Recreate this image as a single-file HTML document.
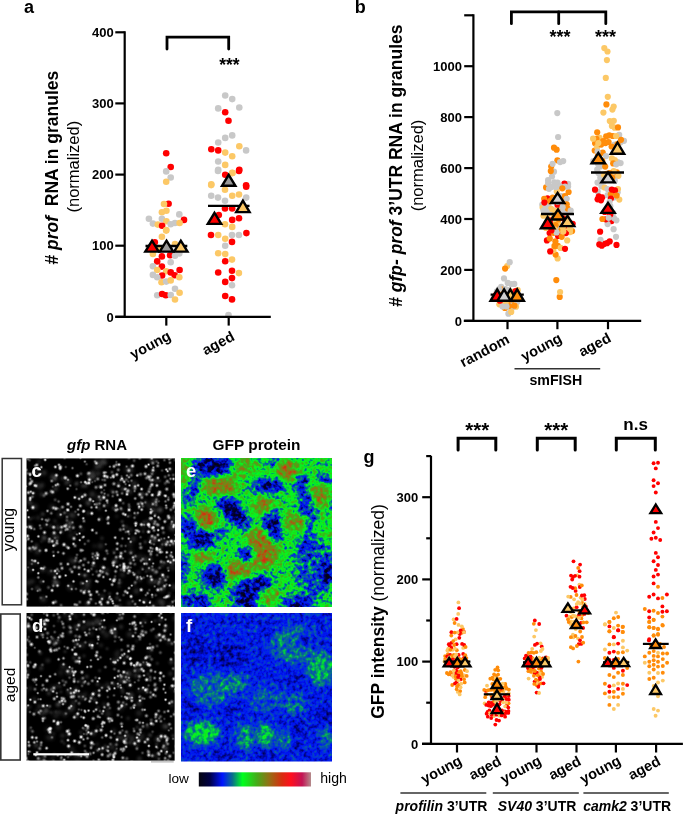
<!DOCTYPE html>
<html><head><meta charset="utf-8"><style>
html,body{margin:0;padding:0;background:#fff;overflow:hidden;width:685px;height:814px;}
svg{display:block;font-family:"Liberation Sans",sans-serif;will-change:transform;}
</style></head><body>
<svg width="685" height="814" viewBox="0 0 685 814">
<rect width="685" height="814" fill="#fff"/>
<text x="24.0" y="12.8" font-size="18" font-weight="bold" text-anchor="start">a</text>
<text transform="translate(58.3 167.7) rotate(-90)" font-size="17.5" font-weight="bold" text-anchor="middle"># <tspan font-style="italic">prof</tspan>&#160; RNA in granules</text>
<text transform="translate(78.8 166.7) rotate(-90)" font-size="16.5" text-anchor="middle">(normalized)</text>
<text transform="translate(172 339) rotate(-28)" font-size="14.6" font-weight="bold" text-anchor="end">young</text>
<text transform="translate(235.5 339.5) rotate(-28)" font-size="14.6" font-weight="bold" text-anchor="end">aged</text>
<path d="M167.0 49.0 L167.0 37.2 L228.7 37.2 L228.7 49.0" fill="none" stroke="#000" stroke-width="2.8" stroke-linecap="round" stroke-linejoin="miter"/>
<text x="219.2" y="70.6" font-size="17.5" font-weight="bold" text-anchor="start">***</text>
<circle cx="166.2" cy="153.3" r="3.3" fill="#ff0000"/>
<circle cx="170.7" cy="167.0" r="3.3" fill="#ff0000"/>
<circle cx="166.2" cy="171.4" r="3.3" fill="#c8c8c8"/>
<circle cx="170.7" cy="177.5" r="3.3" fill="#c8c8c8"/>
<circle cx="166.2" cy="181.8" r="3.3" fill="#fcc866"/>
<circle cx="168.6" cy="203.7" r="3.3" fill="#ff0000"/>
<circle cx="164.0" cy="204.0" r="3.3" fill="#fcc866"/>
<circle cx="166.4" cy="210.7" r="3.3" fill="#fcc866"/>
<circle cx="161.9" cy="212.3" r="3.3" fill="#fcc866"/>
<circle cx="179.3" cy="214.4" r="3.3" fill="#c8c8c8"/>
<circle cx="148.9" cy="218.7" r="3.3" fill="#c8c8c8"/>
<circle cx="161.9" cy="218.7" r="3.3" fill="#c8c8c8"/>
<circle cx="184.0" cy="219.9" r="3.3" fill="#ff0000"/>
<circle cx="166.4" cy="221.2" r="3.3" fill="#fcc866"/>
<circle cx="152.9" cy="223.6" r="3.3" fill="#c8c8c8"/>
<circle cx="157.8" cy="224.6" r="3.3" fill="#fcc866"/>
<circle cx="162.1" cy="225.8" r="3.3" fill="#ff0000"/>
<circle cx="170.7" cy="224.2" r="3.3" fill="#c8c8c8"/>
<circle cx="175.0" cy="223.0" r="3.3" fill="#c8c8c8"/>
<circle cx="179.6" cy="223.0" r="3.3" fill="#fcc866"/>
<circle cx="166.2" cy="230.0" r="3.3" fill="#fcc866"/>
<circle cx="161.9" cy="236.8" r="3.3" fill="#fcc866"/>
<circle cx="166.2" cy="230.6" r="3.3" fill="#fcc866"/>
<circle cx="154.8" cy="242.3" r="3.3" fill="#ff0000"/>
<circle cx="152.9" cy="254.0" r="3.3" fill="#fcc866"/>
<circle cx="161.9" cy="256.4" r="3.3" fill="#ff0000"/>
<circle cx="170.1" cy="255.2" r="3.3" fill="#ff0000"/>
<circle cx="175.0" cy="255.8" r="3.3" fill="#c8c8c8"/>
<circle cx="179.3" cy="253.4" r="3.3" fill="#c8c8c8"/>
<circle cx="157.2" cy="261.4" r="3.3" fill="#ff0000"/>
<circle cx="170.7" cy="262.2" r="3.3" fill="#c8c8c8"/>
<circle cx="152.9" cy="266.3" r="3.3" fill="#c8c8c8"/>
<circle cx="161.9" cy="266.6" r="3.3" fill="#ff0000"/>
<circle cx="179.6" cy="270.0" r="3.3" fill="#ff0000"/>
<circle cx="157.2" cy="270.0" r="3.3" fill="#fcc866"/>
<circle cx="166.2" cy="271.2" r="3.3" fill="#fcc866"/>
<circle cx="170.7" cy="272.4" r="3.3" fill="#ff0000"/>
<circle cx="174.7" cy="275.2" r="3.3" fill="#ff0000"/>
<circle cx="152.9" cy="274.9" r="3.3" fill="#c8c8c8"/>
<circle cx="162.1" cy="275.5" r="3.3" fill="#ff0000"/>
<circle cx="157.2" cy="277.3" r="3.3" fill="#c8c8c8"/>
<circle cx="179.3" cy="277.3" r="3.3" fill="#fcc866"/>
<circle cx="161.5" cy="282.3" r="3.3" fill="#fcc866"/>
<circle cx="166.2" cy="281.6" r="3.3" fill="#c8c8c8"/>
<circle cx="170.7" cy="280.4" r="3.3" fill="#fcc866"/>
<circle cx="175.0" cy="288.8" r="3.3" fill="#c8c8c8"/>
<circle cx="179.6" cy="292.7" r="3.3" fill="#fcc866"/>
<circle cx="157.2" cy="295.2" r="3.3" fill="#c8c8c8"/>
<circle cx="162.1" cy="294.0" r="3.3" fill="#ff0000"/>
<circle cx="165.8" cy="295.2" r="3.3" fill="#ff0000"/>
<circle cx="170.7" cy="295.0" r="3.3" fill="#c8c8c8"/>
<circle cx="175.0" cy="299.5" r="3.3" fill="#fcc866"/>
<circle cx="175.0" cy="244.0" r="3.3" fill="#fcc866"/>
<circle cx="158.0" cy="248.0" r="3.3" fill="#fcc866"/>
<circle cx="170.0" cy="249.0" r="3.3" fill="#c8c8c8"/>
<circle cx="225.2" cy="95.5" r="3.3" fill="#c8c8c8"/>
<circle cx="232.2" cy="99.1" r="3.3" fill="#c8c8c8"/>
<circle cx="218.2" cy="108.4" r="3.3" fill="#c8c8c8"/>
<circle cx="239.3" cy="107.5" r="3.3" fill="#c8c8c8"/>
<circle cx="225.2" cy="112.3" r="3.3" fill="#ff0000"/>
<circle cx="228.5" cy="120.7" r="3.3" fill="#ff0000"/>
<circle cx="232.2" cy="135.4" r="3.3" fill="#c8c8c8"/>
<circle cx="225.2" cy="137.9" r="3.3" fill="#c8c8c8"/>
<circle cx="218.2" cy="142.5" r="3.3" fill="#c8c8c8"/>
<circle cx="211.3" cy="149.2" r="3.3" fill="#ff0000"/>
<circle cx="218.2" cy="150.4" r="3.3" fill="#ff0000"/>
<circle cx="239.3" cy="146.2" r="3.3" fill="#fcc866"/>
<circle cx="246.1" cy="150.4" r="3.3" fill="#c8c8c8"/>
<circle cx="225.2" cy="152.6" r="3.3" fill="#fcc866"/>
<circle cx="232.2" cy="156.3" r="3.3" fill="#fcc866"/>
<circle cx="218.2" cy="161.5" r="3.3" fill="#c8c8c8"/>
<circle cx="225.2" cy="164.9" r="3.3" fill="#fcc866"/>
<circle cx="218.2" cy="169.8" r="3.3" fill="#c8c8c8"/>
<circle cx="239.3" cy="169.8" r="3.3" fill="#ff0000"/>
<circle cx="225.2" cy="174.8" r="3.3" fill="#ff0000"/>
<circle cx="232.2" cy="172.9" r="3.3" fill="#fcc866"/>
<circle cx="211.3" cy="184.3" r="3.3" fill="#fcc866"/>
<circle cx="246.1" cy="185.2" r="3.3" fill="#ff0000"/>
<circle cx="218.0" cy="170.9" r="3.3" fill="#c8c8c8"/>
<circle cx="239.0" cy="170.9" r="3.3" fill="#ff0000"/>
<circle cx="232.4" cy="173.1" r="3.3" fill="#fcc866"/>
<circle cx="211.2" cy="185.1" r="3.3" fill="#fcc866"/>
<circle cx="246.2" cy="186.8" r="3.3" fill="#ff0000"/>
<circle cx="225.0" cy="189.7" r="3.3" fill="#fcc866"/>
<circle cx="211.2" cy="195.8" r="3.3" fill="#c8c8c8"/>
<circle cx="218.0" cy="197.6" r="3.3" fill="#c8c8c8"/>
<circle cx="232.2" cy="195.8" r="3.3" fill="#fcc866"/>
<circle cx="239.0" cy="194.5" r="3.3" fill="#fcc866"/>
<circle cx="246.2" cy="197.6" r="3.3" fill="#c8c8c8"/>
<circle cx="225.0" cy="200.7" r="3.3" fill="#c8c8c8"/>
<circle cx="225.0" cy="208.5" r="3.3" fill="#ff0000"/>
<circle cx="232.2" cy="208.4" r="3.3" fill="#ff0000"/>
<circle cx="218.8" cy="215.1" r="3.3" fill="#ff0000"/>
<circle cx="232.2" cy="219.9" r="3.3" fill="#ff0000"/>
<circle cx="239.0" cy="218.2" r="3.3" fill="#ff0000"/>
<circle cx="225.0" cy="224.3" r="3.3" fill="#fcc866"/>
<circle cx="232.2" cy="226.9" r="3.3" fill="#fcc866"/>
<circle cx="211.0" cy="235.0" r="3.3" fill="#ff0000"/>
<circle cx="218.2" cy="235.0" r="3.3" fill="#fcc866"/>
<circle cx="232.0" cy="235.0" r="3.3" fill="#c8c8c8"/>
<circle cx="238.9" cy="235.0" r="3.3" fill="#c8c8c8"/>
<circle cx="246.4" cy="233.1" r="3.3" fill="#ff0000"/>
<circle cx="225.2" cy="238.8" r="3.3" fill="#fcc866"/>
<circle cx="232.0" cy="241.9" r="3.3" fill="#ff0000"/>
<circle cx="225.2" cy="245.7" r="3.3" fill="#c8c8c8"/>
<circle cx="218.2" cy="253.2" r="3.3" fill="#fcc866"/>
<circle cx="225.2" cy="254.1" r="3.3" fill="#fcc866"/>
<circle cx="232.0" cy="259.6" r="3.3" fill="#fcc866"/>
<circle cx="225.2" cy="261.2" r="3.3" fill="#ff0000"/>
<circle cx="218.2" cy="272.5" r="3.3" fill="#ff0000"/>
<circle cx="232.0" cy="270.7" r="3.3" fill="#ff0000"/>
<circle cx="238.9" cy="273.1" r="3.3" fill="#fcc866"/>
<circle cx="232.0" cy="278.1" r="3.3" fill="#ff0000"/>
<circle cx="225.2" cy="281.9" r="3.3" fill="#ff0000"/>
<circle cx="232.0" cy="285.2" r="3.3" fill="#c8c8c8"/>
<circle cx="225.2" cy="296.0" r="3.3" fill="#ff0000"/>
<circle cx="232.0" cy="299.4" r="3.3" fill="#ff0000"/>
<circle cx="228.5" cy="315.0" r="3.3" fill="#c8c8c8"/>
<line x1="145.5" y1="246.0" x2="187.3" y2="246.0" stroke="#000" stroke-width="2.4" stroke-linecap="butt"/>
<line x1="208.0" y1="205.9" x2="249.5" y2="205.9" stroke="#000" stroke-width="2.4" stroke-linecap="butt"/>
<path d="M152.0 240.7 L158.7 251.6 L145.3 251.6 Z" fill="#ff0000" stroke="#000" stroke-width="2.4" stroke-linejoin="miter"/>
<path d="M166.5 240.7 L173.2 251.6 L159.8 251.6 Z" fill="#9a9a9a" stroke="#000" stroke-width="2.4" stroke-linejoin="miter"/>
<path d="M180.8 240.7 L187.5 251.6 L174.1 251.6 Z" fill="#fcc866" stroke="#000" stroke-width="2.4" stroke-linejoin="miter"/>
<path d="M228.7 174.8 L235.4 185.8 L222.0 185.8 Z" fill="#9a9a9a" stroke="#000" stroke-width="2.4" stroke-linejoin="miter"/>
<path d="M242.9 200.7 L249.6 212.1 L236.2 212.1 Z" fill="#fcc866" stroke="#000" stroke-width="2.4" stroke-linejoin="miter"/>
<path d="M214.5 212.9 L221.2 223.9 L207.8 223.9 Z" fill="#ff0000" stroke="#000" stroke-width="2.4" stroke-linejoin="miter"/>
<line x1="124.7" y1="31.2" x2="124.7" y2="317.9" stroke="#000" stroke-width="2.2" stroke-linecap="butt"/>
<line x1="115.3" y1="316.8" x2="270.8" y2="316.8" stroke="#000" stroke-width="2.2" stroke-linecap="butt"/>
<line x1="115.3" y1="316.8" x2="124.7" y2="316.8" stroke="#000" stroke-width="2.2" stroke-linecap="butt"/>
<text x="113.8" y="321.5" font-size="13" font-weight="bold" text-anchor="end">0</text>
<line x1="115.3" y1="245.7" x2="124.7" y2="245.7" stroke="#000" stroke-width="2.2" stroke-linecap="butt"/>
<text x="113.8" y="250.4" font-size="13" font-weight="bold" text-anchor="end">100</text>
<line x1="115.3" y1="174.6" x2="124.7" y2="174.6" stroke="#000" stroke-width="2.2" stroke-linecap="butt"/>
<text x="113.8" y="179.2" font-size="13" font-weight="bold" text-anchor="end">200</text>
<line x1="115.3" y1="103.4" x2="124.7" y2="103.4" stroke="#000" stroke-width="2.2" stroke-linecap="butt"/>
<text x="113.8" y="108.1" font-size="13" font-weight="bold" text-anchor="end">300</text>
<line x1="115.3" y1="32.3" x2="124.7" y2="32.3" stroke="#000" stroke-width="2.2" stroke-linecap="butt"/>
<text x="113.8" y="37.0" font-size="13" font-weight="bold" text-anchor="end">400</text>
<line x1="166.3" y1="316.8" x2="166.3" y2="325.6" stroke="#000" stroke-width="2.2" stroke-linecap="butt"/>
<line x1="228.7" y1="316.8" x2="228.7" y2="325.6" stroke="#000" stroke-width="2.2" stroke-linecap="butt"/>
<text x="354.7" y="12.7" font-size="18" font-weight="bold" text-anchor="start">b</text>
<circle cx="513.1" cy="295.1" r="3.1" fill="#c8c8c8"/>
<circle cx="511.0" cy="291.6" r="3.1" fill="#fcc866"/>
<circle cx="514.3" cy="283.9" r="3.1" fill="#c8c8c8"/>
<circle cx="519.0" cy="297.0" r="3.1" fill="#c8c8c8"/>
<circle cx="501.2" cy="286.9" r="3.1" fill="#c8c8c8"/>
<circle cx="511.1" cy="284.1" r="3.1" fill="#c8c8c8"/>
<circle cx="502.3" cy="295.8" r="3.1" fill="#fcc866"/>
<circle cx="507.3" cy="294.7" r="3.1" fill="#c8c8c8"/>
<circle cx="498.8" cy="292.6" r="3.1" fill="#c8c8c8"/>
<circle cx="507.2" cy="266.1" r="3.1" fill="#fcc866"/>
<circle cx="505.2" cy="295.3" r="3.1" fill="#ff8c0a"/>
<circle cx="496.9" cy="291.3" r="3.1" fill="#c8c8c8"/>
<circle cx="516.4" cy="298.4" r="3.1" fill="#ff0000"/>
<circle cx="510.9" cy="301.6" r="3.1" fill="#ff8c0a"/>
<circle cx="517.2" cy="302.1" r="3.1" fill="#c8c8c8"/>
<circle cx="509.2" cy="307.6" r="3.1" fill="#c8c8c8"/>
<circle cx="508.3" cy="290.2" r="3.1" fill="#c8c8c8"/>
<circle cx="515.6" cy="294.6" r="3.1" fill="#ff0000"/>
<circle cx="499.3" cy="304.3" r="3.1" fill="#fcc866"/>
<circle cx="505.1" cy="268.6" r="3.1" fill="#ff8c0a"/>
<circle cx="516.0" cy="306.7" r="3.1" fill="#fcc866"/>
<circle cx="508.4" cy="313.7" r="3.1" fill="#c8c8c8"/>
<circle cx="511.3" cy="297.7" r="3.1" fill="#ff8c0a"/>
<circle cx="513.4" cy="292.3" r="3.1" fill="#fcc866"/>
<circle cx="512.8" cy="307.2" r="3.1" fill="#c8c8c8"/>
<circle cx="511.5" cy="305.7" r="3.1" fill="#c8c8c8"/>
<circle cx="513.7" cy="298.8" r="3.1" fill="#fcc866"/>
<circle cx="504.9" cy="308.0" r="3.1" fill="#ff8c0a"/>
<circle cx="517.7" cy="290.2" r="3.1" fill="#fcc866"/>
<circle cx="515.6" cy="291.2" r="3.1" fill="#ff0000"/>
<circle cx="503.1" cy="300.3" r="3.1" fill="#ff0000"/>
<circle cx="503.1" cy="293.8" r="3.1" fill="#fcc866"/>
<circle cx="502.5" cy="289.6" r="3.1" fill="#ff8c0a"/>
<circle cx="499.9" cy="300.7" r="3.1" fill="#ff0000"/>
<circle cx="501.2" cy="292.2" r="3.1" fill="#ff8c0a"/>
<circle cx="509.0" cy="298.9" r="3.1" fill="#ff0000"/>
<circle cx="496.1" cy="294.8" r="3.1" fill="#ff0000"/>
<circle cx="504.2" cy="297.3" r="3.1" fill="#fcc866"/>
<circle cx="508.0" cy="296.6" r="3.1" fill="#ff8c0a"/>
<circle cx="505.6" cy="292.1" r="3.1" fill="#ff8c0a"/>
<circle cx="504.0" cy="278.4" r="3.1" fill="#c8c8c8"/>
<circle cx="501.0" cy="296.9" r="3.1" fill="#ff8c0a"/>
<circle cx="505.5" cy="289.2" r="3.1" fill="#c8c8c8"/>
<circle cx="509.1" cy="306.0" r="3.1" fill="#ff8c0a"/>
<circle cx="514.4" cy="305.7" r="3.1" fill="#ff8c0a"/>
<circle cx="506.2" cy="299.3" r="3.1" fill="#c8c8c8"/>
<circle cx="509.7" cy="262.2" r="3.1" fill="#c8c8c8"/>
<circle cx="499.1" cy="289.2" r="3.1" fill="#c8c8c8"/>
<circle cx="505.7" cy="302.8" r="3.1" fill="#fcc866"/>
<circle cx="498.2" cy="296.9" r="3.1" fill="#c8c8c8"/>
<circle cx="506.5" cy="306.5" r="3.1" fill="#c8c8c8"/>
<circle cx="507.7" cy="282.9" r="3.1" fill="#c8c8c8"/>
<circle cx="517.6" cy="295.8" r="3.1" fill="#ff0000"/>
<circle cx="499.3" cy="295.3" r="3.1" fill="#ff8c0a"/>
<circle cx="502.5" cy="306.5" r="3.1" fill="#c8c8c8"/>
<circle cx="511.2" cy="311.9" r="3.1" fill="#fcc866"/>
<circle cx="508.7" cy="293.1" r="3.1" fill="#c8c8c8"/>
<circle cx="510.6" cy="294.7" r="3.1" fill="#c8c8c8"/>
<circle cx="496.1" cy="297.6" r="3.1" fill="#c8c8c8"/>
<circle cx="565.8" cy="211.8" r="3.1" fill="#c8c8c8"/>
<circle cx="558.1" cy="137.0" r="3.1" fill="#c8c8c8"/>
<circle cx="546.9" cy="240.4" r="3.1" fill="#ff0000"/>
<circle cx="555.4" cy="241.3" r="3.1" fill="#ff8c0a"/>
<circle cx="552.7" cy="224.4" r="3.1" fill="#fcc866"/>
<circle cx="559.0" cy="230.9" r="3.1" fill="#c8c8c8"/>
<circle cx="561.3" cy="196.1" r="3.1" fill="#c8c8c8"/>
<circle cx="554.0" cy="171.7" r="3.1" fill="#c8c8c8"/>
<circle cx="549.6" cy="233.1" r="3.1" fill="#ff0000"/>
<circle cx="549.9" cy="223.1" r="3.1" fill="#ff0000"/>
<circle cx="568.1" cy="183.9" r="3.1" fill="#c8c8c8"/>
<circle cx="562.5" cy="199.8" r="3.1" fill="#ff8c0a"/>
<circle cx="552.0" cy="176.5" r="3.1" fill="#c8c8c8"/>
<circle cx="557.2" cy="215.7" r="3.1" fill="#fcc866"/>
<circle cx="568.6" cy="192.0" r="3.1" fill="#ff8c0a"/>
<circle cx="558.6" cy="224.1" r="3.1" fill="#fcc866"/>
<circle cx="547.5" cy="198.4" r="3.1" fill="#ff0000"/>
<circle cx="565.4" cy="230.0" r="3.1" fill="#ff0000"/>
<circle cx="543.4" cy="215.7" r="3.1" fill="#fcc866"/>
<circle cx="556.6" cy="149.7" r="3.1" fill="#ff8c0a"/>
<circle cx="556.8" cy="191.5" r="3.1" fill="#fcc866"/>
<circle cx="557.4" cy="160.3" r="3.1" fill="#ff8c0a"/>
<circle cx="568.1" cy="186.4" r="3.1" fill="#c8c8c8"/>
<circle cx="572.7" cy="223.8" r="3.1" fill="#ff0000"/>
<circle cx="553.6" cy="232.8" r="3.1" fill="#ff8c0a"/>
<circle cx="559.7" cy="296.9" r="3.1" fill="#ff8c0a"/>
<circle cx="557.6" cy="258.4" r="3.1" fill="#fcc866"/>
<circle cx="542.3" cy="204.7" r="3.1" fill="#c8c8c8"/>
<circle cx="566.9" cy="218.0" r="3.1" fill="#fcc866"/>
<circle cx="565.1" cy="220.3" r="3.1" fill="#ff8c0a"/>
<circle cx="564.4" cy="183.6" r="3.1" fill="#ff0000"/>
<circle cx="554.2" cy="182.3" r="3.1" fill="#c8c8c8"/>
<circle cx="557.3" cy="113.1" r="3.1" fill="#c8c8c8"/>
<circle cx="547.7" cy="203.4" r="3.1" fill="#fcc866"/>
<circle cx="548.0" cy="225.6" r="3.1" fill="#fcc866"/>
<circle cx="567.6" cy="208.5" r="3.1" fill="#ff8c0a"/>
<circle cx="546.2" cy="209.1" r="3.1" fill="#fcc866"/>
<circle cx="563.2" cy="161.1" r="3.1" fill="#c8c8c8"/>
<circle cx="551.2" cy="166.5" r="3.1" fill="#ff8c0a"/>
<circle cx="549.1" cy="210.3" r="3.1" fill="#fcc866"/>
<circle cx="549.8" cy="238.6" r="3.1" fill="#ff8c0a"/>
<circle cx="546.0" cy="227.9" r="3.1" fill="#fcc866"/>
<circle cx="557.5" cy="182.7" r="3.1" fill="#c8c8c8"/>
<circle cx="547.0" cy="215.6" r="3.1" fill="#fcc866"/>
<circle cx="546.1" cy="187.4" r="3.1" fill="#ff8c0a"/>
<circle cx="565.0" cy="196.0" r="3.1" fill="#ff8c0a"/>
<circle cx="555.7" cy="187.1" r="3.1" fill="#c8c8c8"/>
<circle cx="567.8" cy="231.0" r="3.1" fill="#fcc866"/>
<circle cx="559.9" cy="209.0" r="3.1" fill="#ff8c0a"/>
<circle cx="556.4" cy="221.8" r="3.1" fill="#fcc866"/>
<circle cx="558.1" cy="235.9" r="3.1" fill="#ff0000"/>
<circle cx="557.5" cy="205.0" r="3.1" fill="#ff0000"/>
<circle cx="557.8" cy="245.9" r="3.1" fill="#ff8c0a"/>
<circle cx="566.7" cy="198.8" r="3.1" fill="#c8c8c8"/>
<circle cx="550.8" cy="171.1" r="3.1" fill="#ff8c0a"/>
<circle cx="548.7" cy="207.1" r="3.1" fill="#c8c8c8"/>
<circle cx="557.5" cy="210.5" r="3.1" fill="#fcc866"/>
<circle cx="548.1" cy="183.2" r="3.1" fill="#c8c8c8"/>
<circle cx="555.6" cy="254.6" r="3.1" fill="#ff8c0a"/>
<circle cx="551.6" cy="186.9" r="3.1" fill="#c8c8c8"/>
<circle cx="549.8" cy="220.4" r="3.1" fill="#ff0000"/>
<circle cx="557.7" cy="201.7" r="3.1" fill="#c8c8c8"/>
<circle cx="566.7" cy="204.3" r="3.1" fill="#ff8c0a"/>
<circle cx="558.6" cy="228.5" r="3.1" fill="#c8c8c8"/>
<circle cx="548.1" cy="180.2" r="3.1" fill="#c8c8c8"/>
<circle cx="550.9" cy="226.7" r="3.1" fill="#ff0000"/>
<circle cx="560.0" cy="186.2" r="3.1" fill="#c8c8c8"/>
<circle cx="562.6" cy="207.2" r="3.1" fill="#c8c8c8"/>
<circle cx="551.4" cy="212.6" r="3.1" fill="#c8c8c8"/>
<circle cx="561.4" cy="230.0" r="3.1" fill="#ff8c0a"/>
<circle cx="572.1" cy="231.1" r="3.1" fill="#ff8c0a"/>
<circle cx="555.6" cy="225.2" r="3.1" fill="#ff8c0a"/>
<circle cx="570.0" cy="232.1" r="3.1" fill="#fcc866"/>
<circle cx="559.9" cy="214.1" r="3.1" fill="#ff0000"/>
<circle cx="552.7" cy="197.7" r="3.1" fill="#ff8c0a"/>
<circle cx="562.6" cy="212.5" r="3.1" fill="#c8c8c8"/>
<circle cx="562.9" cy="227.5" r="3.1" fill="#fcc866"/>
<circle cx="554.5" cy="229.3" r="3.1" fill="#fcc866"/>
<circle cx="563.1" cy="218.3" r="3.1" fill="#ff0000"/>
<circle cx="554.0" cy="147.7" r="3.1" fill="#ff8c0a"/>
<circle cx="553.1" cy="210.1" r="3.1" fill="#c8c8c8"/>
<circle cx="551.2" cy="208.8" r="3.1" fill="#fcc866"/>
<circle cx="542.6" cy="207.6" r="3.1" fill="#fcc866"/>
<circle cx="565.9" cy="233.1" r="3.1" fill="#ff0000"/>
<circle cx="560.1" cy="162.1" r="3.1" fill="#c8c8c8"/>
<circle cx="544.2" cy="198.8" r="3.1" fill="#ff8c0a"/>
<circle cx="550.0" cy="201.2" r="3.1" fill="#ff8c0a"/>
<circle cx="570.7" cy="210.6" r="3.1" fill="#c8c8c8"/>
<circle cx="549.0" cy="188.8" r="3.1" fill="#c8c8c8"/>
<circle cx="565.0" cy="186.7" r="3.1" fill="#c8c8c8"/>
<circle cx="561.7" cy="236.8" r="3.1" fill="#ff8c0a"/>
<circle cx="560.4" cy="217.0" r="3.1" fill="#ff8c0a"/>
<circle cx="560.6" cy="247.9" r="3.1" fill="#fcc866"/>
<circle cx="552.6" cy="163.8" r="3.1" fill="#c8c8c8"/>
<circle cx="565.0" cy="248.8" r="3.1" fill="#ff0000"/>
<circle cx="563.3" cy="231.6" r="3.1" fill="#fcc866"/>
<circle cx="556.6" cy="232.4" r="3.1" fill="#c8c8c8"/>
<circle cx="553.3" cy="250.2" r="3.1" fill="#fcc866"/>
<circle cx="546.5" cy="211.5" r="3.1" fill="#c8c8c8"/>
<circle cx="543.4" cy="210.5" r="3.1" fill="#c8c8c8"/>
<circle cx="553.9" cy="216.2" r="3.1" fill="#fcc866"/>
<circle cx="562.3" cy="188.3" r="3.1" fill="#ff8c0a"/>
<circle cx="551.4" cy="230.5" r="3.1" fill="#ff0000"/>
<circle cx="545.4" cy="205.4" r="3.1" fill="#c8c8c8"/>
<circle cx="550.2" cy="251.4" r="3.1" fill="#ff0000"/>
<circle cx="544.4" cy="202.6" r="3.1" fill="#ff0000"/>
<circle cx="554.5" cy="245.9" r="3.1" fill="#ff8c0a"/>
<circle cx="570.1" cy="229.0" r="3.1" fill="#fcc866"/>
<circle cx="567.2" cy="240.4" r="3.1" fill="#fcc866"/>
<circle cx="555.1" cy="211.1" r="3.1" fill="#fcc866"/>
<circle cx="556.3" cy="280.1" r="3.1" fill="#ff8c0a"/>
<circle cx="558.6" cy="219.3" r="3.1" fill="#ff8c0a"/>
<circle cx="546.6" cy="222.9" r="3.1" fill="#ff8c0a"/>
<circle cx="555.2" cy="199.7" r="3.1" fill="#c8c8c8"/>
<circle cx="560.1" cy="292.0" r="3.1" fill="#fcc866"/>
<circle cx="601.0" cy="200.3" r="3.1" fill="#ff0000"/>
<circle cx="611.9" cy="125.9" r="3.1" fill="#fcc866"/>
<circle cx="609.0" cy="177.8" r="3.1" fill="#fcc866"/>
<circle cx="599.6" cy="137.9" r="3.1" fill="#fcc866"/>
<circle cx="601.5" cy="186.3" r="3.1" fill="#c8c8c8"/>
<circle cx="593.3" cy="161.2" r="3.1" fill="#c8c8c8"/>
<circle cx="604.3" cy="48.1" r="3.1" fill="#fcc866"/>
<circle cx="611.9" cy="158.4" r="3.1" fill="#fcc866"/>
<circle cx="608.3" cy="221.2" r="3.1" fill="#ff0000"/>
<circle cx="608.6" cy="142.0" r="3.1" fill="#ff8c0a"/>
<circle cx="597.6" cy="199.3" r="3.1" fill="#ff0000"/>
<circle cx="599.8" cy="153.3" r="3.1" fill="#ff8c0a"/>
<circle cx="611.6" cy="221.1" r="3.1" fill="#ff0000"/>
<circle cx="597.7" cy="191.5" r="3.1" fill="#c8c8c8"/>
<circle cx="594.7" cy="150.5" r="3.1" fill="#ff8c0a"/>
<circle cx="620.6" cy="163.1" r="3.1" fill="#c8c8c8"/>
<circle cx="607.6" cy="224.1" r="3.1" fill="#c8c8c8"/>
<circle cx="615.2" cy="176.3" r="3.1" fill="#c8c8c8"/>
<circle cx="614.4" cy="144.7" r="3.1" fill="#c8c8c8"/>
<circle cx="609.3" cy="135.3" r="3.1" fill="#ff8c0a"/>
<circle cx="600.9" cy="175.5" r="3.1" fill="#ff8c0a"/>
<circle cx="602.7" cy="152.7" r="3.1" fill="#ff8c0a"/>
<circle cx="617.7" cy="192.3" r="3.1" fill="#c8c8c8"/>
<circle cx="613.7" cy="106.5" r="3.1" fill="#fcc866"/>
<circle cx="610.3" cy="206.2" r="3.1" fill="#c8c8c8"/>
<circle cx="605.7" cy="219.3" r="3.1" fill="#ff0000"/>
<circle cx="609.8" cy="121.1" r="3.1" fill="#fcc866"/>
<circle cx="614.0" cy="218.1" r="3.1" fill="#c8c8c8"/>
<circle cx="616.8" cy="172.4" r="3.1" fill="#ff8c0a"/>
<circle cx="602.4" cy="219.0" r="3.1" fill="#ff8c0a"/>
<circle cx="613.6" cy="229.2" r="3.1" fill="#c8c8c8"/>
<circle cx="598.8" cy="196.3" r="3.1" fill="#ff0000"/>
<circle cx="602.3" cy="197.3" r="3.1" fill="#ff0000"/>
<circle cx="613.8" cy="120.8" r="3.1" fill="#fcc866"/>
<circle cx="616.5" cy="244.9" r="3.1" fill="#ff0000"/>
<circle cx="614.7" cy="127.7" r="3.1" fill="#fcc866"/>
<circle cx="604.0" cy="243.9" r="3.1" fill="#ff0000"/>
<circle cx="606.6" cy="173.8" r="3.1" fill="#ff8c0a"/>
<circle cx="602.7" cy="164.6" r="3.1" fill="#ff8c0a"/>
<circle cx="596.6" cy="160.0" r="3.1" fill="#fcc866"/>
<circle cx="613.7" cy="171.2" r="3.1" fill="#fcc866"/>
<circle cx="608.6" cy="211.7" r="3.1" fill="#ff0000"/>
<circle cx="612.8" cy="136.0" r="3.1" fill="#ff8c0a"/>
<circle cx="616.0" cy="236.8" r="3.1" fill="#c8c8c8"/>
<circle cx="600.1" cy="231.7" r="3.1" fill="#ff0000"/>
<circle cx="601.8" cy="245.7" r="3.1" fill="#ff0000"/>
<circle cx="611.6" cy="146.5" r="3.1" fill="#ff8c0a"/>
<circle cx="597.2" cy="169.7" r="3.1" fill="#c8c8c8"/>
<circle cx="603.4" cy="112.6" r="3.1" fill="#fcc866"/>
<circle cx="617.7" cy="162.0" r="3.1" fill="#c8c8c8"/>
<circle cx="614.0" cy="197.4" r="3.1" fill="#c8c8c8"/>
<circle cx="619.3" cy="199.6" r="3.1" fill="#fcc866"/>
<circle cx="618.4" cy="175.8" r="3.1" fill="#fcc866"/>
<circle cx="618.0" cy="127.4" r="3.1" fill="#ff8c0a"/>
<circle cx="614.8" cy="160.0" r="3.1" fill="#fcc866"/>
<circle cx="620.3" cy="142.5" r="3.1" fill="#c8c8c8"/>
<circle cx="606.0" cy="156.1" r="3.1" fill="#c8c8c8"/>
<circle cx="607.6" cy="195.1" r="3.1" fill="#c8c8c8"/>
<circle cx="595.1" cy="143.3" r="3.1" fill="#ff8c0a"/>
<circle cx="613.2" cy="213.1" r="3.1" fill="#c8c8c8"/>
<circle cx="618.0" cy="189.0" r="3.1" fill="#fcc866"/>
<circle cx="616.4" cy="220.3" r="3.1" fill="#c8c8c8"/>
<circle cx="597.1" cy="147.0" r="3.1" fill="#fcc866"/>
<circle cx="605.8" cy="77.9" r="3.1" fill="#fcc866"/>
<circle cx="600.3" cy="177.8" r="3.1" fill="#c8c8c8"/>
<circle cx="601.2" cy="144.6" r="3.1" fill="#ff8c0a"/>
<circle cx="607.8" cy="96.8" r="3.1" fill="#fcc866"/>
<circle cx="600.2" cy="166.4" r="3.1" fill="#c8c8c8"/>
<circle cx="596.4" cy="138.9" r="3.1" fill="#ff8c0a"/>
<circle cx="606.2" cy="136.4" r="3.1" fill="#ff8c0a"/>
<circle cx="604.6" cy="187.5" r="3.1" fill="#fcc866"/>
<circle cx="605.2" cy="166.6" r="3.1" fill="#ff8c0a"/>
<circle cx="603.1" cy="141.0" r="3.1" fill="#ff8c0a"/>
<circle cx="624.0" cy="140.8" r="3.1" fill="#c8c8c8"/>
<circle cx="613.2" cy="163.4" r="3.1" fill="#ff8c0a"/>
<circle cx="603.8" cy="181.5" r="3.1" fill="#c8c8c8"/>
<circle cx="603.7" cy="174.5" r="3.1" fill="#fcc866"/>
<circle cx="598.2" cy="164.3" r="3.1" fill="#c8c8c8"/>
<circle cx="614.8" cy="180.7" r="3.1" fill="#c8c8c8"/>
<circle cx="597.5" cy="182.6" r="3.1" fill="#c8c8c8"/>
<circle cx="597.2" cy="132.3" r="3.1" fill="#ff8c0a"/>
<circle cx="612.3" cy="177.5" r="3.1" fill="#ff8c0a"/>
<circle cx="610.8" cy="194.3" r="3.1" fill="#ff8c0a"/>
<circle cx="609.7" cy="241.4" r="3.1" fill="#ff0000"/>
<circle cx="604.7" cy="212.0" r="3.1" fill="#ff0000"/>
<circle cx="609.6" cy="173.1" r="3.1" fill="#ff8c0a"/>
<circle cx="598.3" cy="143.1" r="3.1" fill="#fcc866"/>
<circle cx="606.4" cy="104.4" r="3.1" fill="#ff8c0a"/>
<circle cx="610.9" cy="198.5" r="3.1" fill="#ff0000"/>
<circle cx="617.5" cy="144.0" r="3.1" fill="#ff8c0a"/>
<circle cx="600.5" cy="239.8" r="3.1" fill="#c8c8c8"/>
<circle cx="607.5" cy="189.0" r="3.1" fill="#c8c8c8"/>
<circle cx="597.9" cy="155.7" r="3.1" fill="#ff8c0a"/>
<circle cx="609.6" cy="201.8" r="3.1" fill="#c8c8c8"/>
<circle cx="612.4" cy="109.6" r="3.1" fill="#fcc866"/>
<circle cx="607.5" cy="51.5" r="3.1" fill="#fcc866"/>
<circle cx="606.9" cy="60.1" r="3.1" fill="#fcc866"/>
<circle cx="619.2" cy="134.9" r="3.1" fill="#c8c8c8"/>
<circle cx="615.0" cy="190.4" r="3.1" fill="#ff0000"/>
<circle cx="599.7" cy="159.0" r="3.1" fill="#ff8c0a"/>
<circle cx="605.5" cy="143.1" r="3.1" fill="#ff8c0a"/>
<circle cx="597.6" cy="151.5" r="3.1" fill="#c8c8c8"/>
<circle cx="595.0" cy="189.7" r="3.1" fill="#ff0000"/>
<circle cx="616.3" cy="164.3" r="3.1" fill="#c8c8c8"/>
<circle cx="611.8" cy="189.6" r="3.1" fill="#ff0000"/>
<circle cx="593.1" cy="138.7" r="3.1" fill="#fcc866"/>
<circle cx="602.2" cy="160.9" r="3.1" fill="#ff8c0a"/>
<circle cx="598.4" cy="173.0" r="3.1" fill="#c8c8c8"/>
<circle cx="599.3" cy="244.4" r="3.1" fill="#ff0000"/>
<circle cx="616.6" cy="195.5" r="3.1" fill="#ff8c0a"/>
<circle cx="600.6" cy="181.4" r="3.1" fill="#c8c8c8"/>
<circle cx="610.3" cy="214.5" r="3.1" fill="#ff0000"/>
<circle cx="608.6" cy="217.8" r="3.1" fill="#c8c8c8"/>
<circle cx="621.0" cy="139.8" r="3.1" fill="#ff8c0a"/>
<circle cx="607.0" cy="243.2" r="3.1" fill="#ff0000"/>
<circle cx="616.1" cy="136.0" r="3.1" fill="#fcc866"/>
<line x1="490.6" y1="294.6" x2="523.8" y2="294.6" stroke="#000" stroke-width="2.4" stroke-linecap="butt"/>
<line x1="541.0" y1="214.0" x2="574.0" y2="214.0" stroke="#000" stroke-width="2.4" stroke-linecap="butt"/>
<line x1="591.0" y1="172.5" x2="624.0" y2="172.5" stroke="#000" stroke-width="2.4" stroke-linecap="butt"/>
<path d="M510.3 289.4 L517.0 300.8 L503.6 300.8 Z" fill="#fcc866" stroke="#000" stroke-width="2.4" stroke-linejoin="miter"/>
<path d="M497.2 289.4 L503.9 300.8 L490.5 300.8 Z" fill="#ff0000" stroke="#000" stroke-width="2.4" stroke-linejoin="miter"/>
<path d="M504.1 289.4 L510.8 300.8 L497.4 300.8 Z" fill="#d0d0d0" stroke="#000" stroke-width="2.4" stroke-linejoin="miter"/>
<path d="M517.2 289.4 L523.9 300.8 L510.5 300.8 Z" fill="#ff8c0a" stroke="#000" stroke-width="2.4" stroke-linejoin="miter"/>
<path d="M557.6 192.9 L564.3 203.0 L550.9 203.0 Z" fill="#d0d0d0" stroke="#000" stroke-width="2.4" stroke-linejoin="miter"/>
<path d="M558.0 209.4 L564.7 219.5 L551.3 219.5 Z" fill="#ff8c0a" stroke="#000" stroke-width="2.4" stroke-linejoin="miter"/>
<path d="M547.6 217.1 L554.3 228.3 L540.9 228.3 Z" fill="#ff0000" stroke="#000" stroke-width="2.4" stroke-linejoin="miter"/>
<path d="M567.5 215.9 L574.2 226.1 L560.8 226.1 Z" fill="#fcc866" stroke="#000" stroke-width="2.4" stroke-linejoin="miter"/>
<path d="M617.5 142.5 L624.2 153.7 L610.8 153.7 Z" fill="#fcc866" stroke="#000" stroke-width="2.4" stroke-linejoin="miter"/>
<path d="M598.3 152.9 L605.0 163.2 L591.6 163.2 Z" fill="#ff8c0a" stroke="#000" stroke-width="2.4" stroke-linejoin="miter"/>
<path d="M608.0 172.3 L614.7 182.4 L601.3 182.4 Z" fill="#d0d0d0" stroke="#000" stroke-width="2.4" stroke-linejoin="miter"/>
<path d="M608.0 202.9 L614.7 212.9 L601.3 212.9 Z" fill="#ff0000" stroke="#000" stroke-width="2.4" stroke-linejoin="miter"/>
<line x1="473.4" y1="14.2" x2="473.4" y2="321.9" stroke="#000" stroke-width="2.2" stroke-linecap="butt"/>
<line x1="463.8" y1="320.8" x2="641.2" y2="320.8" stroke="#000" stroke-width="2.2" stroke-linecap="butt"/>
<line x1="464.2" y1="320.8" x2="473.4" y2="320.8" stroke="#000" stroke-width="2.2" stroke-linecap="butt"/>
<text x="462.0" y="325.5" font-size="13" font-weight="bold" text-anchor="end">0</text>
<line x1="464.2" y1="269.9" x2="473.4" y2="269.9" stroke="#000" stroke-width="2.2" stroke-linecap="butt"/>
<text x="462.0" y="274.6" font-size="13" font-weight="bold" text-anchor="end">200</text>
<line x1="464.2" y1="219.0" x2="473.4" y2="219.0" stroke="#000" stroke-width="2.2" stroke-linecap="butt"/>
<text x="462.0" y="223.7" font-size="13" font-weight="bold" text-anchor="end">400</text>
<line x1="464.2" y1="168.1" x2="473.4" y2="168.1" stroke="#000" stroke-width="2.2" stroke-linecap="butt"/>
<text x="462.0" y="172.8" font-size="13" font-weight="bold" text-anchor="end">600</text>
<line x1="464.2" y1="117.1" x2="473.4" y2="117.1" stroke="#000" stroke-width="2.2" stroke-linecap="butt"/>
<text x="462.0" y="121.8" font-size="13" font-weight="bold" text-anchor="end">800</text>
<line x1="464.2" y1="66.2" x2="473.4" y2="66.2" stroke="#000" stroke-width="2.2" stroke-linecap="butt"/>
<text x="462.0" y="70.9" font-size="13" font-weight="bold" text-anchor="end">1000</text>
<line x1="464.2" y1="15.3" x2="473.4" y2="15.3" stroke="#000" stroke-width="2.2" stroke-linecap="butt"/>
<line x1="507.5" y1="320.8" x2="507.5" y2="329.2" stroke="#000" stroke-width="2.2" stroke-linecap="butt"/>
<line x1="557.4" y1="320.8" x2="557.4" y2="329.2" stroke="#000" stroke-width="2.2" stroke-linecap="butt"/>
<line x1="608.0" y1="320.8" x2="608.0" y2="329.2" stroke="#000" stroke-width="2.2" stroke-linecap="butt"/>
<text transform="translate(401.6 165.7) rotate(-90)" font-size="17.5" font-weight="bold" text-anchor="middle"># <tspan font-style="italic">gfp- prof</tspan> 3’UTR RNA in granules</text>
<text transform="translate(423.2 165.5) rotate(-90)" font-size="16.5" text-anchor="middle">(normalized)</text>
<text transform="translate(510.5 342.5) rotate(-28)" font-size="14.6" font-weight="bold" text-anchor="end">random</text>
<text transform="translate(563 341.2) rotate(-28)" font-size="14.6" font-weight="bold" text-anchor="end">young</text>
<text transform="translate(612 341) rotate(-28)" font-size="14.6" font-weight="bold" text-anchor="end">aged</text>
<line x1="514.5" y1="368.7" x2="600.2" y2="368.7" stroke="#333" stroke-width="1.4" stroke-linecap="butt"/>
<text x="555.8" y="384.8" font-size="14.2" font-weight="bold" text-anchor="middle">smFISH</text>
<path d="M511.4 23.7 L511.4 11.8 L605.8 11.8 L605.8 23.7" fill="none" stroke="#000" stroke-width="2.8" stroke-linecap="round" stroke-linejoin="miter"/>
<line x1="558.7" y1="11.8" x2="558.7" y2="23.7" stroke="#000" stroke-width="2.8" stroke-linecap="round"/>
<text x="549.5" y="43.3" font-size="18" font-weight="bold" text-anchor="start">***</text>
<text x="595.0" y="43.3" font-size="18" font-weight="bold" text-anchor="start">***</text>
<text x="363.6" y="462.5" font-size="18" font-weight="bold" text-anchor="start">g</text>
<circle cx="456.8" cy="650.2" r="1.9" fill="#ff8c0a"/>
<circle cx="463.2" cy="653.9" r="1.9" fill="#ff0000"/>
<circle cx="451.4" cy="632.2" r="1.9" fill="#ff0000"/>
<circle cx="456.7" cy="681.9" r="1.9" fill="#ff0000"/>
<circle cx="463.0" cy="629.1" r="1.9" fill="#ff8c0a"/>
<circle cx="461.2" cy="662.4" r="1.9" fill="#ff8c0a"/>
<circle cx="463.2" cy="647.9" r="1.9" fill="#fcc866"/>
<circle cx="460.7" cy="630.3" r="1.9" fill="#ff0000"/>
<circle cx="449.6" cy="645.8" r="1.9" fill="#ff0000"/>
<circle cx="460.6" cy="679.3" r="1.9" fill="#ff0000"/>
<circle cx="447.5" cy="665.1" r="1.9" fill="#ff0000"/>
<circle cx="457.3" cy="674.9" r="1.9" fill="#ff0000"/>
<circle cx="459.1" cy="608.2" r="1.9" fill="#ff0000"/>
<circle cx="445.2" cy="659.1" r="1.9" fill="#ff8c0a"/>
<circle cx="465.6" cy="661.1" r="1.9" fill="#ff8c0a"/>
<circle cx="464.2" cy="645.0" r="1.9" fill="#ff0000"/>
<circle cx="460.7" cy="671.2" r="1.9" fill="#ff8c0a"/>
<circle cx="452.6" cy="665.5" r="1.9" fill="#fcc866"/>
<circle cx="454.6" cy="623.0" r="1.9" fill="#ff8c0a"/>
<circle cx="458.4" cy="602.4" r="1.9" fill="#fcc866"/>
<circle cx="464.7" cy="682.4" r="1.9" fill="#ff8c0a"/>
<circle cx="464.8" cy="670.0" r="1.9" fill="#ff8c0a"/>
<circle cx="458.9" cy="684.8" r="1.9" fill="#ff8c0a"/>
<circle cx="463.3" cy="661.5" r="1.9" fill="#fcc866"/>
<circle cx="459.6" cy="665.9" r="1.9" fill="#ff8c0a"/>
<circle cx="455.4" cy="673.1" r="1.9" fill="#ff0000"/>
<circle cx="451.4" cy="642.8" r="1.9" fill="#ff0000"/>
<circle cx="447.9" cy="654.1" r="1.9" fill="#ff8c0a"/>
<circle cx="452.7" cy="649.8" r="1.9" fill="#fcc866"/>
<circle cx="465.6" cy="647.0" r="1.9" fill="#ff8c0a"/>
<circle cx="461.9" cy="632.8" r="1.9" fill="#ff8c0a"/>
<circle cx="461.8" cy="626.3" r="1.9" fill="#fcc866"/>
<circle cx="457.8" cy="691.9" r="1.9" fill="#fcc866"/>
<circle cx="462.1" cy="643.9" r="1.9" fill="#ff0000"/>
<circle cx="456.7" cy="689.2" r="1.9" fill="#ff8c0a"/>
<circle cx="454.6" cy="663.8" r="1.9" fill="#ff8c0a"/>
<circle cx="453.8" cy="654.8" r="1.9" fill="#ff8c0a"/>
<circle cx="458.3" cy="671.8" r="1.9" fill="#ff8c0a"/>
<circle cx="463.9" cy="665.7" r="1.9" fill="#fcc866"/>
<circle cx="450.2" cy="654.8" r="1.9" fill="#ff0000"/>
<circle cx="459.8" cy="634.0" r="1.9" fill="#ff0000"/>
<circle cx="467.9" cy="661.7" r="1.9" fill="#fcc866"/>
<circle cx="451.2" cy="647.5" r="1.9" fill="#ff0000"/>
<circle cx="459.4" cy="659.0" r="1.9" fill="#ff8c0a"/>
<circle cx="447.4" cy="650.4" r="1.9" fill="#fcc866"/>
<circle cx="451.3" cy="635.6" r="1.9" fill="#ff8c0a"/>
<circle cx="456.8" cy="662.8" r="1.9" fill="#ff8c0a"/>
<circle cx="459.7" cy="675.3" r="1.9" fill="#ff0000"/>
<circle cx="458.4" cy="680.2" r="1.9" fill="#fcc866"/>
<circle cx="453.0" cy="673.1" r="1.9" fill="#fcc866"/>
<circle cx="454.9" cy="648.6" r="1.9" fill="#fcc866"/>
<circle cx="460.2" cy="691.1" r="1.9" fill="#ff8c0a"/>
<circle cx="452.2" cy="685.0" r="1.9" fill="#ff8c0a"/>
<circle cx="456.2" cy="670.6" r="1.9" fill="#ff0000"/>
<circle cx="448.3" cy="648.6" r="1.9" fill="#fcc866"/>
<circle cx="445.1" cy="656.1" r="1.9" fill="#ff8c0a"/>
<circle cx="455.2" cy="661.3" r="1.9" fill="#ff0000"/>
<circle cx="448.8" cy="644.2" r="1.9" fill="#ff0000"/>
<circle cx="460.6" cy="687.3" r="1.9" fill="#fcc866"/>
<circle cx="463.9" cy="658.0" r="1.9" fill="#ff0000"/>
<circle cx="455.7" cy="678.7" r="1.9" fill="#ff8c0a"/>
<circle cx="453.6" cy="676.9" r="1.9" fill="#fcc866"/>
<circle cx="447.8" cy="661.5" r="1.9" fill="#ff0000"/>
<circle cx="458.5" cy="624.9" r="1.9" fill="#fcc866"/>
<circle cx="465.3" cy="655.2" r="1.9" fill="#ff8c0a"/>
<circle cx="467.0" cy="671.2" r="1.9" fill="#fcc866"/>
<circle cx="449.7" cy="661.5" r="1.9" fill="#ff8c0a"/>
<circle cx="450.8" cy="674.3" r="1.9" fill="#ff0000"/>
<circle cx="453.1" cy="662.0" r="1.9" fill="#ff0000"/>
<circle cx="450.8" cy="659.0" r="1.9" fill="#fcc866"/>
<circle cx="456.0" cy="658.4" r="1.9" fill="#ff8c0a"/>
<circle cx="455.6" cy="639.3" r="1.9" fill="#fcc866"/>
<circle cx="453.1" cy="658.2" r="1.9" fill="#ff0000"/>
<circle cx="459.7" cy="694.4" r="1.9" fill="#fcc866"/>
<circle cx="466.4" cy="658.1" r="1.9" fill="#ff8c0a"/>
<circle cx="457.7" cy="667.5" r="1.9" fill="#ff0000"/>
<circle cx="464.0" cy="632.0" r="1.9" fill="#ff0000"/>
<circle cx="452.0" cy="656.0" r="1.9" fill="#ff8c0a"/>
<circle cx="455.0" cy="656.5" r="1.9" fill="#fcc866"/>
<circle cx="446.9" cy="673.0" r="1.9" fill="#ff8c0a"/>
<circle cx="455.0" cy="683.5" r="1.9" fill="#ff0000"/>
<circle cx="464.0" cy="679.2" r="1.9" fill="#ff8c0a"/>
<circle cx="453.6" cy="619.4" r="1.9" fill="#fcc866"/>
<circle cx="459.8" cy="632.3" r="1.9" fill="#ff0000"/>
<circle cx="461.2" cy="683.7" r="1.9" fill="#fcc866"/>
<circle cx="448.6" cy="674.3" r="1.9" fill="#ff8c0a"/>
<circle cx="457.6" cy="632.5" r="1.9" fill="#fcc866"/>
<circle cx="458.7" cy="654.9" r="1.9" fill="#ff0000"/>
<circle cx="458.2" cy="613.9" r="1.9" fill="#fcc866"/>
<circle cx="451.6" cy="661.0" r="1.9" fill="#ff0000"/>
<circle cx="464.0" cy="632.2" r="1.9" fill="#fcc866"/>
<circle cx="450.3" cy="649.8" r="1.9" fill="#ff8c0a"/>
<circle cx="459.3" cy="637.8" r="1.9" fill="#ff0000"/>
<circle cx="464.3" cy="675.4" r="1.9" fill="#fcc866"/>
<circle cx="452.3" cy="675.4" r="1.9" fill="#fcc866"/>
<circle cx="456.6" cy="644.2" r="1.9" fill="#ff0000"/>
<circle cx="466.7" cy="675.9" r="1.9" fill="#ff8c0a"/>
<circle cx="453.2" cy="641.1" r="1.9" fill="#ff8c0a"/>
<circle cx="447.3" cy="656.3" r="1.9" fill="#ff0000"/>
<circle cx="450.5" cy="672.2" r="1.9" fill="#ff8c0a"/>
<circle cx="456.6" cy="618.9" r="1.9" fill="#ff0000"/>
<circle cx="454.6" cy="632.6" r="1.9" fill="#ff8c0a"/>
<circle cx="461.5" cy="673.5" r="1.9" fill="#ff8c0a"/>
<circle cx="455.7" cy="676.5" r="1.9" fill="#ff8c0a"/>
<circle cx="444.5" cy="661.5" r="1.9" fill="#fcc866"/>
<circle cx="454.2" cy="645.0" r="1.9" fill="#ff8c0a"/>
<circle cx="461.9" cy="676.2" r="1.9" fill="#ff8c0a"/>
<circle cx="459.0" cy="662.1" r="1.9" fill="#ff0000"/>
<circle cx="453.8" cy="670.4" r="1.9" fill="#fcc866"/>
<circle cx="457.1" cy="686.5" r="1.9" fill="#ff8c0a"/>
<circle cx="449.4" cy="657.3" r="1.9" fill="#fcc866"/>
<circle cx="454.7" cy="666.8" r="1.9" fill="#ff0000"/>
<circle cx="458.1" cy="677.1" r="1.9" fill="#ff0000"/>
<circle cx="446.2" cy="662.0" r="1.9" fill="#ff8c0a"/>
<circle cx="456.3" cy="654.4" r="1.9" fill="#fcc866"/>
<circle cx="461.8" cy="659.3" r="1.9" fill="#ff8c0a"/>
<circle cx="499.8" cy="711.8" r="1.9" fill="#ff0000"/>
<circle cx="494.4" cy="685.4" r="1.9" fill="#ff8c0a"/>
<circle cx="505.3" cy="683.9" r="1.9" fill="#ff8c0a"/>
<circle cx="493.5" cy="702.0" r="1.9" fill="#ff8c0a"/>
<circle cx="485.8" cy="690.9" r="1.9" fill="#ff0000"/>
<circle cx="504.3" cy="689.0" r="1.9" fill="#fcc866"/>
<circle cx="493.8" cy="716.0" r="1.9" fill="#fcc866"/>
<circle cx="495.2" cy="692.2" r="1.9" fill="#ff8c0a"/>
<circle cx="504.8" cy="711.3" r="1.9" fill="#ff0000"/>
<circle cx="499.2" cy="715.5" r="1.9" fill="#fcc866"/>
<circle cx="499.9" cy="691.4" r="1.9" fill="#ff8c0a"/>
<circle cx="495.2" cy="669.8" r="1.9" fill="#ff8c0a"/>
<circle cx="503.6" cy="713.8" r="1.9" fill="#ff0000"/>
<circle cx="484.6" cy="703.4" r="1.9" fill="#fcc866"/>
<circle cx="491.2" cy="718.1" r="1.9" fill="#ff0000"/>
<circle cx="496.0" cy="675.9" r="1.9" fill="#ff8c0a"/>
<circle cx="493.5" cy="689.6" r="1.9" fill="#ff8c0a"/>
<circle cx="502.5" cy="687.3" r="1.9" fill="#ff8c0a"/>
<circle cx="490.9" cy="706.2" r="1.9" fill="#ff0000"/>
<circle cx="503.3" cy="712.2" r="1.9" fill="#fcc866"/>
<circle cx="496.8" cy="681.9" r="1.9" fill="#ff8c0a"/>
<circle cx="492.5" cy="677.7" r="1.9" fill="#ff8c0a"/>
<circle cx="499.5" cy="704.3" r="1.9" fill="#ff0000"/>
<circle cx="496.0" cy="701.8" r="1.9" fill="#fcc866"/>
<circle cx="499.3" cy="694.7" r="1.9" fill="#fcc866"/>
<circle cx="496.8" cy="688.3" r="1.9" fill="#fcc866"/>
<circle cx="491.5" cy="689.8" r="1.9" fill="#ff8c0a"/>
<circle cx="487.0" cy="685.7" r="1.9" fill="#fcc866"/>
<circle cx="501.5" cy="712.6" r="1.9" fill="#ff0000"/>
<circle cx="497.5" cy="667.4" r="1.9" fill="#ff8c0a"/>
<circle cx="503.5" cy="691.9" r="1.9" fill="#fcc866"/>
<circle cx="502.7" cy="683.6" r="1.9" fill="#fcc866"/>
<circle cx="495.3" cy="703.9" r="1.9" fill="#fcc866"/>
<circle cx="508.8" cy="693.2" r="1.9" fill="#fcc866"/>
<circle cx="508.9" cy="689.6" r="1.9" fill="#ff8c0a"/>
<circle cx="490.3" cy="678.7" r="1.9" fill="#ff8c0a"/>
<circle cx="502.0" cy="710.4" r="1.9" fill="#ff0000"/>
<circle cx="505.1" cy="716.7" r="1.9" fill="#ff0000"/>
<circle cx="507.0" cy="704.9" r="1.9" fill="#ff0000"/>
<circle cx="505.7" cy="686.7" r="1.9" fill="#ff8c0a"/>
<circle cx="502.1" cy="690.1" r="1.9" fill="#ff8c0a"/>
<circle cx="493.6" cy="679.6" r="1.9" fill="#ff8c0a"/>
<circle cx="505.2" cy="706.4" r="1.9" fill="#fcc866"/>
<circle cx="508.6" cy="703.3" r="1.9" fill="#ff8c0a"/>
<circle cx="502.2" cy="699.6" r="1.9" fill="#ff0000"/>
<circle cx="491.4" cy="695.5" r="1.9" fill="#ff8c0a"/>
<circle cx="508.7" cy="696.0" r="1.9" fill="#ff0000"/>
<circle cx="489.4" cy="710.4" r="1.9" fill="#ff0000"/>
<circle cx="508.3" cy="707.6" r="1.9" fill="#ff0000"/>
<circle cx="491.2" cy="702.9" r="1.9" fill="#ff0000"/>
<circle cx="497.3" cy="705.5" r="1.9" fill="#ff0000"/>
<circle cx="495.3" cy="724.6" r="1.9" fill="#ff0000"/>
<circle cx="508.5" cy="711.1" r="1.9" fill="#ff0000"/>
<circle cx="487.5" cy="711.9" r="1.9" fill="#ff0000"/>
<circle cx="485.2" cy="697.2" r="1.9" fill="#ff8c0a"/>
<circle cx="487.7" cy="690.3" r="1.9" fill="#ff8c0a"/>
<circle cx="487.8" cy="716.7" r="1.9" fill="#ff0000"/>
<circle cx="493.0" cy="704.7" r="1.9" fill="#ff0000"/>
<circle cx="499.1" cy="709.9" r="1.9" fill="#ff0000"/>
<circle cx="498.2" cy="670.3" r="1.9" fill="#ff8c0a"/>
<circle cx="484.2" cy="689.9" r="1.9" fill="#ff8c0a"/>
<circle cx="500.5" cy="701.2" r="1.9" fill="#ff0000"/>
<circle cx="500.7" cy="688.7" r="1.9" fill="#ff0000"/>
<circle cx="498.7" cy="688.8" r="1.9" fill="#ff8c0a"/>
<circle cx="501.7" cy="715.4" r="1.9" fill="#ff0000"/>
<circle cx="500.3" cy="678.8" r="1.9" fill="#ff8c0a"/>
<circle cx="495.7" cy="678.5" r="1.9" fill="#fcc866"/>
<circle cx="506.2" cy="702.6" r="1.9" fill="#fcc866"/>
<circle cx="498.9" cy="699.4" r="1.9" fill="#fcc866"/>
<circle cx="492.3" cy="683.9" r="1.9" fill="#ff8c0a"/>
<circle cx="506.7" cy="694.6" r="1.9" fill="#ff8c0a"/>
<circle cx="491.6" cy="714.8" r="1.9" fill="#ff0000"/>
<circle cx="488.6" cy="705.5" r="1.9" fill="#ff0000"/>
<circle cx="495.7" cy="710.1" r="1.9" fill="#fcc866"/>
<circle cx="486.7" cy="694.3" r="1.9" fill="#ff8c0a"/>
<circle cx="503.1" cy="702.3" r="1.9" fill="#fcc866"/>
<circle cx="496.0" cy="697.5" r="1.9" fill="#ff8c0a"/>
<circle cx="498.1" cy="674.6" r="1.9" fill="#ff8c0a"/>
<circle cx="508.3" cy="712.9" r="1.9" fill="#ff0000"/>
<circle cx="489.7" cy="713.1" r="1.9" fill="#fcc866"/>
<circle cx="494.1" cy="674.3" r="1.9" fill="#ff8c0a"/>
<circle cx="489.6" cy="689.8" r="1.9" fill="#ff8c0a"/>
<circle cx="499.0" cy="720.6" r="1.9" fill="#ff0000"/>
<circle cx="500.9" cy="697.3" r="1.9" fill="#ff0000"/>
<circle cx="486.3" cy="704.9" r="1.9" fill="#ff0000"/>
<circle cx="496.4" cy="714.7" r="1.9" fill="#ff0000"/>
<circle cx="505.8" cy="713.1" r="1.9" fill="#ff0000"/>
<circle cx="495.4" cy="689.5" r="1.9" fill="#ff8c0a"/>
<circle cx="492.2" cy="697.8" r="1.9" fill="#ff0000"/>
<circle cx="506.7" cy="688.7" r="1.9" fill="#ff8c0a"/>
<circle cx="496.5" cy="720.0" r="1.9" fill="#ff0000"/>
<circle cx="506.7" cy="711.8" r="1.9" fill="#ff0000"/>
<circle cx="504.1" cy="698.2" r="1.9" fill="#fcc866"/>
<circle cx="498.0" cy="679.1" r="1.9" fill="#ff8c0a"/>
<circle cx="506.4" cy="699.0" r="1.9" fill="#ff0000"/>
<circle cx="488.7" cy="702.3" r="1.9" fill="#ff0000"/>
<circle cx="486.6" cy="713.7" r="1.9" fill="#ff0000"/>
<circle cx="504.8" cy="696.2" r="1.9" fill="#ff0000"/>
<circle cx="508.8" cy="699.7" r="1.9" fill="#ff0000"/>
<circle cx="498.1" cy="713.1" r="1.9" fill="#fcc866"/>
<circle cx="493.9" cy="696.1" r="1.9" fill="#ff8c0a"/>
<circle cx="497.5" cy="691.1" r="1.9" fill="#ff8c0a"/>
<circle cx="498.4" cy="697.1" r="1.9" fill="#fcc866"/>
<circle cx="500.7" cy="685.5" r="1.9" fill="#fcc866"/>
<circle cx="534.9" cy="644.9" r="1.9" fill="#ff0000"/>
<circle cx="546.0" cy="661.2" r="1.9" fill="#fcc866"/>
<circle cx="536.6" cy="692.6" r="1.9" fill="#ff0000"/>
<circle cx="538.9" cy="668.5" r="1.9" fill="#ff8c0a"/>
<circle cx="532.8" cy="672.8" r="1.9" fill="#fcc866"/>
<circle cx="526.3" cy="658.1" r="1.9" fill="#ff8c0a"/>
<circle cx="538.0" cy="680.6" r="1.9" fill="#ff8c0a"/>
<circle cx="532.3" cy="658.2" r="1.9" fill="#ff8c0a"/>
<circle cx="532.2" cy="648.8" r="1.9" fill="#fcc866"/>
<circle cx="535.4" cy="666.4" r="1.9" fill="#ff0000"/>
<circle cx="546.2" cy="657.4" r="1.9" fill="#ff0000"/>
<circle cx="541.7" cy="646.4" r="1.9" fill="#ff0000"/>
<circle cx="532.7" cy="660.7" r="1.9" fill="#ff8c0a"/>
<circle cx="538.8" cy="684.3" r="1.9" fill="#ff0000"/>
<circle cx="536.5" cy="685.1" r="1.9" fill="#ff8c0a"/>
<circle cx="536.9" cy="682.9" r="1.9" fill="#fcc866"/>
<circle cx="528.1" cy="657.0" r="1.9" fill="#ff8c0a"/>
<circle cx="542.9" cy="658.3" r="1.9" fill="#ff0000"/>
<circle cx="542.5" cy="649.0" r="1.9" fill="#fcc866"/>
<circle cx="542.1" cy="676.9" r="1.9" fill="#fcc866"/>
<circle cx="539.2" cy="624.0" r="1.9" fill="#ff0000"/>
<circle cx="534.8" cy="620.5" r="1.9" fill="#ff0000"/>
<circle cx="541.4" cy="667.9" r="1.9" fill="#ff0000"/>
<circle cx="539.0" cy="659.8" r="1.9" fill="#ff8c0a"/>
<circle cx="536.3" cy="652.2" r="1.9" fill="#ff8c0a"/>
<circle cx="528.2" cy="665.0" r="1.9" fill="#ff0000"/>
<circle cx="528.4" cy="671.2" r="1.9" fill="#ff8c0a"/>
<circle cx="541.2" cy="671.7" r="1.9" fill="#ff8c0a"/>
<circle cx="539.5" cy="677.0" r="1.9" fill="#ff0000"/>
<circle cx="541.6" cy="665.6" r="1.9" fill="#ff0000"/>
<circle cx="540.7" cy="673.8" r="1.9" fill="#fcc866"/>
<circle cx="534.8" cy="673.6" r="1.9" fill="#ff0000"/>
<circle cx="539.1" cy="693.0" r="1.9" fill="#fcc866"/>
<circle cx="530.6" cy="665.9" r="1.9" fill="#ff8c0a"/>
<circle cx="538.9" cy="672.6" r="1.9" fill="#fcc866"/>
<circle cx="529.1" cy="658.7" r="1.9" fill="#ff8c0a"/>
<circle cx="548.4" cy="661.2" r="1.9" fill="#fcc866"/>
<circle cx="530.5" cy="656.3" r="1.9" fill="#ff0000"/>
<circle cx="534.2" cy="636.6" r="1.9" fill="#fcc866"/>
<circle cx="536.7" cy="672.6" r="1.9" fill="#ff0000"/>
<circle cx="532.9" cy="669.4" r="1.9" fill="#ff8c0a"/>
<circle cx="527.9" cy="668.0" r="1.9" fill="#ff0000"/>
<circle cx="531.1" cy="663.6" r="1.9" fill="#ff8c0a"/>
<circle cx="530.8" cy="671.8" r="1.9" fill="#ff8c0a"/>
<circle cx="534.9" cy="671.0" r="1.9" fill="#ff8c0a"/>
<circle cx="524.7" cy="658.4" r="1.9" fill="#ff0000"/>
<circle cx="548.1" cy="658.0" r="1.9" fill="#fcc866"/>
<circle cx="535.9" cy="630.1" r="1.9" fill="#fcc866"/>
<circle cx="533.0" cy="667.2" r="1.9" fill="#ff0000"/>
<circle cx="537.7" cy="675.3" r="1.9" fill="#ff8c0a"/>
<circle cx="534.6" cy="681.6" r="1.9" fill="#ff0000"/>
<circle cx="543.1" cy="674.0" r="1.9" fill="#ff8c0a"/>
<circle cx="546.3" cy="659.8" r="1.9" fill="#ff8c0a"/>
<circle cx="540.5" cy="643.3" r="1.9" fill="#fcc866"/>
<circle cx="533.8" cy="623.8" r="1.9" fill="#ff8c0a"/>
<circle cx="540.0" cy="679.1" r="1.9" fill="#ff0000"/>
<circle cx="542.1" cy="662.5" r="1.9" fill="#ff8c0a"/>
<circle cx="531.4" cy="652.4" r="1.9" fill="#ff8c0a"/>
<circle cx="528.5" cy="653.0" r="1.9" fill="#ff8c0a"/>
<circle cx="533.8" cy="652.8" r="1.9" fill="#ff8c0a"/>
<circle cx="541.1" cy="683.4" r="1.9" fill="#ff8c0a"/>
<circle cx="530.7" cy="659.6" r="1.9" fill="#ff0000"/>
<circle cx="543.3" cy="660.4" r="1.9" fill="#ff8c0a"/>
<circle cx="528.6" cy="678.6" r="1.9" fill="#fcc866"/>
<circle cx="527.2" cy="659.3" r="1.9" fill="#ff8c0a"/>
<circle cx="541.1" cy="658.9" r="1.9" fill="#ff8c0a"/>
<circle cx="543.5" cy="683.3" r="1.9" fill="#ff0000"/>
<circle cx="537.7" cy="665.6" r="1.9" fill="#fcc866"/>
<circle cx="535.9" cy="679.6" r="1.9" fill="#ff8c0a"/>
<circle cx="526.0" cy="655.7" r="1.9" fill="#ff0000"/>
<circle cx="534.3" cy="683.9" r="1.9" fill="#ff8c0a"/>
<circle cx="533.0" cy="665.4" r="1.9" fill="#ff8c0a"/>
<circle cx="539.3" cy="657.7" r="1.9" fill="#fcc866"/>
<circle cx="540.9" cy="651.0" r="1.9" fill="#fcc866"/>
<circle cx="538.3" cy="686.8" r="1.9" fill="#ff0000"/>
<circle cx="534.6" cy="659.3" r="1.9" fill="#fcc866"/>
<circle cx="547.3" cy="663.3" r="1.9" fill="#fcc866"/>
<circle cx="526.8" cy="662.1" r="1.9" fill="#ff0000"/>
<circle cx="537.1" cy="643.6" r="1.9" fill="#ff0000"/>
<circle cx="533.9" cy="675.8" r="1.9" fill="#ff8c0a"/>
<circle cx="530.4" cy="669.7" r="1.9" fill="#ff8c0a"/>
<circle cx="544.7" cy="658.6" r="1.9" fill="#ff8c0a"/>
<circle cx="570.8" cy="624.2" r="1.9" fill="#fcc866"/>
<circle cx="582.4" cy="602.9" r="1.9" fill="#ff8c0a"/>
<circle cx="574.2" cy="608.2" r="1.9" fill="#fcc866"/>
<circle cx="573.4" cy="637.3" r="1.9" fill="#fcc866"/>
<circle cx="577.1" cy="617.0" r="1.9" fill="#ff8c0a"/>
<circle cx="579.4" cy="584.6" r="1.9" fill="#fcc866"/>
<circle cx="575.6" cy="590.9" r="1.9" fill="#ff0000"/>
<circle cx="580.0" cy="603.5" r="1.9" fill="#fcc866"/>
<circle cx="583.1" cy="627.9" r="1.9" fill="#ff0000"/>
<circle cx="570.5" cy="586.8" r="1.9" fill="#ff0000"/>
<circle cx="578.4" cy="661.6" r="1.9" fill="#ff8c0a"/>
<circle cx="578.1" cy="602.1" r="1.9" fill="#fcc866"/>
<circle cx="582.5" cy="614.8" r="1.9" fill="#ff8c0a"/>
<circle cx="570.9" cy="647.2" r="1.9" fill="#ff8c0a"/>
<circle cx="566.5" cy="615.7" r="1.9" fill="#ff0000"/>
<circle cx="573.1" cy="625.0" r="1.9" fill="#ff8c0a"/>
<circle cx="577.5" cy="575.3" r="1.9" fill="#fcc866"/>
<circle cx="575.3" cy="623.8" r="1.9" fill="#fcc866"/>
<circle cx="584.8" cy="599.0" r="1.9" fill="#ff0000"/>
<circle cx="575.1" cy="575.8" r="1.9" fill="#ff0000"/>
<circle cx="584.6" cy="603.8" r="1.9" fill="#fcc866"/>
<circle cx="576.7" cy="607.2" r="1.9" fill="#ff0000"/>
<circle cx="581.4" cy="618.4" r="1.9" fill="#ff8c0a"/>
<circle cx="575.2" cy="588.2" r="1.9" fill="#ff8c0a"/>
<circle cx="569.5" cy="617.0" r="1.9" fill="#fcc866"/>
<circle cx="571.9" cy="617.0" r="1.9" fill="#ff8c0a"/>
<circle cx="582.2" cy="611.3" r="1.9" fill="#ff0000"/>
<circle cx="579.6" cy="571.2" r="1.9" fill="#ff0000"/>
<circle cx="578.1" cy="638.6" r="1.9" fill="#fcc866"/>
<circle cx="582.3" cy="599.4" r="1.9" fill="#fcc866"/>
<circle cx="580.8" cy="613.4" r="1.9" fill="#fcc866"/>
<circle cx="570.7" cy="596.9" r="1.9" fill="#ff8c0a"/>
<circle cx="588.2" cy="613.1" r="1.9" fill="#ff8c0a"/>
<circle cx="578.2" cy="567.9" r="1.9" fill="#ff8c0a"/>
<circle cx="565.9" cy="611.2" r="1.9" fill="#ff0000"/>
<circle cx="575.7" cy="629.1" r="1.9" fill="#fcc866"/>
<circle cx="579.5" cy="576.7" r="1.9" fill="#ff0000"/>
<circle cx="579.8" cy="587.0" r="1.9" fill="#ff0000"/>
<circle cx="584.3" cy="595.2" r="1.9" fill="#ff0000"/>
<circle cx="578.7" cy="644.1" r="1.9" fill="#ff0000"/>
<circle cx="571.1" cy="621.3" r="1.9" fill="#fcc866"/>
<circle cx="580.6" cy="597.6" r="1.9" fill="#fcc866"/>
<circle cx="581.9" cy="595.5" r="1.9" fill="#ff0000"/>
<circle cx="575.2" cy="616.1" r="1.9" fill="#fcc866"/>
<circle cx="571.5" cy="608.8" r="1.9" fill="#ff8c0a"/>
<circle cx="574.2" cy="621.7" r="1.9" fill="#fcc866"/>
<circle cx="572.9" cy="634.7" r="1.9" fill="#fcc866"/>
<circle cx="585.8" cy="606.5" r="1.9" fill="#ff0000"/>
<circle cx="580.0" cy="640.3" r="1.9" fill="#ff0000"/>
<circle cx="573.0" cy="576.9" r="1.9" fill="#ff0000"/>
<circle cx="575.5" cy="636.0" r="1.9" fill="#ff8c0a"/>
<circle cx="581.8" cy="585.4" r="1.9" fill="#ff8c0a"/>
<circle cx="576.7" cy="604.1" r="1.9" fill="#fcc866"/>
<circle cx="570.9" cy="637.2" r="1.9" fill="#ff8c0a"/>
<circle cx="579.1" cy="614.9" r="1.9" fill="#ff0000"/>
<circle cx="568.4" cy="611.0" r="1.9" fill="#ff8c0a"/>
<circle cx="579.1" cy="617.9" r="1.9" fill="#fcc866"/>
<circle cx="572.7" cy="588.0" r="1.9" fill="#ff0000"/>
<circle cx="584.5" cy="613.9" r="1.9" fill="#ff0000"/>
<circle cx="577.5" cy="622.6" r="1.9" fill="#ff8c0a"/>
<circle cx="574.1" cy="599.3" r="1.9" fill="#fcc866"/>
<circle cx="583.1" cy="606.8" r="1.9" fill="#ff8c0a"/>
<circle cx="573.5" cy="561.3" r="1.9" fill="#ff0000"/>
<circle cx="573.1" cy="648.4" r="1.9" fill="#ff8c0a"/>
<circle cx="573.1" cy="615.4" r="1.9" fill="#fcc866"/>
<circle cx="580.1" cy="564.6" r="1.9" fill="#ff0000"/>
<circle cx="568.0" cy="619.3" r="1.9" fill="#ff8c0a"/>
<circle cx="586.7" cy="622.3" r="1.9" fill="#ff8c0a"/>
<circle cx="581.2" cy="643.9" r="1.9" fill="#ff0000"/>
<circle cx="582.0" cy="637.0" r="1.9" fill="#ff8c0a"/>
<circle cx="571.0" cy="575.6" r="1.9" fill="#ff0000"/>
<circle cx="572.2" cy="579.5" r="1.9" fill="#ff0000"/>
<circle cx="586.0" cy="612.2" r="1.9" fill="#ff8c0a"/>
<circle cx="580.9" cy="622.8" r="1.9" fill="#ff0000"/>
<circle cx="580.2" cy="631.5" r="1.9" fill="#ff8c0a"/>
<circle cx="568.7" cy="622.1" r="1.9" fill="#ff8c0a"/>
<circle cx="583.3" cy="622.4" r="1.9" fill="#ff8c0a"/>
<circle cx="579.4" cy="611.4" r="1.9" fill="#ff8c0a"/>
<circle cx="576.9" cy="646.0" r="1.9" fill="#ff8c0a"/>
<circle cx="583.2" cy="642.7" r="1.9" fill="#ff8c0a"/>
<circle cx="576.5" cy="595.0" r="1.9" fill="#ff8c0a"/>
<circle cx="570.7" cy="612.1" r="1.9" fill="#fcc866"/>
<circle cx="568.2" cy="596.6" r="1.9" fill="#fcc866"/>
<circle cx="604.9" cy="624.5" r="1.95" fill="#fcc866"/>
<circle cx="609.4" cy="621.9" r="1.95" fill="#ff8c0a"/>
<circle cx="609.4" cy="626.4" r="1.95" fill="#ff0000"/>
<circle cx="613.8" cy="628.0" r="1.95" fill="#fcc866"/>
<circle cx="618.1" cy="625.6" r="1.95" fill="#ff8c0a"/>
<circle cx="622.9" cy="626.7" r="1.95" fill="#ff8c0a"/>
<circle cx="609.4" cy="631.2" r="1.95" fill="#ff8c0a"/>
<circle cx="618.1" cy="630.4" r="1.95" fill="#ff0000"/>
<circle cx="622.9" cy="632.0" r="1.95" fill="#ff8c0a"/>
<circle cx="613.8" cy="637.2" r="1.95" fill="#ff0000"/>
<circle cx="622.9" cy="640.7" r="1.95" fill="#fcc866"/>
<circle cx="609.4" cy="644.4" r="1.95" fill="#ff8c0a"/>
<circle cx="613.8" cy="644.4" r="1.95" fill="#fcc866"/>
<circle cx="618.1" cy="643.6" r="1.95" fill="#ff0000"/>
<circle cx="604.9" cy="649.5" r="1.95" fill="#fcc866"/>
<circle cx="622.9" cy="647.4" r="1.95" fill="#fcc866"/>
<circle cx="609.4" cy="652.7" r="1.95" fill="#ff0000"/>
<circle cx="613.8" cy="651.6" r="1.95" fill="#ff0000"/>
<circle cx="618.1" cy="652.7" r="1.95" fill="#ff8c0a"/>
<circle cx="622.9" cy="652.2" r="1.95" fill="#ff8c0a"/>
<circle cx="627.2" cy="650.6" r="1.95" fill="#fcc866"/>
<circle cx="613.8" cy="667.9" r="1.95" fill="#ff0000"/>
<circle cx="622.9" cy="670.7" r="1.95" fill="#ff0000"/>
<circle cx="618.1" cy="672.7" r="1.95" fill="#ff8c0a"/>
<circle cx="609.4" cy="675.0" r="1.95" fill="#ff8c0a"/>
<circle cx="622.9" cy="675.0" r="1.95" fill="#ff8c0a"/>
<circle cx="613.8" cy="677.1" r="1.95" fill="#ff8c0a"/>
<circle cx="604.9" cy="683.8" r="1.95" fill="#ff8c0a"/>
<circle cx="609.4" cy="686.2" r="1.95" fill="#ff0000"/>
<circle cx="613.8" cy="685.4" r="1.95" fill="#fcc866"/>
<circle cx="618.1" cy="683.5" r="1.95" fill="#fcc866"/>
<circle cx="622.9" cy="683.8" r="1.95" fill="#ff8c0a"/>
<circle cx="627.2" cy="685.1" r="1.95" fill="#ff0000"/>
<circle cx="618.1" cy="688.9" r="1.95" fill="#ff0000"/>
<circle cx="622.9" cy="688.9" r="1.95" fill="#fcc866"/>
<circle cx="604.9" cy="693.4" r="1.95" fill="#ff8c0a"/>
<circle cx="609.4" cy="691.8" r="1.95" fill="#ff0000"/>
<circle cx="613.8" cy="691.8" r="1.95" fill="#ff8c0a"/>
<circle cx="622.9" cy="693.7" r="1.95" fill="#ff8c0a"/>
<circle cx="609.4" cy="697.1" r="1.95" fill="#fcc866"/>
<circle cx="613.8" cy="697.1" r="1.95" fill="#ff8c0a"/>
<circle cx="618.1" cy="697.1" r="1.95" fill="#ff8c0a"/>
<circle cx="609.4" cy="704.9" r="1.95" fill="#ff8c0a"/>
<circle cx="618.1" cy="704.9" r="1.95" fill="#fcc866"/>
<circle cx="613.8" cy="709.0" r="1.95" fill="#fcc866"/>
<circle cx="616.0" cy="612.6" r="1.95" fill="#fcc866"/>
<circle cx="618.2" cy="617.0" r="1.95" fill="#ff8c0a"/>
<circle cx="613.8" cy="618.3" r="1.95" fill="#ff8c0a"/>
<circle cx="609.4" cy="621.9" r="1.95" fill="#ff8c0a"/>
<circle cx="605.0" cy="624.1" r="1.95" fill="#fcc866"/>
<circle cx="622.6" cy="627.0" r="1.95" fill="#ff8c0a"/>
<circle cx="618.2" cy="630.3" r="1.95" fill="#ff0000"/>
<circle cx="609.4" cy="631.4" r="1.95" fill="#ff8c0a"/>
<circle cx="622.6" cy="632.0" r="1.95" fill="#ff8c0a"/>
<circle cx="613.8" cy="636.9" r="1.95" fill="#ff0000"/>
<circle cx="604.9" cy="658.0" r="1.95" fill="#ff8c0a"/>
<circle cx="609.4" cy="660.0" r="1.95" fill="#ff0000"/>
<circle cx="618.1" cy="659.0" r="1.95" fill="#ff8c0a"/>
<circle cx="627.2" cy="662.0" r="1.95" fill="#fcc866"/>
<circle cx="604.9" cy="665.0" r="1.95" fill="#fcc866"/>
<circle cx="627.2" cy="668.0" r="1.95" fill="#ff8c0a"/>
<circle cx="613.8" cy="660.0" r="1.95" fill="#ff0000"/>
<circle cx="622.9" cy="662.0" r="1.95" fill="#ff0000"/>
<circle cx="618.1" cy="665.0" r="1.95" fill="#ff8c0a"/>
<circle cx="653.6" cy="463.3" r="1.95" fill="#ff0000"/>
<circle cx="658.0" cy="462.7" r="1.95" fill="#ff0000"/>
<circle cx="655.8" cy="468.4" r="1.95" fill="#ff0000"/>
<circle cx="653.6" cy="480.3" r="1.95" fill="#ff0000"/>
<circle cx="658.0" cy="483.2" r="1.95" fill="#ff0000"/>
<circle cx="653.6" cy="486.1" r="1.95" fill="#ff0000"/>
<circle cx="655.8" cy="492.5" r="1.95" fill="#ff0000"/>
<circle cx="655.8" cy="521.9" r="1.95" fill="#ff0000"/>
<circle cx="658.0" cy="528.1" r="1.95" fill="#ff0000"/>
<circle cx="653.6" cy="532.5" r="1.95" fill="#ff0000"/>
<circle cx="651.4" cy="538.7" r="1.95" fill="#ff0000"/>
<circle cx="655.8" cy="537.8" r="1.95" fill="#ff0000"/>
<circle cx="660.2" cy="540.0" r="1.95" fill="#ff0000"/>
<circle cx="655.8" cy="552.9" r="1.95" fill="#ff0000"/>
<circle cx="658.0" cy="557.3" r="1.95" fill="#ff0000"/>
<circle cx="653.6" cy="561.3" r="1.95" fill="#ff0000"/>
<circle cx="658.0" cy="565.0" r="1.95" fill="#ff0000"/>
<circle cx="655.8" cy="569.9" r="1.95" fill="#ff0000"/>
<circle cx="653.6" cy="576.5" r="1.95" fill="#ff0000"/>
<circle cx="658.0" cy="574.6" r="1.95" fill="#ff0000"/>
<circle cx="653.6" cy="583.4" r="1.95" fill="#ff0000"/>
<circle cx="658.0" cy="586.7" r="1.95" fill="#ff8c0a"/>
<circle cx="649.2" cy="596.7" r="1.95" fill="#ff0000"/>
<circle cx="653.6" cy="594.5" r="1.95" fill="#ff0000"/>
<circle cx="658.0" cy="598.4" r="1.95" fill="#ff0000"/>
<circle cx="662.4" cy="598.0" r="1.95" fill="#ff8c0a"/>
<circle cx="666.9" cy="594.5" r="1.95" fill="#ff0000"/>
<circle cx="644.8" cy="609.0" r="1.95" fill="#ff8c0a"/>
<circle cx="649.2" cy="611.3" r="1.95" fill="#ff0000"/>
<circle cx="653.6" cy="610.8" r="1.95" fill="#ff8c0a"/>
<circle cx="658.0" cy="613.0" r="1.95" fill="#ff8c0a"/>
<circle cx="662.4" cy="606.4" r="1.95" fill="#ff0000"/>
<circle cx="662.4" cy="611.7" r="1.95" fill="#ff0000"/>
<circle cx="666.9" cy="611.3" r="1.95" fill="#ff0000"/>
<circle cx="662.4" cy="616.6" r="1.95" fill="#ff8c0a"/>
<circle cx="649.2" cy="617.5" r="1.95" fill="#ff0000"/>
<circle cx="653.6" cy="619.7" r="1.95" fill="#ff8c0a"/>
<circle cx="649.2" cy="621.9" r="1.95" fill="#ff8c0a"/>
<circle cx="662.4" cy="625.0" r="1.95" fill="#ff8c0a"/>
<circle cx="649.2" cy="627.2" r="1.95" fill="#ff8c0a"/>
<circle cx="653.6" cy="628.0" r="1.95" fill="#ff8c0a"/>
<circle cx="658.0" cy="629.2" r="1.95" fill="#ff8c0a"/>
<circle cx="653.6" cy="635.8" r="1.95" fill="#ff8c0a"/>
<circle cx="658.0" cy="634.7" r="1.95" fill="#ff8c0a"/>
<circle cx="649.2" cy="639.1" r="1.95" fill="#ff0000"/>
<circle cx="649.3" cy="621.9" r="1.95" fill="#ff8c0a"/>
<circle cx="653.7" cy="620.0" r="1.95" fill="#ff8c0a"/>
<circle cx="649.3" cy="627.2" r="1.95" fill="#ff8c0a"/>
<circle cx="653.7" cy="628.0" r="1.95" fill="#ff8c0a"/>
<circle cx="658.0" cy="628.8" r="1.95" fill="#ff8c0a"/>
<circle cx="662.8" cy="625.6" r="1.95" fill="#ff8c0a"/>
<circle cx="653.7" cy="635.2" r="1.95" fill="#ff8c0a"/>
<circle cx="658.0" cy="634.0" r="1.95" fill="#ff8c0a"/>
<circle cx="648.9" cy="640.4" r="1.95" fill="#ff0000"/>
<circle cx="649.3" cy="652.7" r="1.95" fill="#ff8c0a"/>
<circle cx="653.7" cy="651.1" r="1.95" fill="#ff8c0a"/>
<circle cx="658.0" cy="652.7" r="1.95" fill="#fcc866"/>
<circle cx="662.8" cy="653.5" r="1.95" fill="#ff8c0a"/>
<circle cx="667.1" cy="653.5" r="1.95" fill="#ff8c0a"/>
<circle cx="644.8" cy="656.4" r="1.95" fill="#ff8c0a"/>
<circle cx="653.7" cy="655.9" r="1.95" fill="#ff8c0a"/>
<circle cx="658.0" cy="656.4" r="1.95" fill="#ff8c0a"/>
<circle cx="649.3" cy="661.8" r="1.95" fill="#ff8c0a"/>
<circle cx="653.7" cy="660.2" r="1.95" fill="#ff8c0a"/>
<circle cx="658.0" cy="661.8" r="1.95" fill="#ff8c0a"/>
<circle cx="662.8" cy="659.1" r="1.95" fill="#ff8c0a"/>
<circle cx="667.1" cy="662.8" r="1.95" fill="#ff8c0a"/>
<circle cx="644.8" cy="662.8" r="1.95" fill="#fcc866"/>
<circle cx="649.3" cy="666.3" r="1.95" fill="#ff8c0a"/>
<circle cx="653.7" cy="664.7" r="1.95" fill="#ff8c0a"/>
<circle cx="658.0" cy="666.6" r="1.95" fill="#ff8c0a"/>
<circle cx="662.8" cy="666.0" r="1.95" fill="#ff8c0a"/>
<circle cx="653.7" cy="669.5" r="1.95" fill="#ff8c0a"/>
<circle cx="649.3" cy="672.7" r="1.95" fill="#fcc866"/>
<circle cx="658.0" cy="673.0" r="1.95" fill="#fcc866"/>
<circle cx="662.8" cy="672.7" r="1.95" fill="#ff8c0a"/>
<circle cx="649.3" cy="679.0" r="1.95" fill="#ff8c0a"/>
<circle cx="653.7" cy="677.8" r="1.95" fill="#ff8c0a"/>
<circle cx="658.0" cy="682.5" r="1.95" fill="#fcc866"/>
<circle cx="662.8" cy="680.6" r="1.95" fill="#fcc866"/>
<circle cx="653.7" cy="686.0" r="1.95" fill="#fcc866"/>
<circle cx="658.0" cy="696.3" r="1.95" fill="#fcc866"/>
<circle cx="653.7" cy="709.0" r="1.95" fill="#fcc866"/>
<circle cx="658.0" cy="710.6" r="1.95" fill="#fcc866"/>
<circle cx="655.6" cy="715.7" r="1.95" fill="#fcc866"/>
<circle cx="660.0" cy="644.0" r="1.95" fill="#ff8c0a"/>
<circle cx="651.0" cy="645.0" r="1.95" fill="#ff8c0a"/>
<circle cx="664.0" cy="647.0" r="1.95" fill="#ff8c0a"/>
<line x1="443.5" y1="661.6" x2="470.4" y2="661.6" stroke="#000" stroke-width="2.2" stroke-linecap="butt"/>
<line x1="483.8" y1="694.3" x2="510.0" y2="694.3" stroke="#000" stroke-width="2.2" stroke-linecap="butt"/>
<line x1="523.0" y1="662.3" x2="550.0" y2="662.3" stroke="#000" stroke-width="2.2" stroke-linecap="butt"/>
<line x1="563.0" y1="610.4" x2="588.5" y2="610.4" stroke="#000" stroke-width="2.2" stroke-linecap="butt"/>
<line x1="603.0" y1="662.3" x2="629.3" y2="662.3" stroke="#000" stroke-width="2.2" stroke-linecap="butt"/>
<line x1="642.9" y1="643.9" x2="668.7" y2="643.9" stroke="#000" stroke-width="2.2" stroke-linecap="butt"/>
<path d="M449.1 657.8 L454.5 666.4 L443.7 666.4 Z" fill="#ff0000" stroke="#000" stroke-width="2.3" stroke-linejoin="miter"/>
<path d="M457.3 657.8 L462.7 666.4 L451.9 666.4 Z" fill="#ff8c0a" stroke="#000" stroke-width="2.3" stroke-linejoin="miter"/>
<path d="M465.1 657.8 L470.5 666.4 L459.7 666.4 Z" fill="#fcc866" stroke="#000" stroke-width="2.3" stroke-linejoin="miter"/>
<path d="M497.0 678.8 L502.4 688.0 L491.6 688.0 Z" fill="#ff8c0a" stroke="#000" stroke-width="2.3" stroke-linejoin="miter"/>
<path d="M497.0 690.3 L502.4 699.0 L491.6 699.0 Z" fill="#fcc866" stroke="#000" stroke-width="2.3" stroke-linejoin="miter"/>
<path d="M497.0 703.9 L502.4 713.2 L491.6 713.2 Z" fill="#ff0000" stroke="#000" stroke-width="2.3" stroke-linejoin="miter"/>
<path d="M528.1 657.6 L533.5 666.3 L522.7 666.3 Z" fill="#ff0000" stroke="#000" stroke-width="2.3" stroke-linejoin="miter"/>
<path d="M536.5 657.6 L541.9 666.3 L531.1 666.3 Z" fill="#ff8c0a" stroke="#000" stroke-width="2.3" stroke-linejoin="miter"/>
<path d="M545.0 657.6 L550.4 666.3 L539.6 666.3 Z" fill="#fcc866" stroke="#000" stroke-width="2.3" stroke-linejoin="miter"/>
<path d="M567.9 603.4 L573.3 611.8 L562.5 611.8 Z" fill="#fcc866" stroke="#000" stroke-width="2.3" stroke-linejoin="miter"/>
<path d="M584.7 605.0 L590.1 613.4 L579.3 613.4 Z" fill="#ff0000" stroke="#000" stroke-width="2.3" stroke-linejoin="miter"/>
<path d="M576.3 619.6 L581.7 628.0 L570.9 628.0 Z" fill="#ff8c0a" stroke="#000" stroke-width="2.3" stroke-linejoin="miter"/>
<path d="M607.8 657.8 L613.2 666.1 L602.4 666.1 Z" fill="#ff0000" stroke="#000" stroke-width="2.3" stroke-linejoin="miter"/>
<path d="M615.7 657.8 L621.1 666.1 L610.3 666.1 Z" fill="#ff8c0a" stroke="#000" stroke-width="2.3" stroke-linejoin="miter"/>
<path d="M623.7 657.8 L629.1 666.1 L618.3 666.1 Z" fill="#fcc866" stroke="#000" stroke-width="2.3" stroke-linejoin="miter"/>
<path d="M655.8 504.5 L661.2 513.2 L650.4 513.2 Z" fill="#ff0000" stroke="#000" stroke-width="2.3" stroke-linejoin="miter"/>
<path d="M655.6 639.4 L661.0 648.0 L650.2 648.0 Z" fill="#ff8c0a" stroke="#000" stroke-width="2.3" stroke-linejoin="miter"/>
<path d="M655.6 684.9 L661.0 694.0 L650.2 694.0 Z" fill="#fcc866" stroke="#000" stroke-width="2.3" stroke-linejoin="miter"/>
<line x1="431.0" y1="455.7" x2="431.0" y2="744.9" stroke="#000" stroke-width="2.2" stroke-linecap="butt"/>
<line x1="422.0" y1="743.8" x2="682.9" y2="743.8" stroke="#000" stroke-width="2.2" stroke-linecap="butt"/>
<line x1="422.2" y1="743.8" x2="431.0" y2="743.8" stroke="#000" stroke-width="2.2" stroke-linecap="butt"/>
<text x="418.2" y="748.5" font-size="13" font-weight="bold" text-anchor="end">0</text>
<line x1="422.2" y1="661.6" x2="431.0" y2="661.6" stroke="#000" stroke-width="2.2" stroke-linecap="butt"/>
<text x="418.2" y="666.3" font-size="13" font-weight="bold" text-anchor="end">100</text>
<line x1="422.2" y1="579.4" x2="431.0" y2="579.4" stroke="#000" stroke-width="2.2" stroke-linecap="butt"/>
<text x="418.2" y="584.1" font-size="13" font-weight="bold" text-anchor="end">200</text>
<line x1="422.2" y1="497.2" x2="431.0" y2="497.2" stroke="#000" stroke-width="2.2" stroke-linecap="butt"/>
<text x="418.2" y="501.9" font-size="13" font-weight="bold" text-anchor="end">300</text>
<line x1="426.2" y1="702.7" x2="431.0" y2="702.7" stroke="#000" stroke-width="2.2" stroke-linecap="butt"/>
<line x1="426.2" y1="620.5" x2="431.0" y2="620.5" stroke="#000" stroke-width="2.2" stroke-linecap="butt"/>
<line x1="426.2" y1="538.3" x2="431.0" y2="538.3" stroke="#000" stroke-width="2.2" stroke-linecap="butt"/>
<line x1="426.2" y1="456.1" x2="431.0" y2="456.1" stroke="#000" stroke-width="2.2" stroke-linecap="butt"/>
<line x1="457.0" y1="743.8" x2="457.0" y2="752.5" stroke="#000" stroke-width="2.2" stroke-linecap="butt"/>
<text transform="translate(463.0 763.7) rotate(-28)" font-size="14.6" font-weight="bold" text-anchor="end">young</text>
<line x1="496.8" y1="743.8" x2="496.8" y2="752.5" stroke="#000" stroke-width="2.2" stroke-linecap="butt"/>
<text transform="translate(502.3 764.3) rotate(-28)" font-size="14.6" font-weight="bold" text-anchor="end">aged</text>
<line x1="536.5" y1="743.8" x2="536.5" y2="752.5" stroke="#000" stroke-width="2.2" stroke-linecap="butt"/>
<text transform="translate(542.5 763.7) rotate(-28)" font-size="14.6" font-weight="bold" text-anchor="end">young</text>
<line x1="576.5" y1="743.8" x2="576.5" y2="752.5" stroke="#000" stroke-width="2.2" stroke-linecap="butt"/>
<text transform="translate(582.0 764.3) rotate(-28)" font-size="14.6" font-weight="bold" text-anchor="end">aged</text>
<line x1="615.9" y1="743.8" x2="615.9" y2="752.5" stroke="#000" stroke-width="2.2" stroke-linecap="butt"/>
<text transform="translate(621.9 763.7) rotate(-28)" font-size="14.6" font-weight="bold" text-anchor="end">young</text>
<line x1="656.1" y1="743.8" x2="656.1" y2="752.5" stroke="#000" stroke-width="2.2" stroke-linecap="butt"/>
<text transform="translate(661.6 764.3) rotate(-28)" font-size="14.6" font-weight="bold" text-anchor="end">aged</text>
<text transform="translate(384.2 611.5) rotate(-90)" font-size="17.5" font-weight="bold" text-anchor="middle">GFP intensity <tspan font-weight="normal">(normalized)</tspan></text>
<line x1="400.4" y1="793.0" x2="486.3" y2="793.0" stroke="#333" stroke-width="1.4" stroke-linecap="butt"/>
<line x1="492.8" y1="793.0" x2="578.8" y2="793.0" stroke="#333" stroke-width="1.4" stroke-linecap="butt"/>
<line x1="583.4" y1="793.0" x2="668.8" y2="793.0" stroke="#333" stroke-width="1.4" stroke-linecap="butt"/>
<text x="441.5" y="810.5" font-size="14" font-weight="bold" text-anchor="middle"><tspan font-style="italic">profilin</tspan> 3’UTR</text>
<text x="537" y="810.5" font-size="14" font-weight="bold" text-anchor="middle"><tspan font-style="italic">SV40</tspan> 3’UTR</text>
<text x="627.1" y="810.5" font-size="14" font-weight="bold" text-anchor="middle"><tspan font-style="italic">camk2</tspan> 3’UTR</text>
<path d="M458.1 450.0 L458.1 438.2 L495.8 438.2 L495.8 450.0" fill="none" stroke="#000" stroke-width="3.0" stroke-linecap="round" stroke-linejoin="miter"/>
<path d="M537.3 450.0 L537.3 438.2 L575.2 438.2 L575.2 450.0" fill="none" stroke="#000" stroke-width="3.0" stroke-linecap="round" stroke-linejoin="miter"/>
<path d="M616.3 450.0 L616.3 438.2 L655.3 438.2 L655.3 450.0" fill="none" stroke="#000" stroke-width="3.0" stroke-linecap="round" stroke-linejoin="miter"/>
<text x="465.3" y="437.0" font-size="20.5" font-weight="bold" text-anchor="start">***</text>
<text x="544.3" y="437.0" font-size="20.5" font-weight="bold" text-anchor="start">***</text>
<text x="635.6" y="430.3" font-size="17" font-weight="bold" text-anchor="middle">n.s</text>
<defs>
<filter id="hmE" x="0" y="0" width="1" height="1" filterUnits="objectBoundingBox" color-interpolation-filters="sRGB"><feGaussianBlur in="SourceGraphic" stdDeviation="3.4" result="bl"/><feTurbulence type="fractalNoise" baseFrequency="0.24" numOctaves="2" seed="7" result="tn"/><feColorMatrix in="tn" type="matrix" values="1 0 0 0 0 1 0 0 0 0 1 0 0 0 0 0 0 0 0 1" result="gn"/><feComposite in="bl" in2="gn" operator="arithmetic" k1="0" k2="1" k3="0.48" k4="-0.240" result="sum"/><feComponentTransfer in="sum"><feFuncR type="table" tableValues="0.020 0.015 0.010 0.005 0.000 0.000 0.000 0.000 0.000 0.007 0.017 0.028 0.039 0.028 0.017 0.007 0.021 0.074 0.127 0.179 0.232 0.289 0.360 0.431 0.503 0.574 0.635 0.693 0.750 0.808 0.863 0.912 0.961 0.988 0.929 0.871 0.812 0.761 0.743 0.724 0.706"/><feFuncG type="table" tableValues="0.020 0.015 0.010 0.005 0.000 0.018 0.036 0.053 0.071 0.137 0.235 0.333 0.431 0.589 0.747 0.905 0.974 0.910 0.846 0.782 0.718 0.656 0.602 0.549 0.496 0.442 0.385 0.327 0.269 0.211 0.162 0.125 0.088 0.060 0.065 0.070 0.075 0.108 0.255 0.402 0.549"/><feFuncB type="table" tableValues="0.059 0.113 0.167 0.221 0.275 0.439 0.604 0.769 0.934 0.925 0.800 0.674 0.549 0.429 0.309 0.190 0.116 0.112 0.109 0.105 0.101 0.097 0.093 0.088 0.084 0.079 0.075 0.070 0.066 0.061 0.066 0.085 0.103 0.128 0.182 0.236 0.290 0.347 0.414 0.482 0.549"/><feFuncA type="linear" slope="0" intercept="1"/></feComponentTransfer><feGaussianBlur stdDeviation="0.5"/></filter>
<filter id="hmF" x="0" y="0" width="1" height="1" filterUnits="objectBoundingBox" color-interpolation-filters="sRGB"><feGaussianBlur in="SourceGraphic" stdDeviation="3.4" result="bl"/><feTurbulence type="fractalNoise" baseFrequency="0.24" numOctaves="2" seed="9" result="tn"/><feColorMatrix in="tn" type="matrix" values="1 0 0 0 0 1 0 0 0 0 1 0 0 0 0 0 0 0 0 1" result="gn"/><feComposite in="bl" in2="gn" operator="arithmetic" k1="0" k2="1" k3="0.26" k4="-0.130" result="sum"/><feComponentTransfer in="sum"><feFuncR type="table" tableValues="0.020 0.015 0.010 0.005 0.000 0.000 0.000 0.000 0.000 0.007 0.017 0.028 0.039 0.028 0.017 0.007 0.021 0.074 0.127 0.179 0.232 0.289 0.360 0.431 0.503 0.574 0.635 0.693 0.750 0.808 0.863 0.912 0.961 0.988 0.929 0.871 0.812 0.761 0.743 0.724 0.706"/><feFuncG type="table" tableValues="0.020 0.015 0.010 0.005 0.000 0.018 0.036 0.053 0.071 0.137 0.235 0.333 0.431 0.589 0.747 0.905 0.974 0.910 0.846 0.782 0.718 0.656 0.602 0.549 0.496 0.442 0.385 0.327 0.269 0.211 0.162 0.125 0.088 0.060 0.065 0.070 0.075 0.108 0.255 0.402 0.549"/><feFuncB type="table" tableValues="0.059 0.113 0.167 0.221 0.275 0.439 0.604 0.769 0.934 0.925 0.800 0.674 0.549 0.429 0.309 0.190 0.116 0.112 0.109 0.105 0.101 0.097 0.093 0.088 0.084 0.079 0.075 0.070 0.066 0.061 0.066 0.085 0.103 0.128 0.182 0.236 0.290 0.347 0.414 0.482 0.549"/><feFuncA type="linear" slope="0" intercept="1"/></feComponentTransfer><feGaussianBlur stdDeviation="0.5"/></filter>
<clipPath id="clipE"><rect x="181" y="458" width="151" height="149"/></clipPath>
<clipPath id="clipF"><rect x="181" y="613" width="151" height="148.5"/></clipPath>
<clipPath id="clipC"><rect x="26.3" y="458.2" width="148.7" height="148.6"/></clipPath>
<clipPath id="clipD"><rect x="26.3" y="613" width="148.5" height="147.8"/></clipPath>
<filter id="spb" x="-5%" y="-5%" width="110%" height="110%"><feGaussianBlur stdDeviation="0.7"/></filter>
<radialGradient id="sg"><stop offset="0" stop-color="#fff"/><stop offset="0.25" stop-color="#fff" stop-opacity="0.85"/><stop offset="0.6" stop-color="#fff" stop-opacity="0.3"/><stop offset="1" stop-color="#fff" stop-opacity="0"/></radialGradient>
</defs>
<g clip-path="url(#clipE)"><g filter="url(#hmE)"><rect x="165" y="442" width="183" height="181" fill="rgb(102,102,102)"/><ellipse cx="220" cy="485.5" rx="17.5" ry="10.0" fill="rgb(152,152,152)"/><ellipse cx="205" cy="519" rx="11.2" ry="11.2" fill="rgb(162,162,162)"/><ellipse cx="287" cy="470" rx="11.2" ry="10.0" fill="rgb(157,157,157)"/><ellipse cx="263.5" cy="506" rx="10.0" ry="10.0" fill="rgb(149,149,149)"/><ellipse cx="318.5" cy="496" rx="11.2" ry="15.0" fill="rgb(147,147,147)"/><ellipse cx="294.5" cy="521" rx="11.2" ry="10.0" fill="rgb(147,147,147)"/><ellipse cx="204" cy="557" rx="11.2" ry="7.5" fill="rgb(149,149,149)"/><ellipse cx="238" cy="572" rx="15.0" ry="12.5" fill="rgb(152,152,152)"/><ellipse cx="262" cy="548" rx="17.5" ry="20.0" fill="rgb(157,157,157)"/><ellipse cx="321" cy="540" rx="10.0" ry="10.0" fill="rgb(144,144,144)"/><ellipse cx="270" cy="597" rx="12.5" ry="8.8" fill="rgb(131,131,131)"/><ellipse cx="243" cy="467" rx="15.0" ry="10.0" fill="rgb(131,131,131)"/><ellipse cx="183" cy="470" rx="6.2" ry="17.5" fill="rgb(131,131,131)"/><ellipse cx="212" cy="466" rx="21.6" ry="10.8" fill="rgb(48,48,48)"/><ellipse cx="194" cy="488" rx="4.8" ry="15.6" fill="rgb(48,48,48)"/><ellipse cx="188" cy="497" rx="8.4" ry="7.2" fill="rgb(69,69,69)"/><polygon points="215,497 232,497 251,520 250,528 236,528 218,509" fill="rgb(46,46,46)"/><ellipse cx="188" cy="526" rx="10.8" ry="9.6" fill="rgb(48,48,48)"/><ellipse cx="268" cy="486" rx="18.0" ry="7.2" fill="rgb(48,48,48)"/><ellipse cx="302.5" cy="486" rx="6.0" ry="10.8" fill="rgb(48,48,48)"/><ellipse cx="307" cy="504" rx="7.2" ry="12.0" fill="rgb(54,54,54)"/><ellipse cx="307" cy="511" rx="13.2" ry="4.8" fill="rgb(54,54,54)"/><ellipse cx="273.5" cy="460" rx="4.8" ry="6.0" fill="rgb(48,48,48)"/><ellipse cx="325" cy="479" rx="9.6" ry="4.8" fill="rgb(51,51,51)"/><ellipse cx="272" cy="523" rx="9.6" ry="13.2" fill="rgb(48,48,48)"/><ellipse cx="311" cy="525" rx="3.6" ry="10.8" fill="rgb(51,51,51)"/><ellipse cx="202" cy="540" rx="14.4" ry="10.8" fill="rgb(46,46,46)"/><ellipse cx="183" cy="567" rx="4.8" ry="16.8" fill="rgb(51,51,51)"/><ellipse cx="214" cy="576" rx="13.2" ry="13.2" fill="rgb(46,46,46)"/><ellipse cx="195" cy="601" rx="15.6" ry="8.4" fill="rgb(51,51,51)"/><ellipse cx="246" cy="554" rx="8.4" ry="8.4" fill="rgb(46,46,46)"/><ellipse cx="246" cy="594" rx="14.4" ry="16.8" fill="rgb(46,46,46)"/><ellipse cx="222" cy="533" rx="4.8" ry="4.8" fill="rgb(51,51,51)"/><ellipse cx="275.5" cy="536" rx="5.4" ry="7.2" fill="rgb(43,43,43)"/><ellipse cx="314" cy="566" rx="20.4" ry="32.4" fill="rgb(69,69,69)"/><ellipse cx="305" cy="545" rx="7.2" ry="9.6" fill="rgb(51,51,51)"/><ellipse cx="262" cy="582" rx="12.0" ry="7.2" fill="rgb(46,46,46)"/><ellipse cx="298" cy="603" rx="19.2" ry="7.2" fill="rgb(48,48,48)"/><ellipse cx="332" cy="504" rx="3.6" ry="4.8" fill="rgb(51,51,51)"/><ellipse cx="213" cy="467" rx="15.6" ry="7.2" fill="rgb(27,27,27)"/><ellipse cx="234" cy="512" rx="12.0" ry="8.4" fill="rgb(27,27,27)" transform="rotate(40 234 512)"/><ellipse cx="269" cy="486" rx="9.6" ry="4.8" fill="rgb(27,27,27)"/><ellipse cx="302.5" cy="484" rx="4.2" ry="6.0" fill="rgb(27,27,27)"/><ellipse cx="273" cy="525" rx="6.0" ry="6.0" fill="rgb(27,27,27)"/><ellipse cx="202" cy="539" rx="8.4" ry="6.0" fill="rgb(27,27,27)"/><ellipse cx="215" cy="578" rx="7.2" ry="6.0" fill="rgb(28,28,28)"/><ellipse cx="204" cy="606" rx="4.8" ry="3.6" fill="rgb(27,27,27)"/><ellipse cx="247" cy="555" rx="4.2" ry="4.2" fill="rgb(27,27,27)"/><ellipse cx="246" cy="597" rx="8.4" ry="7.2" fill="rgb(27,27,27)"/><ellipse cx="275.5" cy="536" rx="3.0" ry="4.8" fill="rgb(26,26,26)"/><ellipse cx="327" cy="574" rx="7.2" ry="12.0" fill="rgb(27,27,27)"/><ellipse cx="258" cy="583" rx="6.0" ry="6.0" fill="rgb(27,27,27)"/><ellipse cx="296" cy="606" rx="9.6" ry="3.6" fill="rgb(31,31,31)"/></g></g>
<g clip-path="url(#clipF)"><g filter="url(#hmF)"><rect x="165" y="597" width="183" height="181" fill="rgb(54,54,54)"/><ellipse cx="292" cy="645" rx="22.0" ry="19.0" fill="rgb(73,73,73)"/><ellipse cx="320" cy="668" rx="14.0" ry="17.0" fill="rgb(83,83,83)"/><ellipse cx="212" cy="690" rx="22.0" ry="18.0" fill="rgb(73,73,73)"/><ellipse cx="236" cy="683" rx="12.0" ry="10.0" fill="rgb(78,78,78)"/><ellipse cx="202" cy="733" rx="18.0" ry="12.0" fill="rgb(91,91,91)"/><ellipse cx="245" cy="738" rx="9.0" ry="14.0" fill="rgb(80,80,80)"/><ellipse cx="265" cy="735" rx="9.0" ry="12.0" fill="rgb(91,91,91)"/><ellipse cx="284" cy="740" rx="8.0" ry="10.0" fill="rgb(75,75,75)"/><ellipse cx="294" cy="704" rx="12.0" ry="11.0" fill="rgb(73,73,73)"/><ellipse cx="326" cy="738" rx="7.0" ry="11.0" fill="rgb(75,75,75)"/><ellipse cx="265" cy="699" rx="17.0" ry="13.0" fill="rgb(68,68,68)"/><ellipse cx="281" cy="639" rx="3.0" ry="3.0" fill="rgb(91,91,91)"/><ellipse cx="290" cy="659" rx="3.0" ry="3.0" fill="rgb(93,93,93)"/><ellipse cx="301" cy="628" rx="3.0" ry="3.0" fill="rgb(88,88,88)"/><ellipse cx="314" cy="634" rx="3.0" ry="3.0" fill="rgb(85,85,85)"/><ellipse cx="324" cy="679" rx="3.0" ry="3.0" fill="rgb(103,103,103)"/><ellipse cx="196" cy="651" rx="12.0" ry="15.0" fill="rgb(43,43,43)"/><ellipse cx="229" cy="656" rx="17.0" ry="13.0" fill="rgb(43,43,43)"/><ellipse cx="269.5" cy="630" rx="5.0" ry="5.0" fill="rgb(43,43,43)"/><ellipse cx="306" cy="640" rx="6.0" ry="6.0" fill="rgb(36,36,36)"/><ellipse cx="296" cy="680" rx="5.0" ry="5.0" fill="rgb(36,36,36)"/><ellipse cx="192" cy="708" rx="8.0" ry="9.0" fill="rgb(43,43,43)"/><ellipse cx="229.5" cy="708.5" rx="9.0" ry="6.0" fill="rgb(42,42,42)"/><ellipse cx="225" cy="757" rx="11.0" ry="6.0" fill="rgb(42,42,42)"/><ellipse cx="265" cy="756" rx="9.0" ry="7.0" fill="rgb(42,42,42)"/><ellipse cx="298" cy="729" rx="8.0" ry="7.0" fill="rgb(42,42,42)"/><ellipse cx="296.5" cy="747.5" rx="5.0" ry="5.0" fill="rgb(41,41,41)"/><ellipse cx="324" cy="715" rx="9.0" ry="9.0" fill="rgb(43,43,43)"/><ellipse cx="188" cy="625" rx="8.0" ry="8.0" fill="rgb(46,46,46)"/></g></g>
<g clip-path="url(#clipC)"><rect x="26.3" y="458.2" width="148.7" height="148.6" fill="#000"/>
<g fill="url(#sg)"><circle cx="25.2" cy="472.6" r="5.1" fill-opacity="0.07"/><circle cx="44.4" cy="538.0" r="4.2" fill-opacity="0.14"/><circle cx="85.6" cy="485.9" r="4.1" fill-opacity="0.14"/><circle cx="55.8" cy="488.7" r="4.6" fill-opacity="0.14"/><circle cx="153.0" cy="510.2" r="5.5" fill-opacity="0.14"/><circle cx="124.0" cy="489.0" r="5.2" fill-opacity="0.08"/><circle cx="122.4" cy="489.1" r="4.0" fill-opacity="0.09"/><circle cx="145.5" cy="502.6" r="4.9" fill-opacity="0.10"/><circle cx="127.6" cy="469.7" r="5.8" fill-opacity="0.11"/><circle cx="130.9" cy="470.0" r="5.7" fill-opacity="0.11"/><circle cx="176.7" cy="485.6" r="5.4" fill-opacity="0.10"/><circle cx="145.3" cy="542.0" r="3.3" fill-opacity="0.14"/><circle cx="41.8" cy="485.2" r="5.1" fill-opacity="0.13"/><circle cx="66.3" cy="512.8" r="4.9" fill-opacity="0.06"/><circle cx="77.2" cy="456.9" r="3.8" fill-opacity="0.07"/><circle cx="31.0" cy="550.1" r="3.6" fill-opacity="0.13"/><circle cx="94.7" cy="566.0" r="3.4" fill-opacity="0.07"/><circle cx="130.1" cy="544.8" r="5.6" fill-opacity="0.07"/><circle cx="89.0" cy="476.9" r="3.9" fill-opacity="0.09"/><circle cx="133.3" cy="538.9" r="5.3" fill-opacity="0.12"/><circle cx="151.3" cy="460.3" r="5.7" fill-opacity="0.08"/><circle cx="54.6" cy="581.0" r="4.2" fill-opacity="0.13"/><circle cx="82.7" cy="485.9" r="4.0" fill-opacity="0.12"/><circle cx="80.3" cy="574.4" r="3.7" fill-opacity="0.11"/><circle cx="66.2" cy="483.3" r="4.4" fill-opacity="0.08"/><circle cx="96.6" cy="456.1" r="4.1" fill-opacity="0.12"/><circle cx="85.7" cy="575.3" r="4.8" fill-opacity="0.13"/><circle cx="107.0" cy="504.6" r="4.7" fill-opacity="0.08"/><circle cx="71.0" cy="515.1" r="4.7" fill-opacity="0.08"/><circle cx="86.8" cy="582.5" r="5.1" fill-opacity="0.06"/><circle cx="171.0" cy="561.0" r="5.9" fill-opacity="0.12"/><circle cx="32.8" cy="493.6" r="6.0" fill-opacity="0.07"/><circle cx="30.7" cy="503.5" r="4.2" fill-opacity="0.10"/><circle cx="91.4" cy="477.1" r="5.4" fill-opacity="0.10"/><circle cx="162.6" cy="583.1" r="4.0" fill-opacity="0.07"/><circle cx="37.2" cy="588.0" r="4.7" fill-opacity="0.13"/><circle cx="73.2" cy="515.4" r="5.8" fill-opacity="0.11"/><circle cx="153.1" cy="461.2" r="4.4" fill-opacity="0.09"/><circle cx="149.6" cy="568.9" r="5.2" fill-opacity="0.13"/><circle cx="93.5" cy="476.4" r="5.6" fill-opacity="0.13"/><circle cx="42.7" cy="514.1" r="4.0" fill-opacity="0.14"/><circle cx="88.4" cy="503.6" r="4.3" fill-opacity="0.11"/><circle cx="76.3" cy="484.0" r="3.8" fill-opacity="0.13"/><circle cx="49.5" cy="571.8" r="5.4" fill-opacity="0.08"/><circle cx="143.9" cy="522.0" r="3.3" fill-opacity="0.12"/><circle cx="130.3" cy="529.8" r="4.8" fill-opacity="0.09"/><circle cx="154.3" cy="540.1" r="3.4" fill-opacity="0.12"/><circle cx="174.2" cy="495.2" r="4.8" fill-opacity="0.07"/><circle cx="173.3" cy="528.6" r="5.5" fill-opacity="0.13"/><circle cx="45.3" cy="525.3" r="4.4" fill-opacity="0.07"/><circle cx="159.0" cy="510.2" r="5.7" fill-opacity="0.13"/><circle cx="75.3" cy="532.5" r="3.6" fill-opacity="0.07"/><circle cx="155.9" cy="480.3" r="5.2" fill-opacity="0.11"/><circle cx="68.1" cy="481.3" r="5.4" fill-opacity="0.13"/><circle cx="77.1" cy="483.0" r="4.2" fill-opacity="0.08"/><circle cx="33.4" cy="517.7" r="3.5" fill-opacity="0.06"/><circle cx="117.1" cy="598.0" r="4.2" fill-opacity="0.12"/><circle cx="159.8" cy="480.8" r="3.0" fill-opacity="0.10"/><circle cx="166.2" cy="543.0" r="5.1" fill-opacity="0.11"/><circle cx="99.2" cy="508.4" r="4.4" fill-opacity="0.09"/><circle cx="170.9" cy="604.9" r="5.1" fill-opacity="0.09"/><circle cx="29.8" cy="526.8" r="5.4" fill-opacity="0.14"/><circle cx="96.3" cy="467.5" r="4.8" fill-opacity="0.11"/><circle cx="143.4" cy="526.8" r="5.3" fill-opacity="0.06"/><circle cx="66.5" cy="525.2" r="4.8" fill-opacity="0.09"/><circle cx="129.3" cy="603.2" r="5.0" fill-opacity="0.11"/><circle cx="130.8" cy="551.9" r="5.7" fill-opacity="0.09"/><circle cx="170.8" cy="527.5" r="5.3" fill-opacity="0.13"/><circle cx="41.7" cy="494.4" r="5.0" fill-opacity="0.10"/><circle cx="70.4" cy="523.1" r="5.1" fill-opacity="0.12"/><circle cx="82.3" cy="589.5" r="4.7" fill-opacity="0.07"/><circle cx="41.5" cy="541.5" r="3.2" fill-opacity="0.07"/><circle cx="81.5" cy="583.6" r="3.4" fill-opacity="0.12"/><circle cx="149.7" cy="609.2" r="3.5" fill-opacity="0.09"/><circle cx="58.0" cy="528.0" r="3.7" fill-opacity="0.10"/><circle cx="150.9" cy="581.3" r="5.5" fill-opacity="0.14"/><circle cx="116.9" cy="493.7" r="3.2" fill-opacity="0.13"/><circle cx="130.2" cy="515.8" r="3.2" fill-opacity="0.08"/><circle cx="116.7" cy="516.3" r="4.2" fill-opacity="0.06"/><circle cx="61.8" cy="532.3" r="3.6" fill-opacity="0.09"/><circle cx="133.4" cy="487.7" r="3.3" fill-opacity="0.11"/><circle cx="160.5" cy="580.0" r="5.2" fill-opacity="0.13"/><circle cx="29.3" cy="501.5" r="5.2" fill-opacity="0.09"/><circle cx="141.5" cy="495.0" r="4.3" fill-opacity="0.11"/><circle cx="120.5" cy="582.2" r="3.6" fill-opacity="0.10"/><circle cx="170.4" cy="566.8" r="5.1" fill-opacity="0.06"/><circle cx="36.4" cy="545.4" r="4.2" fill-opacity="0.12"/><circle cx="152.6" cy="471.6" r="5.2" fill-opacity="0.08"/><circle cx="36.3" cy="485.1" r="4.7" fill-opacity="0.14"/><circle cx="98.5" cy="497.9" r="5.9" fill-opacity="0.10"/><circle cx="175.6" cy="534.2" r="3.6" fill-opacity="0.06"/><circle cx="149.3" cy="505.9" r="5.5" fill-opacity="0.09"/><circle cx="102.3" cy="566.8" r="4.1" fill-opacity="0.08"/><circle cx="122.4" cy="574.8" r="5.2" fill-opacity="0.10"/><circle cx="155.1" cy="540.3" r="4.8" fill-opacity="0.08"/><circle cx="102.3" cy="596.5" r="5.2" fill-opacity="0.10"/><circle cx="39.6" cy="475.1" r="3.6" fill-opacity="0.12"/><circle cx="97.3" cy="462.5" r="5.9" fill-opacity="0.12"/><circle cx="69.9" cy="530.0" r="3.7" fill-opacity="0.11"/><circle cx="140.3" cy="556.6" r="5.9" fill-opacity="0.08"/><circle cx="169.6" cy="593.4" r="3.4" fill-opacity="0.10"/><circle cx="100.2" cy="609.2" r="5.2" fill-opacity="0.12"/><circle cx="105.5" cy="463.2" r="3.2" fill-opacity="0.07"/><circle cx="30.6" cy="570.3" r="5.1" fill-opacity="0.06"/><circle cx="50.7" cy="526.0" r="3.9" fill-opacity="0.10"/><circle cx="141.2" cy="547.5" r="3.4" fill-opacity="0.11"/><circle cx="81.4" cy="496.8" r="5.7" fill-opacity="0.09"/><circle cx="102.3" cy="462.8" r="5.7" fill-opacity="0.14"/><circle cx="70.2" cy="587.4" r="5.9" fill-opacity="0.13"/><circle cx="173.5" cy="518.2" r="5.1" fill-opacity="0.11"/><circle cx="122.4" cy="510.3" r="3.5" fill-opacity="0.08"/><circle cx="174.7" cy="523.5" r="5.7" fill-opacity="0.12"/><circle cx="30.2" cy="518.9" r="3.7" fill-opacity="0.12"/><circle cx="119.2" cy="586.4" r="3.6" fill-opacity="0.08"/><circle cx="103.3" cy="494.5" r="4.0" fill-opacity="0.06"/><circle cx="151.1" cy="538.9" r="4.6" fill-opacity="0.13"/><circle cx="170.1" cy="469.6" r="3.9" fill-opacity="0.13"/><circle cx="164.2" cy="588.1" r="3.2" fill-opacity="0.14"/><circle cx="55.3" cy="582.9" r="5.2" fill-opacity="0.12"/><circle cx="59.9" cy="514.8" r="5.1" fill-opacity="0.11"/><circle cx="176.5" cy="538.3" r="3.4" fill-opacity="0.10"/><circle cx="115.4" cy="561.6" r="3.6" fill-opacity="0.11"/><circle cx="144.8" cy="600.9" r="5.2" fill-opacity="0.10"/><circle cx="114.7" cy="561.0" r="4.8" fill-opacity="0.14"/><circle cx="158.8" cy="493.9" r="5.7" fill-opacity="0.09"/><circle cx="174.1" cy="586.9" r="5.8" fill-opacity="0.13"/><circle cx="88.4" cy="513.2" r="4.0" fill-opacity="0.11"/><circle cx="87.7" cy="603.4" r="4.8" fill-opacity="0.09"/><circle cx="136.1" cy="513.9" r="3.7" fill-opacity="0.13"/><circle cx="112.2" cy="490.9" r="4.2" fill-opacity="0.09"/><circle cx="126.1" cy="526.9" r="4.0" fill-opacity="0.10"/><circle cx="176.4" cy="598.3" r="5.9" fill-opacity="0.07"/><circle cx="55.2" cy="478.5" r="3.8" fill-opacity="0.10"/><circle cx="160.5" cy="509.8" r="4.4" fill-opacity="0.14"/><circle cx="101.7" cy="607.0" r="4.7" fill-opacity="0.11"/><circle cx="134.6" cy="584.6" r="3.6" fill-opacity="0.07"/><circle cx="143.1" cy="531.6" r="3.1" fill-opacity="0.12"/><circle cx="98.2" cy="473.4" r="5.1" fill-opacity="0.12"/><circle cx="86.7" cy="589.6" r="5.6" fill-opacity="0.07"/><circle cx="52.1" cy="507.1" r="5.7" fill-opacity="0.10"/><circle cx="89.7" cy="580.7" r="3.9" fill-opacity="0.09"/><circle cx="30.4" cy="562.9" r="5.0" fill-opacity="0.08"/><circle cx="122.2" cy="521.6" r="3.2" fill-opacity="0.14"/><circle cx="146.0" cy="571.6" r="3.0" fill-opacity="0.10"/><circle cx="38.9" cy="550.0" r="5.3" fill-opacity="0.07"/><circle cx="100.4" cy="518.8" r="4.0" fill-opacity="0.08"/><circle cx="70.1" cy="523.6" r="5.0" fill-opacity="0.13"/><circle cx="101.4" cy="486.1" r="3.5" fill-opacity="0.13"/><circle cx="113.3" cy="508.1" r="3.5" fill-opacity="0.13"/><circle cx="35.2" cy="562.6" r="5.3" fill-opacity="0.07"/><circle cx="127.8" cy="457.6" r="3.9" fill-opacity="0.08"/><circle cx="44.0" cy="472.8" r="5.3" fill-opacity="0.13"/><circle cx="106.9" cy="570.4" r="5.1" fill-opacity="0.11"/><circle cx="130.1" cy="559.9" r="3.6" fill-opacity="0.09"/><circle cx="73.8" cy="561.4" r="5.1" fill-opacity="0.10"/><circle cx="166.0" cy="520.5" r="3.4" fill-opacity="0.07"/><circle cx="155.1" cy="582.1" r="4.3" fill-opacity="0.12"/><circle cx="41.4" cy="581.6" r="3.8" fill-opacity="0.13"/><circle cx="154.4" cy="501.3" r="6.0" fill-opacity="0.11"/><circle cx="57.4" cy="537.6" r="3.9" fill-opacity="0.12"/><circle cx="147.3" cy="523.3" r="3.0" fill-opacity="0.06"/><circle cx="163.0" cy="602.2" r="5.1" fill-opacity="0.09"/><circle cx="36.1" cy="473.2" r="5.1" fill-opacity="0.10"/><circle cx="142.1" cy="568.2" r="3.6" fill-opacity="0.10"/><circle cx="92.2" cy="600.3" r="3.1" fill-opacity="0.06"/><circle cx="139.9" cy="580.0" r="4.2" fill-opacity="0.11"/><circle cx="75.5" cy="497.3" r="4.0" fill-opacity="0.07"/><circle cx="174.3" cy="517.4" r="4.2" fill-opacity="0.06"/><circle cx="54.6" cy="478.1" r="5.9" fill-opacity="0.11"/><circle cx="152.0" cy="520.8" r="4.1" fill-opacity="0.10"/><circle cx="145.5" cy="560.3" r="3.8" fill-opacity="0.11"/><circle cx="101.9" cy="538.3" r="3.9" fill-opacity="0.10"/><circle cx="162.7" cy="605.7" r="4.3" fill-opacity="0.08"/><circle cx="114.0" cy="551.3" r="3.5" fill-opacity="0.08"/><circle cx="99.7" cy="466.4" r="4.9" fill-opacity="0.13"/><circle cx="174.1" cy="544.3" r="4.7" fill-opacity="0.11"/><circle cx="57.0" cy="583.3" r="4.9" fill-opacity="0.14"/><circle cx="154.9" cy="572.0" r="4.2" fill-opacity="0.13"/><circle cx="99.2" cy="486.7" r="3.2" fill-opacity="0.14"/><circle cx="81.8" cy="529.6" r="4.9" fill-opacity="0.07"/><circle cx="54.6" cy="574.6" r="4.7" fill-opacity="0.08"/><circle cx="34.9" cy="506.7" r="5.7" fill-opacity="0.12"/><circle cx="138.7" cy="572.4" r="4.2" fill-opacity="0.08"/><circle cx="81.7" cy="582.7" r="3.1" fill-opacity="0.12"/><circle cx="163.0" cy="542.2" r="5.7" fill-opacity="0.06"/><circle cx="104.0" cy="460.7" r="5.6" fill-opacity="0.11"/><circle cx="118.6" cy="483.7" r="3.9" fill-opacity="0.12"/><circle cx="38.1" cy="517.7" r="4.8" fill-opacity="0.09"/><circle cx="136.1" cy="557.0" r="4.4" fill-opacity="0.07"/><circle cx="57.5" cy="526.8" r="5.6" fill-opacity="0.08"/><circle cx="157.3" cy="524.8" r="4.8" fill-opacity="0.10"/><circle cx="94.4" cy="546.0" r="4.7" fill-opacity="0.06"/><circle cx="134.2" cy="483.7" r="5.7" fill-opacity="0.13"/><circle cx="147.2" cy="521.0" r="4.1" fill-opacity="0.07"/><circle cx="92.2" cy="494.2" r="5.7" fill-opacity="0.14"/><circle cx="174.9" cy="538.9" r="3.3" fill-opacity="0.08"/><circle cx="136.4" cy="591.1" r="5.6" fill-opacity="0.13"/><circle cx="37.2" cy="552.1" r="5.5" fill-opacity="0.09"/><circle cx="162.2" cy="565.3" r="4.5" fill-opacity="0.11"/><circle cx="87.4" cy="584.7" r="5.7" fill-opacity="0.13"/><circle cx="71.1" cy="560.1" r="5.7" fill-opacity="0.07"/><circle cx="155.6" cy="571.1" r="4.5" fill-opacity="0.10"/><circle cx="162.2" cy="574.5" r="4.0" fill-opacity="0.11"/><circle cx="161.5" cy="589.5" r="5.4" fill-opacity="0.14"/><circle cx="55.0" cy="521.0" r="4.0" fill-opacity="0.09"/><circle cx="51.8" cy="492.3" r="5.5" fill-opacity="0.08"/><circle cx="160.2" cy="601.8" r="5.8" fill-opacity="0.13"/><circle cx="100.5" cy="545.9" r="5.7" fill-opacity="0.13"/><circle cx="39.3" cy="487.8" r="5.1" fill-opacity="0.08"/><circle cx="23.3" cy="607.9" r="4.7" fill-opacity="0.12"/><circle cx="165.8" cy="456.8" r="4.0" fill-opacity="0.11"/><circle cx="130.2" cy="491.9" r="5.0" fill-opacity="0.11"/><circle cx="117.2" cy="508.9" r="4.7" fill-opacity="0.09"/><circle cx="153.2" cy="606.0" r="5.4" fill-opacity="0.09"/><circle cx="120.1" cy="605.7" r="3.8" fill-opacity="0.10"/><circle cx="150.2" cy="559.1" r="4.6" fill-opacity="0.12"/><circle cx="160.9" cy="547.8" r="3.8" fill-opacity="0.10"/><circle cx="148.2" cy="475.7" r="3.1" fill-opacity="0.13"/><circle cx="62.6" cy="478.4" r="4.2" fill-opacity="0.11"/><circle cx="39.0" cy="461.6" r="4.7" fill-opacity="0.08"/><circle cx="52.8" cy="477.0" r="5.9" fill-opacity="0.11"/><circle cx="32.3" cy="581.3" r="4.9" fill-opacity="0.10"/><circle cx="43.7" cy="537.8" r="5.8" fill-opacity="0.09"/><circle cx="59.7" cy="509.2" r="3.1" fill-opacity="0.11"/><circle cx="166.0" cy="563.4" r="3.2" fill-opacity="0.08"/><circle cx="145.4" cy="557.8" r="4.8" fill-opacity="0.09"/><circle cx="92.5" cy="472.7" r="4.8" fill-opacity="0.13"/><circle cx="54.3" cy="535.8" r="5.6" fill-opacity="0.11"/><circle cx="172.9" cy="563.1" r="4.4" fill-opacity="0.11"/><circle cx="43.2" cy="599.1" r="5.8" fill-opacity="0.14"/><circle cx="28.4" cy="582.8" r="5.4" fill-opacity="0.11"/><circle cx="142.5" cy="493.4" r="3.7" fill-opacity="0.11"/><circle cx="42.8" cy="569.5" r="5.3" fill-opacity="0.14"/><circle cx="173.4" cy="568.4" r="4.7" fill-opacity="0.07"/><circle cx="71.1" cy="535.4" r="5.8" fill-opacity="0.08"/><circle cx="155.9" cy="580.5" r="3.0" fill-opacity="0.06"/><circle cx="23.5" cy="531.8" r="4.0" fill-opacity="0.09"/><circle cx="87.9" cy="502.1" r="5.7" fill-opacity="0.10"/><circle cx="87.4" cy="603.7" r="4.1" fill-opacity="0.08"/><circle cx="109.6" cy="593.7" r="3.4" fill-opacity="0.11"/></g>
<g fill="url(#sg)"><circle cx="128.8" cy="470.5" r="2.86" fill-opacity="0.70"/><circle cx="51.3" cy="513.3" r="2.50" fill-opacity="0.43"/><circle cx="130.9" cy="552.9" r="2.87" fill-opacity="0.37"/><circle cx="117.3" cy="593.5" r="2.40" fill-opacity="0.63"/><circle cx="44.0" cy="495.5" r="2.85" fill-opacity="0.31"/><circle cx="51.7" cy="481.0" r="2.47" fill-opacity="0.53"/><circle cx="102.1" cy="598.9" r="2.30" fill-opacity="0.77"/><circle cx="73.5" cy="543.9" r="2.25" fill-opacity="0.86"/><circle cx="75.1" cy="545.8" r="2.74" fill-opacity="0.48"/><circle cx="55.2" cy="499.8" r="2.78" fill-opacity="0.25"/><circle cx="171.4" cy="541.0" r="2.85" fill-opacity="0.81"/><circle cx="93.6" cy="563.0" r="2.70" fill-opacity="0.90"/><circle cx="150.9" cy="512.1" r="2.16" fill-opacity="0.82"/><circle cx="43.1" cy="568.6" r="2.24" fill-opacity="0.77"/><circle cx="53.3" cy="602.7" r="2.63" fill-opacity="0.94"/><circle cx="105.9" cy="510.7" r="2.01" fill-opacity="0.76"/><circle cx="150.4" cy="518.4" r="2.76" fill-opacity="0.79"/><circle cx="139.8" cy="458.2" r="2.53" fill-opacity="0.55"/><circle cx="150.6" cy="547.8" r="2.20" fill-opacity="0.60"/><circle cx="83.4" cy="511.6" r="2.34" fill-opacity="0.47"/><circle cx="125.1" cy="551.4" r="2.30" fill-opacity="0.38"/><circle cx="75.4" cy="511.7" r="2.27" fill-opacity="0.27"/><circle cx="134.5" cy="574.2" r="2.78" fill-opacity="0.30"/><circle cx="113.6" cy="562.5" r="2.87" fill-opacity="0.65"/><circle cx="129.2" cy="534.0" r="2.14" fill-opacity="0.27"/><circle cx="156.5" cy="499.4" r="2.48" fill-opacity="0.40"/><circle cx="111.1" cy="456.5" r="2.22" fill-opacity="0.69"/><circle cx="176.4" cy="503.6" r="1.95" fill-opacity="0.51"/><circle cx="160.0" cy="578.9" r="2.33" fill-opacity="0.35"/><circle cx="163.7" cy="577.0" r="2.79" fill-opacity="0.29"/><circle cx="35.1" cy="465.7" r="2.19" fill-opacity="0.45"/><circle cx="137.4" cy="577.2" r="2.55" fill-opacity="0.65"/><circle cx="118.3" cy="469.8" r="2.72" fill-opacity="0.45"/><circle cx="134.1" cy="574.7" r="2.21" fill-opacity="0.64"/><circle cx="157.9" cy="534.9" r="2.41" fill-opacity="0.66"/><circle cx="175.8" cy="535.0" r="2.03" fill-opacity="0.96"/><circle cx="92.2" cy="482.1" r="1.91" fill-opacity="0.32"/><circle cx="108.2" cy="523.2" r="2.51" fill-opacity="0.74"/><circle cx="30.4" cy="478.9" r="2.11" fill-opacity="0.48"/><circle cx="100.7" cy="570.6" r="2.23" fill-opacity="0.37"/><circle cx="162.1" cy="552.1" r="2.28" fill-opacity="0.43"/><circle cx="110.9" cy="477.6" r="2.03" fill-opacity="0.51"/><circle cx="88.1" cy="473.6" r="2.82" fill-opacity="0.37"/><circle cx="36.2" cy="485.9" r="2.37" fill-opacity="0.78"/><circle cx="55.0" cy="538.1" r="2.30" fill-opacity="0.27"/><circle cx="142.7" cy="569.3" r="2.22" fill-opacity="0.38"/><circle cx="91.5" cy="568.9" r="2.42" fill-opacity="0.31"/><circle cx="156.9" cy="485.5" r="2.46" fill-opacity="0.85"/><circle cx="149.2" cy="551.0" r="2.54" fill-opacity="0.68"/><circle cx="167.7" cy="541.9" r="2.62" fill-opacity="0.62"/><circle cx="174.9" cy="503.1" r="2.12" fill-opacity="0.78"/><circle cx="98.9" cy="575.6" r="2.78" fill-opacity="0.44"/><circle cx="31.0" cy="482.6" r="2.76" fill-opacity="0.52"/><circle cx="176.1" cy="514.7" r="2.22" fill-opacity="0.49"/><circle cx="35.7" cy="547.8" r="2.77" fill-opacity="0.44"/><circle cx="74.7" cy="567.0" r="2.81" fill-opacity="0.55"/><circle cx="34.4" cy="548.9" r="2.74" fill-opacity="0.41"/><circle cx="169.2" cy="459.4" r="2.11" fill-opacity="0.54"/><circle cx="119.0" cy="582.9" r="2.90" fill-opacity="0.27"/><circle cx="116.1" cy="505.6" r="2.69" fill-opacity="0.95"/><circle cx="38.1" cy="563.0" r="1.96" fill-opacity="0.79"/><circle cx="31.3" cy="528.3" r="1.93" fill-opacity="0.73"/><circle cx="152.9" cy="504.1" r="2.58" fill-opacity="0.62"/><circle cx="159.6" cy="492.2" r="2.78" fill-opacity="0.85"/><circle cx="51.3" cy="491.3" r="2.67" fill-opacity="0.46"/><circle cx="165.5" cy="580.1" r="2.65" fill-opacity="0.55"/><circle cx="29.6" cy="460.3" r="2.25" fill-opacity="0.30"/><circle cx="168.3" cy="499.7" r="2.31" fill-opacity="0.55"/><circle cx="95.9" cy="603.5" r="2.17" fill-opacity="0.38"/><circle cx="60.3" cy="467.0" r="2.84" fill-opacity="0.90"/><circle cx="83.7" cy="511.1" r="2.50" fill-opacity="0.95"/><circle cx="98.8" cy="594.5" r="2.28" fill-opacity="0.27"/><circle cx="123.3" cy="525.7" r="2.70" fill-opacity="0.46"/><circle cx="166.8" cy="552.4" r="2.28" fill-opacity="0.89"/><circle cx="61.6" cy="527.2" r="2.73" fill-opacity="0.74"/><circle cx="161.2" cy="561.7" r="2.81" fill-opacity="0.48"/><circle cx="91.0" cy="599.0" r="1.96" fill-opacity="0.37"/><circle cx="72.0" cy="571.8" r="2.57" fill-opacity="0.68"/><circle cx="40.7" cy="528.2" r="2.62" fill-opacity="0.28"/><circle cx="129.1" cy="457.8" r="2.59" fill-opacity="0.43"/><circle cx="140.2" cy="543.9" r="2.58" fill-opacity="0.39"/><circle cx="38.4" cy="536.4" r="2.20" fill-opacity="0.85"/><circle cx="104.1" cy="490.1" r="1.90" fill-opacity="0.26"/><circle cx="162.6" cy="528.0" r="2.83" fill-opacity="0.78"/><circle cx="120.4" cy="529.7" r="2.82" fill-opacity="0.46"/><circle cx="144.1" cy="602.5" r="2.15" fill-opacity="0.81"/><circle cx="152.0" cy="473.9" r="2.73" fill-opacity="0.38"/><circle cx="170.8" cy="555.6" r="2.79" fill-opacity="0.56"/><circle cx="145.8" cy="595.1" r="2.11" fill-opacity="0.44"/><circle cx="137.0" cy="579.1" r="2.16" fill-opacity="0.25"/><circle cx="77.0" cy="554.8" r="2.27" fill-opacity="0.34"/><circle cx="149.8" cy="542.2" r="2.00" fill-opacity="0.91"/><circle cx="76.9" cy="534.4" r="1.97" fill-opacity="0.46"/><circle cx="28.7" cy="517.2" r="1.95" fill-opacity="0.84"/><circle cx="73.1" cy="528.0" r="2.47" fill-opacity="0.26"/><circle cx="109.9" cy="466.7" r="1.95" fill-opacity="0.52"/><circle cx="53.7" cy="555.8" r="2.04" fill-opacity="0.96"/><circle cx="61.1" cy="605.3" r="2.75" fill-opacity="0.32"/><circle cx="141.6" cy="489.1" r="2.36" fill-opacity="0.94"/><circle cx="166.1" cy="505.5" r="1.99" fill-opacity="0.69"/><circle cx="117.6" cy="509.4" r="2.08" fill-opacity="0.51"/><circle cx="125.7" cy="566.6" r="1.94" fill-opacity="0.28"/><circle cx="123.6" cy="566.1" r="2.23" fill-opacity="0.43"/><circle cx="116.3" cy="557.2" r="2.73" fill-opacity="0.57"/><circle cx="149.3" cy="590.1" r="2.29" fill-opacity="0.25"/><circle cx="79.0" cy="567.6" r="2.87" fill-opacity="0.66"/><circle cx="52.8" cy="486.7" r="2.00" fill-opacity="0.25"/><circle cx="104.7" cy="480.0" r="2.57" fill-opacity="0.38"/><circle cx="96.0" cy="487.3" r="2.80" fill-opacity="0.53"/><circle cx="113.1" cy="603.4" r="1.94" fill-opacity="0.76"/><circle cx="174.1" cy="505.8" r="2.10" fill-opacity="0.67"/><circle cx="164.5" cy="586.0" r="2.55" fill-opacity="0.73"/><circle cx="72.5" cy="468.1" r="2.14" fill-opacity="0.46"/><circle cx="49.2" cy="541.4" r="2.88" fill-opacity="0.45"/><circle cx="152.3" cy="566.5" r="2.18" fill-opacity="0.39"/><circle cx="113.9" cy="483.8" r="2.90" fill-opacity="0.60"/><circle cx="171.3" cy="541.5" r="2.13" fill-opacity="0.77"/><circle cx="146.8" cy="607.0" r="2.07" fill-opacity="0.60"/><circle cx="88.6" cy="602.4" r="2.86" fill-opacity="0.82"/><circle cx="152.1" cy="536.2" r="2.73" fill-opacity="0.64"/><circle cx="124.2" cy="566.2" r="2.00" fill-opacity="0.86"/><circle cx="144.4" cy="563.8" r="2.25" fill-opacity="0.85"/><circle cx="140.6" cy="474.3" r="2.86" fill-opacity="0.46"/><circle cx="161.3" cy="539.0" r="2.30" fill-opacity="0.34"/><circle cx="147.4" cy="575.9" r="2.02" fill-opacity="0.62"/><circle cx="114.0" cy="466.4" r="2.56" fill-opacity="0.73"/><circle cx="26.5" cy="469.9" r="2.18" fill-opacity="0.53"/><circle cx="55.1" cy="571.0" r="2.49" fill-opacity="0.93"/><circle cx="125.3" cy="514.7" r="2.29" fill-opacity="0.98"/><circle cx="24.4" cy="503.7" r="1.96" fill-opacity="0.50"/><circle cx="141.1" cy="560.7" r="2.53" fill-opacity="0.42"/><circle cx="130.5" cy="563.3" r="2.67" fill-opacity="0.56"/><circle cx="155.1" cy="521.6" r="2.67" fill-opacity="0.47"/><circle cx="176.0" cy="511.9" r="2.66" fill-opacity="0.76"/><circle cx="159.1" cy="494.2" r="2.61" fill-opacity="0.96"/><circle cx="125.3" cy="591.4" r="2.47" fill-opacity="0.53"/><circle cx="150.7" cy="480.5" r="2.59" fill-opacity="0.36"/><circle cx="24.7" cy="577.0" r="2.07" fill-opacity="0.95"/><circle cx="141.4" cy="578.6" r="2.28" fill-opacity="0.77"/><circle cx="62.0" cy="568.2" r="2.68" fill-opacity="0.69"/><circle cx="57.5" cy="585.6" r="2.47" fill-opacity="0.80"/><circle cx="57.0" cy="540.9" r="2.49" fill-opacity="0.49"/><circle cx="123.6" cy="529.2" r="2.27" fill-opacity="0.51"/><circle cx="169.9" cy="462.7" r="2.42" fill-opacity="0.49"/><circle cx="39.7" cy="589.9" r="2.85" fill-opacity="0.34"/><circle cx="86.6" cy="483.3" r="2.41" fill-opacity="0.77"/><circle cx="171.4" cy="552.4" r="1.91" fill-opacity="0.65"/><circle cx="112.2" cy="584.6" r="2.45" fill-opacity="0.69"/><circle cx="84.9" cy="461.6" r="2.02" fill-opacity="0.56"/><circle cx="166.5" cy="557.1" r="2.16" fill-opacity="0.53"/><circle cx="25.7" cy="569.8" r="1.99" fill-opacity="0.41"/><circle cx="86.6" cy="464.2" r="2.18" fill-opacity="0.27"/><circle cx="38.1" cy="469.1" r="2.47" fill-opacity="0.80"/><circle cx="115.6" cy="605.7" r="2.54" fill-opacity="0.27"/><circle cx="97.8" cy="479.0" r="2.81" fill-opacity="0.50"/><circle cx="33.0" cy="547.3" r="2.55" fill-opacity="0.57"/><circle cx="141.8" cy="497.5" r="2.75" fill-opacity="0.55"/><circle cx="29.7" cy="483.7" r="2.69" fill-opacity="0.44"/><circle cx="151.8" cy="518.2" r="1.98" fill-opacity="0.76"/><circle cx="121.0" cy="508.5" r="2.73" fill-opacity="0.50"/><circle cx="142.8" cy="559.1" r="2.59" fill-opacity="0.44"/><circle cx="97.7" cy="581.7" r="2.23" fill-opacity="0.55"/><circle cx="137.9" cy="512.9" r="2.11" fill-opacity="0.52"/><circle cx="70.4" cy="569.4" r="2.81" fill-opacity="0.32"/><circle cx="65.8" cy="467.0" r="2.06" fill-opacity="0.28"/><circle cx="135.2" cy="498.5" r="2.37" fill-opacity="0.60"/><circle cx="171.6" cy="523.8" r="2.60" fill-opacity="0.28"/><circle cx="123.3" cy="513.8" r="2.44" fill-opacity="0.76"/><circle cx="121.6" cy="476.3" r="2.01" fill-opacity="0.27"/><circle cx="100.6" cy="601.8" r="2.88" fill-opacity="0.38"/><circle cx="90.0" cy="499.1" r="2.35" fill-opacity="0.52"/><circle cx="79.4" cy="561.7" r="2.54" fill-opacity="0.31"/><circle cx="40.4" cy="474.0" r="2.34" fill-opacity="0.32"/><circle cx="169.7" cy="585.4" r="2.15" fill-opacity="0.91"/><circle cx="97.4" cy="558.1" r="2.33" fill-opacity="0.99"/><circle cx="120.7" cy="480.0" r="2.27" fill-opacity="0.53"/><circle cx="124.1" cy="570.4" r="2.65" fill-opacity="0.75"/><circle cx="135.3" cy="582.4" r="2.84" fill-opacity="0.36"/><circle cx="141.2" cy="589.8" r="2.79" fill-opacity="0.92"/><circle cx="99.5" cy="503.5" r="2.55" fill-opacity="0.42"/><circle cx="124.3" cy="568.0" r="2.66" fill-opacity="0.91"/><circle cx="112.9" cy="563.5" r="2.62" fill-opacity="0.42"/><circle cx="31.9" cy="560.1" r="1.92" fill-opacity="0.55"/><circle cx="135.8" cy="523.5" r="2.78" fill-opacity="0.94"/><circle cx="129.3" cy="506.8" r="2.71" fill-opacity="0.26"/><circle cx="106.6" cy="550.8" r="2.60" fill-opacity="0.44"/><circle cx="120.1" cy="565.4" r="2.33" fill-opacity="0.36"/><circle cx="68.2" cy="585.8" r="2.13" fill-opacity="0.75"/><circle cx="152.3" cy="495.0" r="2.56" fill-opacity="0.97"/><circle cx="103.8" cy="497.5" r="2.90" fill-opacity="0.97"/><circle cx="54.1" cy="532.8" r="2.90" fill-opacity="0.74"/><circle cx="90.6" cy="594.8" r="2.72" fill-opacity="0.89"/><circle cx="79.8" cy="602.1" r="2.70" fill-opacity="0.35"/><circle cx="58.8" cy="571.3" r="2.37" fill-opacity="0.31"/><circle cx="154.7" cy="586.4" r="1.97" fill-opacity="0.44"/><circle cx="170.4" cy="562.4" r="2.19" fill-opacity="0.79"/><circle cx="45.6" cy="607.7" r="2.06" fill-opacity="0.27"/><circle cx="153.0" cy="470.2" r="2.75" fill-opacity="0.84"/><circle cx="173.3" cy="475.0" r="2.65" fill-opacity="0.29"/><circle cx="128.1" cy="490.5" r="2.72" fill-opacity="0.57"/><circle cx="128.0" cy="516.4" r="2.39" fill-opacity="0.29"/><circle cx="143.7" cy="577.6" r="2.33" fill-opacity="0.28"/><circle cx="156.1" cy="504.9" r="2.85" fill-opacity="0.30"/><circle cx="140.6" cy="537.2" r="2.22" fill-opacity="0.27"/><circle cx="97.8" cy="555.0" r="2.86" fill-opacity="0.83"/><circle cx="152.4" cy="480.0" r="2.62" fill-opacity="0.73"/><circle cx="125.6" cy="545.9" r="2.18" fill-opacity="0.30"/><circle cx="141.7" cy="509.6" r="2.40" fill-opacity="0.80"/><circle cx="150.8" cy="476.5" r="2.37" fill-opacity="0.37"/><circle cx="148.6" cy="524.6" r="2.85" fill-opacity="0.95"/><circle cx="148.5" cy="491.5" r="2.62" fill-opacity="0.37"/><circle cx="96.4" cy="533.0" r="2.38" fill-opacity="0.50"/><circle cx="123.2" cy="503.2" r="2.60" fill-opacity="0.26"/><circle cx="78.4" cy="514.6" r="2.29" fill-opacity="0.59"/><circle cx="149.9" cy="602.7" r="1.92" fill-opacity="0.91"/><circle cx="31.3" cy="527.0" r="2.62" fill-opacity="0.26"/><circle cx="79.0" cy="574.3" r="1.94" fill-opacity="0.75"/><circle cx="150.9" cy="509.3" r="1.95" fill-opacity="0.66"/><circle cx="151.3" cy="543.4" r="2.22" fill-opacity="0.32"/><circle cx="146.6" cy="563.7" r="2.49" fill-opacity="0.62"/><circle cx="46.7" cy="524.6" r="2.30" fill-opacity="0.62"/><circle cx="149.5" cy="479.2" r="2.31" fill-opacity="0.53"/><circle cx="44.5" cy="532.5" r="2.65" fill-opacity="0.83"/><circle cx="116.8" cy="474.6" r="2.62" fill-opacity="0.88"/><circle cx="94.7" cy="504.3" r="2.05" fill-opacity="0.50"/><circle cx="176.3" cy="503.6" r="2.05" fill-opacity="0.92"/><circle cx="89.1" cy="591.6" r="2.56" fill-opacity="0.81"/><circle cx="176.5" cy="507.6" r="2.04" fill-opacity="0.28"/><circle cx="94.1" cy="559.0" r="2.78" fill-opacity="0.25"/><circle cx="149.5" cy="559.4" r="1.91" fill-opacity="0.97"/><circle cx="59.5" cy="576.9" r="2.19" fill-opacity="0.83"/><circle cx="96.7" cy="571.5" r="2.66" fill-opacity="0.25"/><circle cx="104.6" cy="567.6" r="2.23" fill-opacity="0.25"/><circle cx="33.0" cy="493.2" r="2.11" fill-opacity="0.90"/><circle cx="167.3" cy="481.3" r="2.79" fill-opacity="0.59"/><circle cx="67.7" cy="488.7" r="2.32" fill-opacity="0.76"/><circle cx="153.3" cy="606.5" r="2.64" fill-opacity="0.60"/><circle cx="133.7" cy="560.1" r="2.32" fill-opacity="0.60"/><circle cx="164.3" cy="538.4" r="1.92" fill-opacity="0.43"/><circle cx="29.8" cy="526.9" r="2.60" fill-opacity="0.77"/><circle cx="127.0" cy="475.5" r="2.11" fill-opacity="0.56"/><circle cx="107.5" cy="502.7" r="1.98" fill-opacity="0.38"/><circle cx="175.2" cy="460.0" r="2.60" fill-opacity="0.28"/><circle cx="168.9" cy="517.7" r="2.90" fill-opacity="0.76"/><circle cx="48.5" cy="519.7" r="2.83" fill-opacity="0.30"/><circle cx="153.9" cy="544.2" r="2.16" fill-opacity="0.35"/><circle cx="70.2" cy="485.5" r="2.06" fill-opacity="0.26"/><circle cx="151.9" cy="458.4" r="1.94" fill-opacity="0.91"/><circle cx="134.5" cy="513.1" r="2.16" fill-opacity="0.52"/><circle cx="60.2" cy="468.6" r="2.58" fill-opacity="0.83"/><circle cx="104.2" cy="472.7" r="2.57" fill-opacity="0.76"/><circle cx="108.3" cy="517.3" r="2.35" fill-opacity="0.85"/><circle cx="139.2" cy="506.7" r="2.20" fill-opacity="0.94"/><circle cx="145.3" cy="502.4" r="2.16" fill-opacity="0.34"/><circle cx="139.8" cy="600.4" r="2.06" fill-opacity="0.77"/><circle cx="137.3" cy="607.5" r="2.24" fill-opacity="0.93"/><circle cx="157.9" cy="477.9" r="2.40" fill-opacity="0.80"/><circle cx="174.8" cy="503.5" r="2.90" fill-opacity="0.58"/><circle cx="30.1" cy="473.9" r="2.38" fill-opacity="0.69"/><circle cx="117.6" cy="606.8" r="2.72" fill-opacity="0.65"/><circle cx="25.2" cy="592.8" r="2.23" fill-opacity="0.71"/><circle cx="25.1" cy="538.1" r="2.35" fill-opacity="0.27"/><circle cx="84.6" cy="569.3" r="2.09" fill-opacity="0.70"/><circle cx="29.6" cy="548.3" r="2.77" fill-opacity="0.69"/><circle cx="29.9" cy="484.4" r="2.30" fill-opacity="0.37"/><circle cx="76.1" cy="557.9" r="2.71" fill-opacity="0.36"/><circle cx="84.6" cy="575.4" r="2.67" fill-opacity="0.26"/><circle cx="96.7" cy="504.3" r="2.81" fill-opacity="0.40"/><circle cx="100.1" cy="571.0" r="2.16" fill-opacity="0.65"/><circle cx="53.4" cy="586.1" r="1.97" fill-opacity="0.30"/><circle cx="120.3" cy="557.7" r="2.57" fill-opacity="0.30"/><circle cx="113.1" cy="476.3" r="2.63" fill-opacity="0.83"/><circle cx="120.5" cy="556.3" r="2.66" fill-opacity="0.98"/><circle cx="140.4" cy="576.9" r="1.93" fill-opacity="0.53"/><circle cx="71.7" cy="589.1" r="2.08" fill-opacity="0.62"/><circle cx="43.4" cy="581.5" r="2.16" fill-opacity="0.61"/><circle cx="156.5" cy="572.0" r="2.89" fill-opacity="0.34"/><circle cx="169.9" cy="545.0" r="2.26" fill-opacity="0.44"/><circle cx="96.4" cy="507.3" r="2.29" fill-opacity="0.79"/><circle cx="104.7" cy="558.9" r="2.73" fill-opacity="0.64"/><circle cx="62.5" cy="507.1" r="2.71" fill-opacity="0.56"/><circle cx="126.0" cy="488.7" r="2.06" fill-opacity="0.43"/><circle cx="117.1" cy="549.0" r="2.54" fill-opacity="0.62"/><circle cx="156.9" cy="549.1" r="2.72" fill-opacity="0.98"/><circle cx="101.4" cy="604.3" r="2.27" fill-opacity="0.72"/><circle cx="116.6" cy="491.8" r="2.51" fill-opacity="0.47"/><circle cx="47.3" cy="521.0" r="2.41" fill-opacity="0.43"/><circle cx="163.5" cy="532.6" r="2.71" fill-opacity="0.31"/><circle cx="155.7" cy="595.3" r="2.47" fill-opacity="0.25"/><circle cx="159.6" cy="567.9" r="2.74" fill-opacity="0.28"/><circle cx="158.9" cy="501.2" r="2.01" fill-opacity="0.25"/><circle cx="169.8" cy="468.8" r="2.29" fill-opacity="0.69"/><circle cx="174.0" cy="497.1" r="2.28" fill-opacity="0.43"/><circle cx="147.7" cy="476.5" r="2.07" fill-opacity="0.29"/><circle cx="66.9" cy="546.8" r="2.53" fill-opacity="0.36"/><circle cx="123.8" cy="564.1" r="2.58" fill-opacity="0.88"/><circle cx="173.9" cy="525.1" r="2.08" fill-opacity="0.98"/><circle cx="164.8" cy="521.6" r="2.55" fill-opacity="0.75"/><circle cx="112.5" cy="601.2" r="2.20" fill-opacity="0.87"/><circle cx="65.0" cy="477.6" r="2.61" fill-opacity="0.60"/><circle cx="37.6" cy="590.9" r="1.96" fill-opacity="0.48"/><circle cx="164.0" cy="562.4" r="2.70" fill-opacity="0.28"/><circle cx="60.9" cy="563.9" r="2.70" fill-opacity="0.54"/><circle cx="138.9" cy="508.2" r="2.15" fill-opacity="0.31"/><circle cx="134.6" cy="491.1" r="2.12" fill-opacity="0.45"/><circle cx="148.6" cy="464.6" r="1.93" fill-opacity="0.99"/><circle cx="135.1" cy="488.5" r="2.79" fill-opacity="0.43"/><circle cx="135.1" cy="486.4" r="2.31" fill-opacity="0.81"/><circle cx="45.2" cy="459.8" r="2.22" fill-opacity="0.99"/><circle cx="173.7" cy="494.4" r="2.65" fill-opacity="0.80"/><circle cx="144.2" cy="524.8" r="2.12" fill-opacity="0.50"/><circle cx="141.3" cy="524.5" r="2.55" fill-opacity="0.81"/><circle cx="81.0" cy="590.8" r="2.44" fill-opacity="0.48"/><circle cx="107.5" cy="574.2" r="2.70" fill-opacity="0.32"/><circle cx="127.0" cy="494.3" r="2.43" fill-opacity="0.96"/><circle cx="154.8" cy="516.0" r="1.97" fill-opacity="0.72"/><circle cx="150.2" cy="601.4" r="1.94" fill-opacity="0.33"/><circle cx="117.0" cy="566.8" r="2.35" fill-opacity="0.94"/><circle cx="69.5" cy="527.0" r="2.52" fill-opacity="0.41"/><circle cx="109.8" cy="596.7" r="2.03" fill-opacity="0.67"/><circle cx="27.9" cy="459.3" r="2.07" fill-opacity="0.41"/><circle cx="110.1" cy="579.3" r="2.07" fill-opacity="0.80"/><circle cx="99.1" cy="496.8" r="2.49" fill-opacity="0.53"/><circle cx="28.1" cy="567.4" r="1.99" fill-opacity="0.28"/><circle cx="73.5" cy="527.5" r="2.73" fill-opacity="0.35"/><circle cx="40.8" cy="456.8" r="2.48" fill-opacity="0.92"/><circle cx="64.6" cy="457.9" r="2.39" fill-opacity="0.41"/><circle cx="84.6" cy="559.1" r="2.90" fill-opacity="0.42"/><circle cx="165.2" cy="476.8" r="2.64" fill-opacity="0.32"/><circle cx="46.0" cy="550.5" r="2.51" fill-opacity="0.64"/><circle cx="171.9" cy="521.7" r="2.12" fill-opacity="0.59"/><circle cx="101.0" cy="487.1" r="2.76" fill-opacity="0.90"/><circle cx="79.1" cy="498.8" r="2.24" fill-opacity="0.81"/><circle cx="57.8" cy="508.4" r="2.01" fill-opacity="0.29"/><circle cx="154.3" cy="523.8" r="2.54" fill-opacity="0.45"/><circle cx="107.3" cy="477.0" r="2.63" fill-opacity="0.76"/><circle cx="77.4" cy="475.8" r="2.71" fill-opacity="0.96"/><circle cx="116.4" cy="462.0" r="2.05" fill-opacity="0.31"/><circle cx="40.8" cy="597.8" r="2.49" fill-opacity="0.27"/><circle cx="102.6" cy="571.8" r="2.67" fill-opacity="0.56"/><circle cx="173.0" cy="543.3" r="2.82" fill-opacity="0.45"/><circle cx="66.6" cy="528.7" r="2.63" fill-opacity="0.46"/><circle cx="151.9" cy="551.4" r="2.05" fill-opacity="0.56"/><circle cx="150.8" cy="554.5" r="2.64" fill-opacity="0.44"/><circle cx="67.3" cy="509.6" r="2.13" fill-opacity="0.45"/><circle cx="68.0" cy="504.0" r="2.82" fill-opacity="0.82"/><circle cx="49.5" cy="539.0" r="2.56" fill-opacity="0.65"/><circle cx="137.6" cy="474.9" r="2.53" fill-opacity="0.32"/><circle cx="124.2" cy="481.8" r="2.27" fill-opacity="0.84"/><circle cx="30.8" cy="491.7" r="2.06" fill-opacity="0.81"/><circle cx="25.2" cy="540.7" r="2.60" fill-opacity="0.78"/><circle cx="129.0" cy="477.2" r="2.12" fill-opacity="0.63"/><circle cx="167.6" cy="471.2" r="1.95" fill-opacity="0.92"/><circle cx="152.2" cy="511.1" r="2.07" fill-opacity="0.51"/><circle cx="44.5" cy="567.4" r="2.48" fill-opacity="0.33"/><circle cx="104.6" cy="493.7" r="2.00" fill-opacity="0.44"/><circle cx="172.5" cy="557.0" r="2.04" fill-opacity="0.66"/><circle cx="150.7" cy="513.0" r="2.44" fill-opacity="0.70"/><circle cx="175.0" cy="541.1" r="2.05" fill-opacity="0.88"/><circle cx="64.3" cy="526.1" r="2.37" fill-opacity="0.68"/><circle cx="78.1" cy="509.6" r="2.14" fill-opacity="0.61"/><circle cx="155.1" cy="515.0" r="2.71" fill-opacity="0.28"/><circle cx="58.3" cy="485.0" r="2.86" fill-opacity="0.25"/><circle cx="41.2" cy="568.3" r="2.10" fill-opacity="0.96"/><circle cx="108.8" cy="598.8" r="2.04" fill-opacity="0.28"/><circle cx="173.5" cy="507.6" r="2.64" fill-opacity="0.50"/><circle cx="80.5" cy="526.7" r="2.74" fill-opacity="0.59"/><circle cx="88.3" cy="540.9" r="2.66" fill-opacity="0.29"/><circle cx="27.8" cy="473.4" r="2.29" fill-opacity="0.28"/><circle cx="53.8" cy="527.6" r="2.88" fill-opacity="0.35"/><circle cx="71.0" cy="506.8" r="2.18" fill-opacity="0.48"/><circle cx="150.5" cy="486.6" r="2.43" fill-opacity="0.51"/><circle cx="117.3" cy="543.6" r="2.50" fill-opacity="0.76"/><circle cx="92.8" cy="574.6" r="2.06" fill-opacity="0.30"/><circle cx="65.4" cy="526.5" r="2.18" fill-opacity="0.55"/><circle cx="158.5" cy="517.3" r="2.21" fill-opacity="0.81"/><circle cx="59.9" cy="576.6" r="2.60" fill-opacity="0.58"/><circle cx="157.1" cy="524.4" r="2.55" fill-opacity="0.42"/><circle cx="88.4" cy="562.5" r="2.40" fill-opacity="0.48"/><circle cx="165.3" cy="483.3" r="2.83" fill-opacity="0.26"/><circle cx="66.0" cy="525.4" r="2.54" fill-opacity="0.64"/><circle cx="80.4" cy="457.8" r="2.08" fill-opacity="0.77"/><circle cx="107.6" cy="518.9" r="2.73" fill-opacity="0.52"/><circle cx="104.6" cy="590.7" r="2.53" fill-opacity="0.31"/><circle cx="56.3" cy="542.8" r="2.11" fill-opacity="0.36"/><circle cx="28.7" cy="538.4" r="1.91" fill-opacity="0.39"/><circle cx="165.8" cy="597.3" r="2.53" fill-opacity="0.79"/><circle cx="105.8" cy="544.3" r="2.12" fill-opacity="0.33"/><circle cx="92.4" cy="530.1" r="2.41" fill-opacity="0.91"/><circle cx="88.3" cy="570.9" r="2.64" fill-opacity="0.97"/><circle cx="47.7" cy="457.8" r="2.00" fill-opacity="0.26"/><circle cx="158.0" cy="495.4" r="2.04" fill-opacity="0.46"/><circle cx="64.0" cy="544.6" r="2.88" fill-opacity="0.94"/><circle cx="92.9" cy="553.9" r="2.78" fill-opacity="0.37"/><circle cx="155.0" cy="537.6" r="2.89" fill-opacity="0.56"/><circle cx="83.3" cy="518.3" r="2.13" fill-opacity="0.83"/><circle cx="166.3" cy="544.4" r="2.73" fill-opacity="0.73"/><circle cx="175.9" cy="484.0" r="2.68" fill-opacity="0.28"/><circle cx="125.0" cy="489.2" r="2.35" fill-opacity="0.71"/><circle cx="82.8" cy="550.4" r="2.17" fill-opacity="0.47"/><circle cx="92.6" cy="557.0" r="2.09" fill-opacity="0.47"/><circle cx="159.7" cy="518.9" r="2.42" fill-opacity="0.38"/><circle cx="34.9" cy="485.5" r="2.35" fill-opacity="0.90"/><circle cx="128.2" cy="567.2" r="2.65" fill-opacity="0.58"/><circle cx="51.3" cy="570.9" r="2.56" fill-opacity="0.28"/><circle cx="161.1" cy="589.1" r="2.76" fill-opacity="0.53"/><circle cx="85.0" cy="495.0" r="2.88" fill-opacity="0.69"/><circle cx="70.4" cy="485.7" r="1.99" fill-opacity="0.25"/><circle cx="60.5" cy="532.6" r="2.30" fill-opacity="0.74"/><circle cx="131.5" cy="480.7" r="2.24" fill-opacity="0.40"/><circle cx="152.1" cy="594.8" r="2.05" fill-opacity="0.79"/><circle cx="148.5" cy="524.7" r="2.38" fill-opacity="0.99"/><circle cx="128.2" cy="531.6" r="2.36" fill-opacity="0.79"/><circle cx="107.9" cy="602.4" r="2.84" fill-opacity="0.85"/><circle cx="162.3" cy="544.5" r="2.39" fill-opacity="0.27"/><circle cx="32.5" cy="496.8" r="2.48" fill-opacity="0.37"/><circle cx="115.1" cy="606.8" r="2.58" fill-opacity="0.65"/><circle cx="149.4" cy="491.9" r="2.16" fill-opacity="0.39"/><circle cx="73.5" cy="581.4" r="2.25" fill-opacity="0.81"/><circle cx="168.4" cy="596.1" r="2.84" fill-opacity="0.63"/><circle cx="157.2" cy="555.0" r="2.38" fill-opacity="0.31"/><circle cx="64.5" cy="512.7" r="2.70" fill-opacity="0.26"/><circle cx="137.0" cy="530.6" r="2.48" fill-opacity="0.75"/><circle cx="130.7" cy="567.5" r="2.08" fill-opacity="0.32"/><circle cx="150.1" cy="607.8" r="2.72" fill-opacity="0.38"/><circle cx="154.0" cy="530.4" r="2.53" fill-opacity="0.50"/><circle cx="113.1" cy="492.2" r="2.89" fill-opacity="0.36"/><circle cx="24.4" cy="515.2" r="2.08" fill-opacity="0.64"/><circle cx="57.2" cy="543.4" r="2.56" fill-opacity="0.56"/><circle cx="104.1" cy="505.8" r="2.72" fill-opacity="0.61"/><circle cx="96.3" cy="581.2" r="2.33" fill-opacity="0.73"/><circle cx="49.3" cy="608.2" r="2.85" fill-opacity="0.62"/><circle cx="82.1" cy="496.9" r="2.12" fill-opacity="0.86"/><circle cx="59.0" cy="464.8" r="2.21" fill-opacity="0.77"/><circle cx="84.0" cy="592.4" r="2.85" fill-opacity="0.94"/><circle cx="134.2" cy="460.6" r="2.63" fill-opacity="0.28"/><circle cx="151.9" cy="484.7" r="2.84" fill-opacity="0.85"/><circle cx="31.9" cy="564.0" r="1.97" fill-opacity="0.33"/><circle cx="168.5" cy="570.7" r="1.95" fill-opacity="0.56"/><circle cx="118.5" cy="486.0" r="2.69" fill-opacity="0.83"/><circle cx="26.5" cy="594.0" r="2.74" fill-opacity="0.58"/><circle cx="46.1" cy="493.4" r="2.90" fill-opacity="0.71"/><circle cx="30.3" cy="498.1" r="2.40" fill-opacity="0.95"/><circle cx="140.8" cy="502.3" r="2.32" fill-opacity="0.29"/><circle cx="53.5" cy="507.8" r="2.61" fill-opacity="0.70"/><circle cx="134.8" cy="564.2" r="2.72" fill-opacity="0.30"/><circle cx="98.5" cy="575.6" r="2.51" fill-opacity="0.32"/><circle cx="147.6" cy="593.2" r="2.37" fill-opacity="0.58"/><circle cx="145.0" cy="473.8" r="2.70" fill-opacity="0.73"/><circle cx="135.5" cy="530.2" r="2.02" fill-opacity="0.33"/><circle cx="167.5" cy="606.7" r="2.48" fill-opacity="0.55"/><circle cx="89.4" cy="479.7" r="2.70" fill-opacity="0.96"/><circle cx="91.5" cy="507.4" r="2.27" fill-opacity="0.60"/><circle cx="65.6" cy="478.0" r="2.73" fill-opacity="0.64"/><circle cx="128.4" cy="481.6" r="1.91" fill-opacity="0.27"/><circle cx="56.4" cy="475.3" r="2.61" fill-opacity="0.89"/><circle cx="57.0" cy="573.6" r="1.94" fill-opacity="0.80"/><circle cx="84.8" cy="544.0" r="2.26" fill-opacity="0.32"/><circle cx="96.4" cy="463.2" r="2.47" fill-opacity="0.88"/><circle cx="31.8" cy="541.4" r="2.24" fill-opacity="0.45"/><circle cx="116.3" cy="464.8" r="2.51" fill-opacity="0.55"/><circle cx="135.4" cy="556.2" r="2.51" fill-opacity="0.42"/><circle cx="122.1" cy="493.4" r="2.40" fill-opacity="0.41"/><circle cx="60.7" cy="514.6" r="2.15" fill-opacity="0.71"/><circle cx="176.8" cy="534.1" r="2.47" fill-opacity="0.44"/><circle cx="61.1" cy="531.3" r="2.63" fill-opacity="0.27"/><circle cx="39.8" cy="550.7" r="2.39" fill-opacity="0.44"/><circle cx="95.0" cy="481.0" r="2.01" fill-opacity="0.29"/><circle cx="67.6" cy="529.4" r="2.33" fill-opacity="0.49"/><circle cx="95.3" cy="555.9" r="2.14" fill-opacity="0.42"/><circle cx="107.0" cy="500.8" r="2.23" fill-opacity="0.60"/><circle cx="90.5" cy="599.3" r="2.83" fill-opacity="0.33"/><circle cx="173.5" cy="526.8" r="2.20" fill-opacity="0.96"/><circle cx="80.9" cy="473.8" r="2.82" fill-opacity="0.26"/><circle cx="54.8" cy="577.5" r="2.75" fill-opacity="0.67"/><circle cx="106.3" cy="573.2" r="2.34" fill-opacity="0.29"/><circle cx="86.8" cy="581.2" r="1.99" fill-opacity="0.93"/><circle cx="125.7" cy="591.8" r="2.78" fill-opacity="0.32"/><circle cx="169.0" cy="482.7" r="1.99" fill-opacity="0.25"/><circle cx="152.7" cy="569.8" r="2.74" fill-opacity="0.37"/><circle cx="75.4" cy="560.6" r="2.82" fill-opacity="0.31"/><circle cx="162.7" cy="575.0" r="2.48" fill-opacity="0.97"/><circle cx="150.7" cy="553.1" r="2.54" fill-opacity="0.33"/><circle cx="156.7" cy="461.5" r="2.55" fill-opacity="0.27"/><circle cx="99.9" cy="602.3" r="2.46" fill-opacity="0.81"/><circle cx="112.7" cy="496.2" r="2.20" fill-opacity="0.39"/><circle cx="131.1" cy="596.5" r="2.65" fill-opacity="0.96"/><circle cx="90.3" cy="499.9" r="2.82" fill-opacity="0.60"/><circle cx="115.2" cy="576.3" r="2.27" fill-opacity="0.26"/><circle cx="127.0" cy="568.3" r="1.97" fill-opacity="0.42"/><circle cx="129.1" cy="509.9" r="2.73" fill-opacity="0.95"/><circle cx="84.8" cy="482.0" r="2.05" fill-opacity="0.38"/><circle cx="42.1" cy="519.2" r="2.13" fill-opacity="0.52"/><circle cx="134.5" cy="517.7" r="2.42" fill-opacity="0.38"/><circle cx="157.6" cy="550.4" r="2.68" fill-opacity="0.44"/><circle cx="111.0" cy="599.2" r="2.32" fill-opacity="0.69"/><circle cx="157.7" cy="465.9" r="2.63" fill-opacity="0.59"/><circle cx="30.5" cy="483.4" r="1.98" fill-opacity="0.63"/><circle cx="74.8" cy="604.5" r="2.34" fill-opacity="0.58"/><circle cx="127.4" cy="592.8" r="2.23" fill-opacity="0.87"/><circle cx="128.9" cy="504.6" r="2.53" fill-opacity="0.26"/><circle cx="131.3" cy="475.3" r="2.67" fill-opacity="0.40"/><circle cx="124.4" cy="566.4" r="2.65" fill-opacity="0.57"/><circle cx="57.3" cy="569.3" r="2.48" fill-opacity="0.47"/><circle cx="159.0" cy="540.3" r="2.32" fill-opacity="0.93"/><circle cx="129.5" cy="485.4" r="2.00" fill-opacity="0.90"/><circle cx="97.0" cy="553.1" r="2.48" fill-opacity="0.48"/><circle cx="101.6" cy="492.4" r="2.41" fill-opacity="0.40"/><circle cx="158.2" cy="530.1" r="2.09" fill-opacity="0.94"/><circle cx="125.9" cy="531.9" r="2.44" fill-opacity="0.32"/><circle cx="104.6" cy="476.0" r="2.78" fill-opacity="1.00"/><circle cx="142.2" cy="503.7" r="2.46" fill-opacity="0.76"/><circle cx="164.4" cy="460.2" r="2.23" fill-opacity="0.36"/><circle cx="149.0" cy="568.1" r="1.99" fill-opacity="0.55"/><circle cx="26.7" cy="599.2" r="2.29" fill-opacity="0.66"/><circle cx="119.9" cy="600.2" r="2.43" fill-opacity="0.30"/><circle cx="167.0" cy="596.5" r="2.21" fill-opacity="0.93"/><circle cx="65.7" cy="575.5" r="2.07" fill-opacity="0.89"/><circle cx="121.1" cy="553.2" r="2.80" fill-opacity="0.67"/><circle cx="113.5" cy="565.5" r="2.43" fill-opacity="0.80"/><circle cx="113.7" cy="580.8" r="2.80" fill-opacity="0.96"/><circle cx="31.9" cy="481.3" r="2.68" fill-opacity="0.60"/><circle cx="119.5" cy="579.9" r="2.42" fill-opacity="0.26"/><circle cx="140.7" cy="547.6" r="2.80" fill-opacity="0.45"/><circle cx="151.0" cy="458.6" r="2.18" fill-opacity="0.29"/><circle cx="96.9" cy="591.8" r="2.55" fill-opacity="0.75"/><circle cx="159.1" cy="581.9" r="2.68" fill-opacity="0.34"/><circle cx="45.8" cy="519.9" r="2.13" fill-opacity="0.42"/><circle cx="81.1" cy="482.2" r="1.96" fill-opacity="0.44"/><circle cx="160.3" cy="552.1" r="2.67" fill-opacity="0.86"/><circle cx="170.8" cy="509.7" r="2.52" fill-opacity="0.43"/><circle cx="38.3" cy="573.2" r="1.98" fill-opacity="0.91"/><circle cx="164.0" cy="597.6" r="1.92" fill-opacity="0.51"/><circle cx="83.4" cy="565.1" r="2.53" fill-opacity="0.49"/><circle cx="121.1" cy="569.7" r="2.75" fill-opacity="0.31"/><circle cx="102.4" cy="479.8" r="2.17" fill-opacity="0.28"/><circle cx="32.9" cy="507.5" r="2.88" fill-opacity="0.98"/><circle cx="55.4" cy="466.9" r="2.37" fill-opacity="0.90"/><circle cx="79.6" cy="533.5" r="1.90" fill-opacity="0.96"/><circle cx="105.9" cy="472.4" r="2.09" fill-opacity="0.47"/><circle cx="54.4" cy="545.1" r="2.73" fill-opacity="0.56"/><circle cx="127.3" cy="491.6" r="2.77" fill-opacity="0.52"/><circle cx="113.6" cy="477.4" r="1.96" fill-opacity="0.54"/><circle cx="119.0" cy="464.6" r="2.41" fill-opacity="0.95"/><circle cx="53.3" cy="552.0" r="2.40" fill-opacity="0.29"/><circle cx="67.0" cy="517.0" r="2.60" fill-opacity="0.39"/><circle cx="83.0" cy="583.4" r="2.13" fill-opacity="0.48"/><circle cx="151.7" cy="579.6" r="2.54" fill-opacity="0.83"/><circle cx="146.6" cy="494.3" r="2.67" fill-opacity="0.59"/><circle cx="129.0" cy="588.2" r="2.33" fill-opacity="0.69"/><circle cx="114.1" cy="552.9" r="2.66" fill-opacity="0.26"/><circle cx="168.0" cy="568.1" r="2.65" fill-opacity="0.25"/><circle cx="146.0" cy="466.5" r="2.72" fill-opacity="0.89"/><circle cx="166.8" cy="489.1" r="2.81" fill-opacity="0.68"/><circle cx="27.5" cy="536.0" r="2.64" fill-opacity="0.90"/><circle cx="132.5" cy="466.0" r="2.76" fill-opacity="0.93"/><circle cx="133.0" cy="557.4" r="2.35" fill-opacity="0.80"/><circle cx="176.0" cy="498.0" r="2.20" fill-opacity="0.28"/><circle cx="107.0" cy="500.3" r="2.53" fill-opacity="0.43"/><circle cx="63.5" cy="553.4" r="2.51" fill-opacity="0.67"/><circle cx="67.9" cy="564.1" r="2.41" fill-opacity="0.77"/><circle cx="72.5" cy="522.4" r="2.12" fill-opacity="0.42"/><circle cx="98.9" cy="519.5" r="2.61" fill-opacity="0.74"/><circle cx="152.3" cy="596.9" r="2.22" fill-opacity="0.33"/><circle cx="128.1" cy="573.1" r="2.45" fill-opacity="0.41"/><circle cx="80.8" cy="560.6" r="2.22" fill-opacity="0.72"/><circle cx="157.9" cy="589.9" r="2.83" fill-opacity="0.84"/><circle cx="76.0" cy="588.9" r="2.15" fill-opacity="0.37"/><circle cx="156.0" cy="502.0" r="2.89" fill-opacity="0.49"/><circle cx="149.0" cy="477.0" r="2.87" fill-opacity="0.79"/><circle cx="48.5" cy="587.5" r="2.86" fill-opacity="0.28"/><circle cx="150.7" cy="576.6" r="2.57" fill-opacity="0.66"/><circle cx="165.5" cy="501.4" r="2.23" fill-opacity="0.45"/><circle cx="126.6" cy="466.5" r="1.94" fill-opacity="0.41"/><circle cx="138.4" cy="504.0" r="2.78" fill-opacity="0.57"/><circle cx="174.7" cy="495.8" r="2.81" fill-opacity="0.45"/><circle cx="46.4" cy="596.7" r="2.15" fill-opacity="0.59"/><circle cx="38.3" cy="577.5" r="2.36" fill-opacity="0.50"/><circle cx="170.8" cy="458.3" r="2.25" fill-opacity="0.36"/><circle cx="99.9" cy="574.9" r="2.32" fill-opacity="0.46"/><circle cx="152.6" cy="527.8" r="2.68" fill-opacity="0.94"/><circle cx="172.6" cy="601.8" r="2.35" fill-opacity="0.46"/><circle cx="26.4" cy="527.0" r="2.12" fill-opacity="0.96"/><circle cx="74.0" cy="538.5" r="2.88" fill-opacity="0.78"/><circle cx="55.8" cy="485.2" r="2.24" fill-opacity="0.76"/><circle cx="47.5" cy="510.9" r="2.31" fill-opacity="0.67"/><circle cx="126.3" cy="479.6" r="2.86" fill-opacity="0.31"/><circle cx="139.8" cy="494.5" r="2.89" fill-opacity="0.77"/><circle cx="83.9" cy="521.1" r="2.64" fill-opacity="0.47"/><circle cx="170.5" cy="478.8" r="2.16" fill-opacity="0.55"/><circle cx="30.1" cy="499.9" r="2.00" fill-opacity="0.78"/><circle cx="112.0" cy="472.2" r="2.74" fill-opacity="0.28"/><circle cx="28.4" cy="492.6" r="2.67" fill-opacity="0.78"/><circle cx="108.0" cy="495.2" r="2.62" fill-opacity="0.26"/><circle cx="100.5" cy="499.6" r="2.76" fill-opacity="0.28"/><circle cx="76.5" cy="489.1" r="2.12" fill-opacity="0.27"/><circle cx="172.8" cy="606.5" r="2.02" fill-opacity="0.71"/><circle cx="168.8" cy="475.3" r="2.37" fill-opacity="0.40"/><circle cx="167.6" cy="577.0" r="2.74" fill-opacity="0.25"/><circle cx="130.7" cy="541.8" r="2.20" fill-opacity="0.66"/><circle cx="168.3" cy="516.0" r="2.58" fill-opacity="0.63"/><circle cx="146.6" cy="478.0" r="2.69" fill-opacity="0.47"/><circle cx="92.6" cy="565.4" r="2.84" fill-opacity="0.27"/><circle cx="158.3" cy="525.0" r="2.49" fill-opacity="0.38"/><circle cx="117.5" cy="495.0" r="2.21" fill-opacity="0.58"/><circle cx="128.7" cy="538.6" r="2.14" fill-opacity="0.78"/><circle cx="68.0" cy="479.8" r="1.98" fill-opacity="0.62"/><circle cx="27.4" cy="510.3" r="2.01" fill-opacity="0.86"/><circle cx="25.9" cy="486.3" r="1.99" fill-opacity="0.78"/><circle cx="24.8" cy="511.2" r="2.17" fill-opacity="0.46"/><circle cx="176.8" cy="593.3" r="2.18" fill-opacity="0.78"/><circle cx="138.1" cy="485.4" r="2.31" fill-opacity="0.79"/><circle cx="39.9" cy="525.5" r="2.18" fill-opacity="0.44"/><circle cx="52.1" cy="590.4" r="2.49" fill-opacity="0.92"/><circle cx="166.3" cy="469.5" r="2.10" fill-opacity="0.90"/><circle cx="28.2" cy="539.3" r="2.32" fill-opacity="0.54"/><circle cx="91.8" cy="513.4" r="2.62" fill-opacity="0.99"/><circle cx="109.2" cy="597.5" r="2.00" fill-opacity="0.32"/><circle cx="88.9" cy="483.0" r="2.77" fill-opacity="0.99"/><circle cx="123.5" cy="568.3" r="2.54" fill-opacity="0.51"/><circle cx="115.6" cy="571.4" r="2.55" fill-opacity="0.57"/><circle cx="30.1" cy="475.0" r="2.01" fill-opacity="0.78"/><circle cx="57.7" cy="484.2" r="2.13" fill-opacity="0.72"/><circle cx="115.9" cy="510.1" r="2.81" fill-opacity="0.66"/><circle cx="121.4" cy="545.9" r="2.65" fill-opacity="0.31"/><circle cx="158.4" cy="583.9" r="2.84" fill-opacity="0.27"/><circle cx="120.1" cy="500.0" r="2.80" fill-opacity="0.98"/><circle cx="33.5" cy="493.0" r="2.59" fill-opacity="0.27"/><circle cx="174.6" cy="600.7" r="2.08" fill-opacity="0.25"/><circle cx="135.6" cy="533.3" r="2.29" fill-opacity="0.79"/><circle cx="135.2" cy="604.1" r="2.37" fill-opacity="0.50"/><circle cx="173.8" cy="560.1" r="2.39" fill-opacity="0.97"/><circle cx="41.4" cy="467.2" r="2.10" fill-opacity="0.76"/><circle cx="149.6" cy="489.0" r="2.86" fill-opacity="0.39"/><circle cx="122.8" cy="558.4" r="2.15" fill-opacity="0.35"/><circle cx="85.3" cy="482.1" r="2.09" fill-opacity="0.94"/><circle cx="82.6" cy="496.5" r="2.27" fill-opacity="0.43"/><circle cx="122.5" cy="538.5" r="2.34" fill-opacity="0.44"/><circle cx="68.4" cy="547.9" r="2.54" fill-opacity="0.88"/><circle cx="115.2" cy="537.6" r="2.31" fill-opacity="0.84"/><circle cx="107.5" cy="553.5" r="2.40" fill-opacity="0.26"/><circle cx="33.1" cy="569.9" r="1.99" fill-opacity="0.92"/><circle cx="158.3" cy="463.0" r="1.99" fill-opacity="0.41"/><circle cx="106.6" cy="476.1" r="1.95" fill-opacity="0.34"/><circle cx="165.6" cy="495.9" r="2.30" fill-opacity="0.95"/><circle cx="169.1" cy="607.1" r="2.79" fill-opacity="0.77"/><circle cx="125.6" cy="484.1" r="1.98" fill-opacity="0.36"/><circle cx="46.1" cy="550.1" r="2.51" fill-opacity="0.60"/><circle cx="153.2" cy="563.5" r="1.93" fill-opacity="0.65"/><circle cx="135.7" cy="525.7" r="1.92" fill-opacity="0.86"/><circle cx="168.6" cy="537.2" r="1.99" fill-opacity="0.79"/><circle cx="53.3" cy="545.8" r="2.01" fill-opacity="0.95"/><circle cx="82.7" cy="537.4" r="2.20" fill-opacity="0.56"/><circle cx="131.8" cy="585.6" r="1.92" fill-opacity="0.80"/><circle cx="103.4" cy="567.6" r="2.74" fill-opacity="0.90"/><circle cx="89.2" cy="473.2" r="2.80" fill-opacity="0.57"/><circle cx="83.7" cy="536.8" r="1.99" fill-opacity="0.74"/><circle cx="152.8" cy="463.1" r="2.80" fill-opacity="0.45"/><circle cx="75.5" cy="608.6" r="2.41" fill-opacity="0.46"/><circle cx="143.5" cy="602.0" r="2.13" fill-opacity="0.73"/><circle cx="114.6" cy="579.5" r="2.72" fill-opacity="0.65"/><circle cx="166.4" cy="507.7" r="2.45" fill-opacity="0.52"/><circle cx="169.5" cy="607.0" r="2.30" fill-opacity="0.56"/><circle cx="35.1" cy="561.0" r="2.32" fill-opacity="0.90"/><circle cx="153.6" cy="527.3" r="1.96" fill-opacity="0.92"/><circle cx="132.7" cy="601.3" r="2.47" fill-opacity="0.30"/><circle cx="138.8" cy="531.5" r="2.39" fill-opacity="0.63"/><circle cx="33.3" cy="560.9" r="2.27" fill-opacity="0.40"/><circle cx="76.8" cy="604.9" r="2.51" fill-opacity="0.53"/><circle cx="121.9" cy="478.5" r="2.25" fill-opacity="0.92"/><circle cx="130.2" cy="571.7" r="2.55" fill-opacity="0.35"/><circle cx="148.6" cy="531.8" r="2.74" fill-opacity="0.94"/><circle cx="129.1" cy="570.7" r="2.41" fill-opacity="0.93"/><circle cx="74.8" cy="497.5" r="2.30" fill-opacity="0.99"/><circle cx="164.5" cy="495.6" r="2.03" fill-opacity="0.50"/><circle cx="105.0" cy="485.1" r="2.62" fill-opacity="0.67"/><circle cx="168.1" cy="561.3" r="2.21" fill-opacity="0.95"/><circle cx="153.4" cy="467.5" r="2.03" fill-opacity="0.69"/><circle cx="85.1" cy="590.5" r="2.01" fill-opacity="0.26"/><circle cx="103.4" cy="577.0" r="2.22" fill-opacity="0.72"/><circle cx="66.9" cy="520.3" r="2.73" fill-opacity="0.28"/><circle cx="168.4" cy="497.5" r="2.08" fill-opacity="0.31"/><circle cx="122.9" cy="480.1" r="2.14" fill-opacity="0.50"/><circle cx="36.8" cy="465.0" r="2.69" fill-opacity="0.72"/><circle cx="162.1" cy="470.5" r="2.33" fill-opacity="0.26"/><circle cx="52.7" cy="492.1" r="2.74" fill-opacity="0.77"/><circle cx="53.6" cy="527.2" r="2.61" fill-opacity="0.74"/><circle cx="156.7" cy="548.0" r="2.02" fill-opacity="0.91"/><circle cx="55.9" cy="508.6" r="2.83" fill-opacity="0.84"/><circle cx="67.9" cy="510.0" r="2.60" fill-opacity="0.93"/><circle cx="113.6" cy="475.6" r="2.64" fill-opacity="0.42"/><circle cx="150.3" cy="540.8" r="1.96" fill-opacity="0.61"/><circle cx="123.6" cy="595.1" r="2.48" fill-opacity="0.26"/><circle cx="100.7" cy="572.8" r="2.61" fill-opacity="0.25"/><circle cx="152.4" cy="548.7" r="2.41" fill-opacity="0.37"/><circle cx="58.6" cy="501.5" r="2.39" fill-opacity="0.37"/><circle cx="93.2" cy="501.2" r="1.92" fill-opacity="0.76"/><circle cx="142.2" cy="524.7" r="2.24" fill-opacity="0.36"/><circle cx="166.5" cy="584.5" r="2.09" fill-opacity="0.32"/><circle cx="123.7" cy="566.9" r="2.41" fill-opacity="0.42"/><circle cx="137.2" cy="475.6" r="2.04" fill-opacity="0.77"/><circle cx="97.1" cy="608.8" r="2.70" fill-opacity="0.36"/><circle cx="58.1" cy="552.2" r="2.13" fill-opacity="0.55"/><circle cx="65.5" cy="530.1" r="2.16" fill-opacity="0.45"/><circle cx="133.1" cy="572.7" r="2.00" fill-opacity="0.50"/><circle cx="79.8" cy="540.1" r="1.96" fill-opacity="0.82"/><circle cx="103.9" cy="608.6" r="1.98" fill-opacity="0.50"/><circle cx="80.3" cy="505.8" r="2.65" fill-opacity="0.73"/><circle cx="159.7" cy="549.6" r="2.37" fill-opacity="0.80"/><circle cx="52.3" cy="541.3" r="2.74" fill-opacity="0.83"/><circle cx="142.7" cy="506.3" r="2.67" fill-opacity="0.31"/><circle cx="149.3" cy="526.8" r="2.22" fill-opacity="0.59"/><circle cx="53.2" cy="585.4" r="2.76" fill-opacity="0.26"/><circle cx="33.7" cy="472.1" r="2.45" fill-opacity="0.95"/><circle cx="34.3" cy="529.1" r="2.30" fill-opacity="0.40"/><circle cx="81.0" cy="550.3" r="2.80" fill-opacity="0.65"/><circle cx="55.5" cy="601.8" r="2.86" fill-opacity="0.43"/><circle cx="173.5" cy="478.9" r="2.17" fill-opacity="0.88"/><circle cx="95.1" cy="461.5" r="2.22" fill-opacity="0.50"/><circle cx="32.0" cy="589.0" r="2.21" fill-opacity="0.35"/></g></g>
<g clip-path="url(#clipD)"><rect x="26.3" y="613" width="148.5" height="147.8" fill="#000"/>
<g fill="url(#sg)"><circle cx="82.2" cy="645.5" r="5.7" fill-opacity="0.11"/><circle cx="129.9" cy="695.1" r="5.2" fill-opacity="0.11"/><circle cx="91.2" cy="633.8" r="5.2" fill-opacity="0.07"/><circle cx="124.4" cy="705.5" r="5.4" fill-opacity="0.06"/><circle cx="157.2" cy="739.4" r="5.2" fill-opacity="0.12"/><circle cx="42.6" cy="713.0" r="5.7" fill-opacity="0.12"/><circle cx="174.7" cy="618.2" r="4.9" fill-opacity="0.11"/><circle cx="69.9" cy="632.4" r="4.2" fill-opacity="0.11"/><circle cx="99.5" cy="670.7" r="3.4" fill-opacity="0.10"/><circle cx="135.8" cy="675.5" r="4.6" fill-opacity="0.13"/><circle cx="124.5" cy="659.5" r="3.2" fill-opacity="0.06"/><circle cx="156.6" cy="744.5" r="3.3" fill-opacity="0.11"/><circle cx="139.1" cy="703.7" r="5.5" fill-opacity="0.14"/><circle cx="128.4" cy="673.2" r="5.9" fill-opacity="0.08"/><circle cx="56.0" cy="715.5" r="5.7" fill-opacity="0.09"/><circle cx="139.3" cy="722.6" r="3.5" fill-opacity="0.06"/><circle cx="51.2" cy="712.5" r="3.7" fill-opacity="0.11"/><circle cx="47.3" cy="660.6" r="5.0" fill-opacity="0.07"/><circle cx="161.4" cy="736.4" r="4.8" fill-opacity="0.14"/><circle cx="121.9" cy="688.9" r="3.5" fill-opacity="0.12"/><circle cx="144.4" cy="621.0" r="4.8" fill-opacity="0.09"/><circle cx="117.8" cy="737.6" r="3.8" fill-opacity="0.11"/><circle cx="60.2" cy="686.9" r="3.7" fill-opacity="0.07"/><circle cx="96.6" cy="621.1" r="5.8" fill-opacity="0.13"/><circle cx="53.5" cy="733.5" r="4.1" fill-opacity="0.07"/><circle cx="135.6" cy="669.3" r="4.6" fill-opacity="0.11"/><circle cx="129.8" cy="685.3" r="5.2" fill-opacity="0.08"/><circle cx="147.3" cy="741.2" r="5.1" fill-opacity="0.07"/><circle cx="80.8" cy="732.3" r="4.1" fill-opacity="0.09"/><circle cx="156.8" cy="636.6" r="3.3" fill-opacity="0.13"/><circle cx="72.0" cy="748.9" r="5.5" fill-opacity="0.08"/><circle cx="143.8" cy="663.2" r="5.7" fill-opacity="0.10"/><circle cx="105.2" cy="746.4" r="3.8" fill-opacity="0.11"/><circle cx="139.7" cy="690.4" r="5.0" fill-opacity="0.08"/><circle cx="62.0" cy="741.3" r="3.3" fill-opacity="0.13"/><circle cx="177.0" cy="657.0" r="4.6" fill-opacity="0.12"/><circle cx="25.2" cy="709.7" r="5.8" fill-opacity="0.09"/><circle cx="29.2" cy="641.2" r="4.1" fill-opacity="0.07"/><circle cx="88.4" cy="623.6" r="5.9" fill-opacity="0.13"/><circle cx="121.3" cy="680.3" r="5.7" fill-opacity="0.13"/><circle cx="25.8" cy="755.7" r="4.4" fill-opacity="0.09"/><circle cx="65.1" cy="615.2" r="4.9" fill-opacity="0.07"/><circle cx="165.9" cy="749.0" r="4.6" fill-opacity="0.09"/><circle cx="165.3" cy="748.2" r="4.5" fill-opacity="0.11"/><circle cx="65.0" cy="651.6" r="3.3" fill-opacity="0.10"/><circle cx="48.1" cy="737.5" r="5.4" fill-opacity="0.08"/><circle cx="50.3" cy="761.4" r="4.1" fill-opacity="0.06"/><circle cx="99.6" cy="622.6" r="5.8" fill-opacity="0.12"/><circle cx="79.7" cy="756.0" r="3.9" fill-opacity="0.14"/><circle cx="107.1" cy="648.7" r="3.3" fill-opacity="0.10"/><circle cx="46.2" cy="624.7" r="3.9" fill-opacity="0.10"/><circle cx="156.1" cy="755.5" r="5.8" fill-opacity="0.08"/><circle cx="76.8" cy="627.2" r="3.8" fill-opacity="0.08"/><circle cx="74.8" cy="754.6" r="5.7" fill-opacity="0.10"/><circle cx="139.0" cy="713.1" r="5.8" fill-opacity="0.11"/><circle cx="101.1" cy="645.3" r="4.3" fill-opacity="0.09"/><circle cx="43.5" cy="756.5" r="4.3" fill-opacity="0.08"/><circle cx="68.1" cy="671.0" r="5.5" fill-opacity="0.08"/><circle cx="120.8" cy="615.2" r="5.5" fill-opacity="0.09"/><circle cx="126.9" cy="678.3" r="5.3" fill-opacity="0.08"/><circle cx="97.8" cy="726.9" r="3.4" fill-opacity="0.06"/><circle cx="126.8" cy="733.1" r="4.9" fill-opacity="0.06"/><circle cx="79.5" cy="681.1" r="3.8" fill-opacity="0.09"/><circle cx="58.4" cy="620.8" r="3.1" fill-opacity="0.09"/><circle cx="39.5" cy="706.4" r="5.0" fill-opacity="0.11"/><circle cx="47.6" cy="729.1" r="5.9" fill-opacity="0.06"/><circle cx="25.9" cy="671.8" r="5.9" fill-opacity="0.13"/><circle cx="92.1" cy="646.3" r="3.0" fill-opacity="0.06"/><circle cx="166.4" cy="726.6" r="4.3" fill-opacity="0.11"/><circle cx="170.3" cy="687.7" r="3.2" fill-opacity="0.07"/><circle cx="64.8" cy="714.0" r="5.3" fill-opacity="0.11"/><circle cx="67.6" cy="690.3" r="3.1" fill-opacity="0.11"/><circle cx="139.5" cy="758.7" r="4.9" fill-opacity="0.12"/><circle cx="170.3" cy="673.7" r="4.5" fill-opacity="0.11"/><circle cx="164.5" cy="726.3" r="5.6" fill-opacity="0.13"/><circle cx="117.9" cy="651.8" r="4.8" fill-opacity="0.06"/><circle cx="77.5" cy="762.2" r="5.1" fill-opacity="0.12"/><circle cx="73.3" cy="702.5" r="5.2" fill-opacity="0.09"/><circle cx="177.0" cy="713.2" r="5.4" fill-opacity="0.12"/><circle cx="158.9" cy="738.7" r="4.2" fill-opacity="0.12"/><circle cx="141.4" cy="736.5" r="6.0" fill-opacity="0.11"/><circle cx="116.6" cy="654.7" r="5.5" fill-opacity="0.08"/><circle cx="87.5" cy="610.3" r="5.1" fill-opacity="0.10"/><circle cx="85.2" cy="694.2" r="4.9" fill-opacity="0.07"/><circle cx="55.7" cy="711.8" r="3.3" fill-opacity="0.11"/><circle cx="40.4" cy="653.1" r="3.7" fill-opacity="0.13"/><circle cx="99.5" cy="694.5" r="3.5" fill-opacity="0.07"/><circle cx="131.7" cy="699.0" r="4.8" fill-opacity="0.08"/><circle cx="131.9" cy="738.0" r="5.9" fill-opacity="0.12"/><circle cx="23.4" cy="622.3" r="5.7" fill-opacity="0.08"/><circle cx="94.8" cy="699.9" r="3.8" fill-opacity="0.13"/><circle cx="51.6" cy="737.9" r="5.1" fill-opacity="0.09"/><circle cx="128.1" cy="718.3" r="3.9" fill-opacity="0.09"/><circle cx="138.5" cy="611.7" r="4.1" fill-opacity="0.12"/><circle cx="112.1" cy="746.9" r="5.9" fill-opacity="0.11"/><circle cx="75.2" cy="691.5" r="3.7" fill-opacity="0.07"/><circle cx="125.9" cy="758.8" r="3.1" fill-opacity="0.10"/><circle cx="64.3" cy="743.5" r="3.1" fill-opacity="0.08"/><circle cx="86.7" cy="676.6" r="3.9" fill-opacity="0.14"/><circle cx="54.4" cy="642.3" r="4.9" fill-opacity="0.13"/><circle cx="41.1" cy="668.2" r="4.4" fill-opacity="0.12"/><circle cx="147.3" cy="726.5" r="3.9" fill-opacity="0.13"/><circle cx="137.2" cy="727.3" r="3.5" fill-opacity="0.10"/><circle cx="174.4" cy="689.2" r="5.6" fill-opacity="0.07"/><circle cx="91.0" cy="643.7" r="5.5" fill-opacity="0.09"/><circle cx="113.7" cy="753.9" r="3.9" fill-opacity="0.07"/><circle cx="114.3" cy="661.4" r="5.4" fill-opacity="0.14"/><circle cx="74.0" cy="658.0" r="4.1" fill-opacity="0.12"/><circle cx="97.5" cy="684.2" r="3.8" fill-opacity="0.13"/><circle cx="169.1" cy="642.3" r="5.2" fill-opacity="0.09"/><circle cx="91.5" cy="696.8" r="4.2" fill-opacity="0.12"/><circle cx="36.8" cy="711.2" r="4.6" fill-opacity="0.08"/><circle cx="148.3" cy="613.2" r="5.9" fill-opacity="0.10"/><circle cx="129.2" cy="674.0" r="5.3" fill-opacity="0.10"/><circle cx="171.1" cy="662.2" r="4.4" fill-opacity="0.14"/><circle cx="79.9" cy="622.5" r="4.1" fill-opacity="0.08"/><circle cx="129.6" cy="742.8" r="3.3" fill-opacity="0.10"/><circle cx="75.9" cy="616.7" r="4.2" fill-opacity="0.06"/><circle cx="43.6" cy="755.5" r="3.6" fill-opacity="0.06"/><circle cx="171.6" cy="705.5" r="3.9" fill-opacity="0.07"/><circle cx="58.8" cy="704.1" r="4.6" fill-opacity="0.14"/><circle cx="46.0" cy="710.8" r="4.7" fill-opacity="0.10"/><circle cx="57.4" cy="685.7" r="4.2" fill-opacity="0.08"/><circle cx="57.5" cy="704.8" r="4.3" fill-opacity="0.10"/><circle cx="106.4" cy="635.0" r="5.8" fill-opacity="0.10"/><circle cx="82.0" cy="697.4" r="5.7" fill-opacity="0.12"/><circle cx="164.4" cy="744.3" r="4.8" fill-opacity="0.08"/><circle cx="76.1" cy="689.0" r="4.7" fill-opacity="0.10"/><circle cx="39.9" cy="761.3" r="5.8" fill-opacity="0.14"/><circle cx="84.0" cy="655.9" r="3.6" fill-opacity="0.09"/><circle cx="122.7" cy="675.4" r="3.4" fill-opacity="0.08"/><circle cx="30.5" cy="729.3" r="3.5" fill-opacity="0.09"/><circle cx="69.5" cy="672.1" r="6.0" fill-opacity="0.14"/><circle cx="64.2" cy="702.3" r="4.0" fill-opacity="0.13"/><circle cx="122.8" cy="691.8" r="4.1" fill-opacity="0.10"/><circle cx="150.1" cy="650.9" r="5.4" fill-opacity="0.06"/><circle cx="58.5" cy="727.4" r="5.8" fill-opacity="0.09"/><circle cx="121.0" cy="626.8" r="4.4" fill-opacity="0.12"/><circle cx="115.2" cy="633.0" r="3.8" fill-opacity="0.11"/><circle cx="41.1" cy="633.9" r="3.7" fill-opacity="0.11"/><circle cx="57.5" cy="641.6" r="4.9" fill-opacity="0.12"/><circle cx="45.8" cy="706.5" r="4.4" fill-opacity="0.08"/><circle cx="149.6" cy="735.2" r="4.1" fill-opacity="0.08"/><circle cx="117.2" cy="740.9" r="3.2" fill-opacity="0.12"/><circle cx="83.3" cy="627.9" r="5.6" fill-opacity="0.09"/><circle cx="70.2" cy="692.2" r="5.8" fill-opacity="0.13"/><circle cx="69.6" cy="610.7" r="5.9" fill-opacity="0.13"/><circle cx="69.0" cy="619.7" r="4.0" fill-opacity="0.08"/><circle cx="139.2" cy="740.3" r="4.3" fill-opacity="0.11"/><circle cx="30.2" cy="688.4" r="4.8" fill-opacity="0.08"/><circle cx="157.3" cy="663.3" r="3.4" fill-opacity="0.10"/><circle cx="23.8" cy="691.5" r="5.9" fill-opacity="0.10"/><circle cx="59.3" cy="712.2" r="4.6" fill-opacity="0.10"/><circle cx="24.1" cy="669.4" r="3.7" fill-opacity="0.07"/><circle cx="102.7" cy="631.4" r="4.8" fill-opacity="0.12"/><circle cx="46.7" cy="710.6" r="4.8" fill-opacity="0.10"/><circle cx="54.3" cy="754.6" r="3.6" fill-opacity="0.10"/><circle cx="116.0" cy="750.9" r="3.3" fill-opacity="0.10"/><circle cx="118.4" cy="658.3" r="4.2" fill-opacity="0.08"/><circle cx="63.1" cy="666.2" r="5.5" fill-opacity="0.11"/><circle cx="146.0" cy="690.3" r="5.4" fill-opacity="0.11"/><circle cx="72.3" cy="696.3" r="3.3" fill-opacity="0.13"/><circle cx="76.1" cy="716.2" r="4.4" fill-opacity="0.14"/><circle cx="113.7" cy="683.9" r="4.1" fill-opacity="0.11"/><circle cx="165.3" cy="629.5" r="4.1" fill-opacity="0.08"/><circle cx="173.0" cy="735.7" r="3.1" fill-opacity="0.13"/><circle cx="136.9" cy="745.6" r="4.0" fill-opacity="0.09"/><circle cx="155.1" cy="620.7" r="3.4" fill-opacity="0.10"/><circle cx="97.2" cy="744.2" r="4.0" fill-opacity="0.07"/><circle cx="150.4" cy="735.2" r="3.8" fill-opacity="0.09"/><circle cx="29.9" cy="706.9" r="3.7" fill-opacity="0.08"/><circle cx="113.0" cy="628.6" r="6.0" fill-opacity="0.10"/><circle cx="80.8" cy="612.5" r="4.0" fill-opacity="0.07"/><circle cx="70.5" cy="709.4" r="6.0" fill-opacity="0.11"/><circle cx="124.0" cy="704.1" r="4.9" fill-opacity="0.08"/><circle cx="76.4" cy="644.3" r="4.7" fill-opacity="0.13"/><circle cx="132.1" cy="742.3" r="5.6" fill-opacity="0.07"/><circle cx="98.1" cy="707.7" r="3.8" fill-opacity="0.09"/><circle cx="104.0" cy="704.3" r="4.7" fill-opacity="0.08"/><circle cx="77.5" cy="692.9" r="4.9" fill-opacity="0.08"/><circle cx="150.7" cy="763.3" r="3.9" fill-opacity="0.07"/><circle cx="30.6" cy="628.7" r="5.1" fill-opacity="0.12"/><circle cx="52.5" cy="757.9" r="4.3" fill-opacity="0.06"/><circle cx="107.3" cy="684.9" r="4.9" fill-opacity="0.10"/><circle cx="131.4" cy="695.1" r="5.0" fill-opacity="0.10"/><circle cx="124.8" cy="655.0" r="5.6" fill-opacity="0.06"/><circle cx="157.5" cy="636.7" r="5.0" fill-opacity="0.07"/><circle cx="82.6" cy="683.3" r="3.4" fill-opacity="0.08"/><circle cx="120.5" cy="708.2" r="6.0" fill-opacity="0.08"/><circle cx="48.6" cy="660.5" r="4.1" fill-opacity="0.06"/><circle cx="62.5" cy="735.6" r="4.7" fill-opacity="0.10"/><circle cx="76.3" cy="755.0" r="3.7" fill-opacity="0.13"/><circle cx="139.1" cy="670.4" r="4.0" fill-opacity="0.13"/><circle cx="102.4" cy="687.0" r="4.9" fill-opacity="0.08"/><circle cx="92.6" cy="623.4" r="4.1" fill-opacity="0.08"/><circle cx="129.5" cy="634.4" r="5.5" fill-opacity="0.12"/><circle cx="166.0" cy="627.0" r="4.7" fill-opacity="0.08"/><circle cx="136.7" cy="640.9" r="3.6" fill-opacity="0.06"/><circle cx="97.5" cy="750.0" r="4.1" fill-opacity="0.13"/><circle cx="73.2" cy="612.6" r="5.0" fill-opacity="0.11"/><circle cx="121.8" cy="738.0" r="5.5" fill-opacity="0.12"/><circle cx="93.4" cy="624.0" r="4.2" fill-opacity="0.08"/><circle cx="34.3" cy="699.2" r="4.9" fill-opacity="0.09"/><circle cx="127.2" cy="735.9" r="4.0" fill-opacity="0.11"/><circle cx="107.4" cy="708.9" r="4.1" fill-opacity="0.08"/><circle cx="29.7" cy="618.0" r="3.5" fill-opacity="0.09"/><circle cx="160.4" cy="619.6" r="4.8" fill-opacity="0.12"/><circle cx="83.7" cy="615.6" r="3.2" fill-opacity="0.08"/><circle cx="113.1" cy="632.9" r="5.8" fill-opacity="0.07"/><circle cx="95.5" cy="692.4" r="3.8" fill-opacity="0.06"/><circle cx="76.0" cy="626.9" r="5.5" fill-opacity="0.10"/><circle cx="101.7" cy="749.4" r="4.6" fill-opacity="0.12"/><circle cx="79.0" cy="656.6" r="3.4" fill-opacity="0.07"/><circle cx="108.1" cy="713.9" r="5.9" fill-opacity="0.10"/><circle cx="44.0" cy="761.5" r="6.0" fill-opacity="0.07"/><circle cx="148.0" cy="674.1" r="3.6" fill-opacity="0.10"/><circle cx="60.9" cy="691.9" r="3.3" fill-opacity="0.09"/><circle cx="162.8" cy="637.3" r="5.9" fill-opacity="0.11"/><circle cx="48.8" cy="693.3" r="4.2" fill-opacity="0.14"/><circle cx="36.1" cy="745.3" r="4.8" fill-opacity="0.14"/><circle cx="72.4" cy="707.4" r="5.5" fill-opacity="0.11"/><circle cx="114.0" cy="730.7" r="4.8" fill-opacity="0.08"/><circle cx="93.3" cy="733.3" r="4.9" fill-opacity="0.13"/><circle cx="53.0" cy="688.1" r="5.6" fill-opacity="0.10"/><circle cx="60.7" cy="672.6" r="6.0" fill-opacity="0.08"/><circle cx="67.9" cy="735.0" r="3.4" fill-opacity="0.09"/></g>
<g fill="url(#sg)"><circle cx="165.5" cy="692.7" r="1.91" fill-opacity="0.67"/><circle cx="126.0" cy="743.0" r="2.85" fill-opacity="0.38"/><circle cx="101.1" cy="730.1" r="2.89" fill-opacity="0.76"/><circle cx="141.7" cy="669.2" r="2.68" fill-opacity="0.74"/><circle cx="47.2" cy="615.5" r="2.03" fill-opacity="0.75"/><circle cx="157.7" cy="738.8" r="2.04" fill-opacity="0.43"/><circle cx="73.6" cy="675.3" r="2.12" fill-opacity="0.94"/><circle cx="61.9" cy="621.7" r="2.21" fill-opacity="0.34"/><circle cx="155.4" cy="696.0" r="2.45" fill-opacity="0.37"/><circle cx="144.8" cy="709.8" r="2.01" fill-opacity="0.74"/><circle cx="98.0" cy="659.3" r="2.13" fill-opacity="0.71"/><circle cx="108.1" cy="751.0" r="2.26" fill-opacity="0.73"/><circle cx="143.5" cy="670.9" r="2.45" fill-opacity="0.87"/><circle cx="63.0" cy="704.1" r="2.06" fill-opacity="0.72"/><circle cx="65.9" cy="713.6" r="2.38" fill-opacity="0.34"/><circle cx="71.7" cy="752.7" r="2.51" fill-opacity="0.80"/><circle cx="108.0" cy="746.9" r="2.35" fill-opacity="0.55"/><circle cx="71.5" cy="696.9" r="2.79" fill-opacity="0.75"/><circle cx="170.7" cy="611.2" r="2.89" fill-opacity="0.72"/><circle cx="27.2" cy="639.8" r="2.56" fill-opacity="0.39"/><circle cx="145.6" cy="658.1" r="2.49" fill-opacity="0.83"/><circle cx="113.4" cy="755.0" r="2.24" fill-opacity="0.64"/><circle cx="127.0" cy="673.1" r="2.62" fill-opacity="0.29"/><circle cx="42.4" cy="664.8" r="2.64" fill-opacity="0.26"/><circle cx="134.4" cy="622.6" r="2.52" fill-opacity="0.86"/><circle cx="66.8" cy="762.2" r="2.70" fill-opacity="0.26"/><circle cx="145.0" cy="742.0" r="2.50" fill-opacity="0.75"/><circle cx="46.9" cy="680.6" r="2.73" fill-opacity="0.84"/><circle cx="128.9" cy="677.8" r="1.96" fill-opacity="0.59"/><circle cx="128.6" cy="651.2" r="2.34" fill-opacity="0.95"/><circle cx="34.8" cy="682.0" r="2.19" fill-opacity="0.25"/><circle cx="62.4" cy="636.3" r="2.77" fill-opacity="0.42"/><circle cx="134.5" cy="705.3" r="2.49" fill-opacity="0.65"/><circle cx="126.1" cy="697.4" r="2.79" fill-opacity="0.29"/><circle cx="88.6" cy="710.6" r="2.09" fill-opacity="0.89"/><circle cx="49.4" cy="642.5" r="2.76" fill-opacity="0.85"/><circle cx="91.6" cy="742.8" r="2.89" fill-opacity="0.93"/><circle cx="51.2" cy="636.8" r="2.18" fill-opacity="0.36"/><circle cx="70.2" cy="619.0" r="2.42" fill-opacity="0.95"/><circle cx="43.2" cy="705.9" r="2.68" fill-opacity="0.90"/><circle cx="106.9" cy="750.1" r="2.41" fill-opacity="0.35"/><circle cx="28.5" cy="753.9" r="1.91" fill-opacity="0.33"/><circle cx="149.7" cy="656.6" r="2.66" fill-opacity="0.26"/><circle cx="175.9" cy="746.2" r="2.41" fill-opacity="0.48"/><circle cx="87.3" cy="667.0" r="1.98" fill-opacity="0.86"/><circle cx="151.0" cy="670.6" r="2.74" fill-opacity="0.62"/><circle cx="38.4" cy="699.2" r="2.07" fill-opacity="0.27"/><circle cx="69.6" cy="707.7" r="2.36" fill-opacity="0.52"/><circle cx="90.1" cy="753.8" r="2.87" fill-opacity="0.47"/><circle cx="43.0" cy="637.4" r="2.05" fill-opacity="0.39"/><circle cx="30.2" cy="662.4" r="2.50" fill-opacity="0.26"/><circle cx="123.1" cy="612.0" r="1.91" fill-opacity="0.78"/><circle cx="73.9" cy="672.7" r="2.87" fill-opacity="0.76"/><circle cx="111.5" cy="630.5" r="2.68" fill-opacity="0.69"/><circle cx="144.0" cy="675.5" r="2.11" fill-opacity="0.70"/><circle cx="102.3" cy="627.0" r="2.12" fill-opacity="0.66"/><circle cx="24.4" cy="671.4" r="2.67" fill-opacity="0.29"/><circle cx="85.7" cy="698.7" r="2.42" fill-opacity="0.43"/><circle cx="35.3" cy="664.7" r="2.54" fill-opacity="0.97"/><circle cx="123.1" cy="613.7" r="2.42" fill-opacity="0.65"/><circle cx="166.7" cy="740.2" r="2.41" fill-opacity="0.82"/><circle cx="25.8" cy="758.4" r="2.83" fill-opacity="0.93"/><circle cx="68.6" cy="746.1" r="2.81" fill-opacity="0.95"/><circle cx="85.1" cy="751.1" r="2.49" fill-opacity="0.36"/><circle cx="143.1" cy="635.2" r="2.63" fill-opacity="0.77"/><circle cx="125.9" cy="677.1" r="2.47" fill-opacity="0.45"/><circle cx="109.5" cy="721.4" r="2.49" fill-opacity="0.47"/><circle cx="53.9" cy="626.0" r="2.29" fill-opacity="0.27"/><circle cx="160.6" cy="673.0" r="2.64" fill-opacity="0.96"/><circle cx="126.4" cy="731.9" r="2.72" fill-opacity="0.33"/><circle cx="119.0" cy="618.8" r="2.87" fill-opacity="0.34"/><circle cx="121.7" cy="649.9" r="2.53" fill-opacity="0.32"/><circle cx="82.0" cy="672.2" r="2.82" fill-opacity="0.74"/><circle cx="121.1" cy="749.3" r="2.61" fill-opacity="0.61"/><circle cx="169.5" cy="724.3" r="2.64" fill-opacity="0.55"/><circle cx="97.0" cy="652.3" r="2.60" fill-opacity="0.68"/><circle cx="79.1" cy="703.4" r="2.80" fill-opacity="0.32"/><circle cx="117.2" cy="611.7" r="2.81" fill-opacity="0.56"/><circle cx="97.6" cy="681.4" r="2.00" fill-opacity="0.90"/><circle cx="83.8" cy="728.5" r="2.77" fill-opacity="0.26"/><circle cx="63.0" cy="636.3" r="2.60" fill-opacity="0.28"/><circle cx="42.8" cy="685.2" r="2.44" fill-opacity="0.47"/><circle cx="102.2" cy="754.7" r="2.54" fill-opacity="0.69"/><circle cx="129.2" cy="680.7" r="2.85" fill-opacity="0.25"/><circle cx="74.0" cy="692.6" r="2.30" fill-opacity="0.89"/><circle cx="131.1" cy="664.9" r="2.09" fill-opacity="0.50"/><circle cx="134.2" cy="731.1" r="2.40" fill-opacity="0.53"/><circle cx="117.9" cy="683.8" r="2.07" fill-opacity="0.65"/><circle cx="114.5" cy="688.3" r="1.98" fill-opacity="0.87"/><circle cx="41.9" cy="626.9" r="2.07" fill-opacity="0.68"/><circle cx="53.5" cy="761.3" r="2.65" fill-opacity="0.40"/><circle cx="87.1" cy="756.5" r="2.87" fill-opacity="0.61"/><circle cx="92.1" cy="645.1" r="1.92" fill-opacity="0.95"/><circle cx="31.4" cy="619.4" r="2.37" fill-opacity="0.59"/><circle cx="165.2" cy="639.0" r="2.39" fill-opacity="0.40"/><circle cx="111.3" cy="731.5" r="2.30" fill-opacity="0.80"/><circle cx="133.0" cy="636.1" r="2.38" fill-opacity="0.84"/><circle cx="164.4" cy="684.7" r="2.08" fill-opacity="0.87"/><circle cx="24.5" cy="615.1" r="2.15" fill-opacity="0.25"/><circle cx="40.7" cy="699.2" r="1.91" fill-opacity="0.64"/><circle cx="140.5" cy="732.5" r="2.21" fill-opacity="0.58"/><circle cx="133.2" cy="706.5" r="2.23" fill-opacity="0.33"/><circle cx="143.2" cy="687.6" r="1.93" fill-opacity="0.91"/><circle cx="156.6" cy="688.2" r="2.66" fill-opacity="0.27"/><circle cx="104.6" cy="627.7" r="2.79" fill-opacity="0.27"/><circle cx="109.9" cy="708.0" r="2.51" fill-opacity="0.27"/><circle cx="37.8" cy="693.1" r="1.92" fill-opacity="0.68"/><circle cx="159.3" cy="754.6" r="2.12" fill-opacity="0.42"/><circle cx="139.8" cy="722.6" r="2.43" fill-opacity="0.48"/><circle cx="176.8" cy="675.4" r="2.40" fill-opacity="0.25"/><circle cx="48.3" cy="641.5" r="2.24" fill-opacity="0.92"/><circle cx="119.9" cy="614.6" r="2.36" fill-opacity="0.38"/><circle cx="69.5" cy="626.7" r="2.80" fill-opacity="0.28"/><circle cx="125.9" cy="682.1" r="2.51" fill-opacity="0.30"/><circle cx="122.8" cy="757.8" r="2.66" fill-opacity="0.64"/><circle cx="110.5" cy="737.2" r="2.45" fill-opacity="0.33"/><circle cx="121.3" cy="676.5" r="2.81" fill-opacity="0.56"/><circle cx="45.1" cy="756.3" r="2.62" fill-opacity="0.35"/><circle cx="35.0" cy="689.2" r="2.76" fill-opacity="0.40"/><circle cx="140.0" cy="700.6" r="2.35" fill-opacity="0.96"/><circle cx="131.2" cy="663.5" r="2.54" fill-opacity="0.93"/><circle cx="87.7" cy="728.3" r="2.71" fill-opacity="0.51"/><circle cx="130.0" cy="698.0" r="2.63" fill-opacity="0.31"/><circle cx="84.7" cy="710.6" r="2.00" fill-opacity="0.76"/><circle cx="127.6" cy="656.9" r="2.74" fill-opacity="0.36"/><circle cx="120.4" cy="685.2" r="2.05" fill-opacity="0.48"/><circle cx="70.6" cy="688.3" r="1.98" fill-opacity="0.79"/><circle cx="54.3" cy="650.4" r="2.39" fill-opacity="0.61"/><circle cx="124.4" cy="742.8" r="2.20" fill-opacity="0.48"/><circle cx="89.7" cy="701.3" r="2.46" fill-opacity="0.73"/><circle cx="112.1" cy="720.7" r="2.15" fill-opacity="0.71"/><circle cx="102.9" cy="722.2" r="2.38" fill-opacity="0.80"/><circle cx="29.9" cy="762.4" r="2.40" fill-opacity="0.26"/><circle cx="120.3" cy="675.0" r="1.99" fill-opacity="0.53"/><circle cx="75.3" cy="691.3" r="2.68" fill-opacity="0.29"/><circle cx="167.3" cy="738.4" r="2.86" fill-opacity="0.61"/><circle cx="95.6" cy="677.7" r="2.45" fill-opacity="0.28"/><circle cx="126.1" cy="746.7" r="2.22" fill-opacity="0.87"/><circle cx="30.0" cy="712.0" r="2.11" fill-opacity="0.38"/><circle cx="127.0" cy="679.8" r="2.03" fill-opacity="0.37"/><circle cx="145.4" cy="690.2" r="1.91" fill-opacity="0.80"/><circle cx="151.2" cy="723.5" r="2.67" fill-opacity="0.97"/><circle cx="97.4" cy="643.4" r="2.04" fill-opacity="0.37"/><circle cx="175.5" cy="652.7" r="2.63" fill-opacity="0.78"/><circle cx="126.9" cy="698.3" r="2.62" fill-opacity="0.88"/><circle cx="62.0" cy="700.8" r="2.46" fill-opacity="0.92"/><circle cx="114.0" cy="695.4" r="2.24" fill-opacity="0.33"/><circle cx="56.2" cy="643.1" r="2.54" fill-opacity="0.42"/><circle cx="172.0" cy="643.6" r="2.82" fill-opacity="0.32"/><circle cx="56.5" cy="649.8" r="2.82" fill-opacity="0.60"/><circle cx="131.8" cy="700.7" r="2.47" fill-opacity="0.74"/><circle cx="62.9" cy="623.8" r="2.52" fill-opacity="0.57"/><circle cx="164.7" cy="760.7" r="2.08" fill-opacity="0.38"/><circle cx="123.6" cy="748.6" r="2.59" fill-opacity="0.56"/><circle cx="121.7" cy="705.4" r="2.31" fill-opacity="0.53"/><circle cx="131.0" cy="708.0" r="2.54" fill-opacity="0.28"/><circle cx="127.0" cy="758.5" r="2.86" fill-opacity="0.27"/><circle cx="78.9" cy="709.5" r="2.15" fill-opacity="0.29"/><circle cx="113.9" cy="757.3" r="2.12" fill-opacity="0.93"/><circle cx="87.8" cy="726.4" r="2.49" fill-opacity="0.83"/><circle cx="160.8" cy="640.0" r="1.94" fill-opacity="0.25"/><circle cx="26.6" cy="654.8" r="2.80" fill-opacity="0.35"/><circle cx="123.8" cy="749.8" r="2.62" fill-opacity="0.42"/><circle cx="63.7" cy="627.4" r="2.56" fill-opacity="0.33"/><circle cx="124.2" cy="681.8" r="2.87" fill-opacity="0.72"/><circle cx="34.3" cy="742.4" r="2.35" fill-opacity="0.69"/><circle cx="134.6" cy="616.5" r="2.61" fill-opacity="0.58"/><circle cx="76.1" cy="690.5" r="2.53" fill-opacity="0.87"/><circle cx="39.4" cy="651.4" r="2.64" fill-opacity="0.48"/><circle cx="96.6" cy="702.7" r="2.35" fill-opacity="0.87"/><circle cx="78.8" cy="691.0" r="2.15" fill-opacity="0.82"/><circle cx="129.8" cy="623.9" r="1.93" fill-opacity="0.53"/><circle cx="70.8" cy="631.7" r="2.85" fill-opacity="0.35"/><circle cx="121.0" cy="687.7" r="1.93" fill-opacity="0.72"/><circle cx="58.0" cy="722.6" r="2.73" fill-opacity="0.97"/><circle cx="167.7" cy="743.9" r="2.64" fill-opacity="0.47"/><circle cx="148.9" cy="745.9" r="2.10" fill-opacity="0.97"/><circle cx="148.6" cy="685.5" r="2.25" fill-opacity="0.28"/><circle cx="136.6" cy="664.3" r="2.08" fill-opacity="0.72"/><circle cx="122.4" cy="655.2" r="2.47" fill-opacity="0.62"/><circle cx="67.4" cy="731.3" r="2.76" fill-opacity="0.96"/><circle cx="130.6" cy="658.4" r="2.33" fill-opacity="1.00"/><circle cx="140.3" cy="729.8" r="2.77" fill-opacity="0.56"/><circle cx="114.6" cy="753.9" r="2.53" fill-opacity="0.31"/><circle cx="164.7" cy="630.6" r="2.71" fill-opacity="0.69"/><circle cx="88.4" cy="683.7" r="2.78" fill-opacity="0.41"/><circle cx="79.5" cy="636.7" r="2.72" fill-opacity="0.56"/><circle cx="121.4" cy="639.7" r="2.57" fill-opacity="0.57"/><circle cx="174.0" cy="678.9" r="2.85" fill-opacity="0.80"/><circle cx="76.0" cy="700.9" r="2.54" fill-opacity="0.25"/><circle cx="163.6" cy="689.0" r="2.13" fill-opacity="0.65"/><circle cx="89.2" cy="633.3" r="2.31" fill-opacity="0.31"/><circle cx="99.3" cy="678.3" r="2.13" fill-opacity="0.91"/><circle cx="74.2" cy="678.6" r="2.22" fill-opacity="0.28"/><circle cx="92.3" cy="680.8" r="2.53" fill-opacity="0.53"/><circle cx="81.2" cy="756.1" r="2.09" fill-opacity="0.65"/><circle cx="117.9" cy="715.1" r="2.63" fill-opacity="0.50"/><circle cx="41.3" cy="742.6" r="2.46" fill-opacity="0.58"/><circle cx="141.0" cy="622.8" r="2.62" fill-opacity="0.26"/><circle cx="108.5" cy="687.3" r="2.58" fill-opacity="0.45"/><circle cx="24.5" cy="715.0" r="2.21" fill-opacity="0.72"/><circle cx="121.6" cy="717.1" r="2.24" fill-opacity="0.26"/><circle cx="75.7" cy="636.0" r="2.74" fill-opacity="0.30"/><circle cx="100.5" cy="657.4" r="2.41" fill-opacity="0.36"/><circle cx="61.7" cy="698.1" r="2.39" fill-opacity="0.54"/><circle cx="56.8" cy="693.1" r="2.04" fill-opacity="0.49"/><circle cx="157.5" cy="747.9" r="2.06" fill-opacity="0.25"/><circle cx="78.8" cy="639.8" r="1.94" fill-opacity="0.65"/><circle cx="99.2" cy="690.6" r="2.49" fill-opacity="0.74"/><circle cx="98.0" cy="715.9" r="2.68" fill-opacity="0.25"/><circle cx="110.5" cy="659.0" r="1.99" fill-opacity="0.33"/><circle cx="117.1" cy="739.6" r="2.42" fill-opacity="0.94"/><circle cx="102.2" cy="713.5" r="2.46" fill-opacity="0.39"/><circle cx="52.0" cy="737.4" r="2.26" fill-opacity="0.38"/><circle cx="38.3" cy="758.4" r="2.75" fill-opacity="0.54"/><circle cx="160.4" cy="652.6" r="2.67" fill-opacity="0.31"/><circle cx="103.3" cy="711.1" r="2.12" fill-opacity="0.87"/><circle cx="112.2" cy="633.1" r="2.42" fill-opacity="0.63"/><circle cx="110.1" cy="754.4" r="2.87" fill-opacity="0.44"/><circle cx="54.3" cy="698.7" r="2.67" fill-opacity="0.71"/><circle cx="120.0" cy="732.7" r="2.80" fill-opacity="0.60"/><circle cx="139.2" cy="697.2" r="1.93" fill-opacity="0.33"/><circle cx="44.7" cy="718.1" r="2.54" fill-opacity="0.33"/><circle cx="69.6" cy="667.1" r="1.98" fill-opacity="0.86"/><circle cx="67.6" cy="671.3" r="2.58" fill-opacity="0.74"/><circle cx="156.3" cy="746.9" r="2.16" fill-opacity="0.78"/><circle cx="75.9" cy="661.5" r="2.83" fill-opacity="0.40"/><circle cx="121.5" cy="723.8" r="2.72" fill-opacity="0.56"/><circle cx="32.5" cy="731.4" r="2.70" fill-opacity="0.35"/><circle cx="158.9" cy="758.9" r="2.77" fill-opacity="0.25"/><circle cx="175.0" cy="691.4" r="2.46" fill-opacity="0.26"/><circle cx="168.1" cy="760.4" r="2.65" fill-opacity="0.42"/><circle cx="69.6" cy="616.4" r="2.35" fill-opacity="0.79"/><circle cx="87.6" cy="738.3" r="2.36" fill-opacity="0.59"/><circle cx="163.8" cy="745.8" r="2.46" fill-opacity="0.49"/><circle cx="27.9" cy="665.2" r="2.22" fill-opacity="0.71"/><circle cx="30.9" cy="727.5" r="2.16" fill-opacity="0.27"/><circle cx="42.2" cy="689.8" r="2.63" fill-opacity="0.27"/><circle cx="92.0" cy="647.8" r="2.81" fill-opacity="0.32"/><circle cx="147.7" cy="739.3" r="2.65" fill-opacity="0.77"/><circle cx="117.9" cy="676.2" r="2.19" fill-opacity="0.76"/><circle cx="138.6" cy="740.8" r="2.78" fill-opacity="0.92"/><circle cx="91.5" cy="746.2" r="2.76" fill-opacity="0.25"/><circle cx="118.4" cy="686.5" r="2.78" fill-opacity="0.34"/><circle cx="73.5" cy="640.8" r="2.51" fill-opacity="0.65"/><circle cx="93.7" cy="614.8" r="2.77" fill-opacity="0.82"/><circle cx="83.9" cy="621.7" r="2.52" fill-opacity="0.79"/><circle cx="116.9" cy="620.4" r="1.92" fill-opacity="0.66"/><circle cx="102.8" cy="613.0" r="2.82" fill-opacity="0.45"/><circle cx="127.0" cy="693.3" r="2.00" fill-opacity="0.51"/><circle cx="83.7" cy="717.7" r="2.33" fill-opacity="0.98"/><circle cx="118.6" cy="671.1" r="2.48" fill-opacity="0.52"/><circle cx="57.7" cy="723.9" r="2.69" fill-opacity="0.87"/><circle cx="169.4" cy="703.2" r="2.33" fill-opacity="0.84"/><circle cx="116.7" cy="748.6" r="2.02" fill-opacity="0.26"/><circle cx="99.1" cy="749.0" r="2.11" fill-opacity="0.80"/><circle cx="47.3" cy="638.1" r="2.15" fill-opacity="0.38"/><circle cx="138.5" cy="680.3" r="2.42" fill-opacity="0.29"/><circle cx="41.3" cy="619.1" r="1.93" fill-opacity="0.46"/><circle cx="80.0" cy="646.1" r="2.38" fill-opacity="0.61"/><circle cx="28.3" cy="623.8" r="2.60" fill-opacity="0.41"/><circle cx="26.0" cy="647.9" r="2.02" fill-opacity="0.31"/><circle cx="59.2" cy="617.4" r="2.84" fill-opacity="0.41"/><circle cx="50.9" cy="648.3" r="2.65" fill-opacity="0.25"/><circle cx="51.1" cy="651.2" r="2.56" fill-opacity="0.75"/><circle cx="149.5" cy="665.1" r="2.78" fill-opacity="0.96"/><circle cx="61.4" cy="757.3" r="2.27" fill-opacity="0.46"/><circle cx="146.7" cy="679.7" r="2.79" fill-opacity="0.94"/><circle cx="130.2" cy="685.1" r="2.71" fill-opacity="0.91"/><circle cx="104.2" cy="620.2" r="2.02" fill-opacity="0.96"/><circle cx="39.8" cy="748.5" r="2.87" fill-opacity="0.46"/><circle cx="36.4" cy="684.8" r="1.95" fill-opacity="0.42"/><circle cx="137.8" cy="733.9" r="2.75" fill-opacity="0.53"/><circle cx="114.9" cy="641.3" r="2.31" fill-opacity="0.25"/><circle cx="107.8" cy="697.0" r="2.18" fill-opacity="0.28"/><circle cx="147.9" cy="664.3" r="2.81" fill-opacity="0.92"/><circle cx="148.1" cy="750.8" r="2.46" fill-opacity="0.29"/><circle cx="174.4" cy="714.4" r="2.62" fill-opacity="0.62"/><circle cx="72.4" cy="649.8" r="2.29" fill-opacity="0.76"/><circle cx="53.1" cy="691.4" r="2.24" fill-opacity="0.84"/><circle cx="46.4" cy="620.1" r="2.71" fill-opacity="0.98"/><circle cx="33.9" cy="714.1" r="2.78" fill-opacity="0.62"/><circle cx="147.2" cy="724.6" r="2.55" fill-opacity="0.29"/><circle cx="30.1" cy="751.7" r="1.92" fill-opacity="0.38"/><circle cx="43.9" cy="613.5" r="1.95" fill-opacity="0.31"/><circle cx="83.0" cy="696.7" r="2.17" fill-opacity="0.41"/><circle cx="54.3" cy="644.3" r="2.90" fill-opacity="0.26"/><circle cx="135.7" cy="720.1" r="2.05" fill-opacity="0.44"/><circle cx="98.1" cy="716.8" r="2.17" fill-opacity="0.54"/><circle cx="137.5" cy="662.9" r="2.57" fill-opacity="0.89"/><circle cx="29.5" cy="641.6" r="2.20" fill-opacity="0.31"/><circle cx="88.4" cy="732.3" r="2.19" fill-opacity="0.92"/><circle cx="159.7" cy="741.0" r="1.92" fill-opacity="0.27"/><circle cx="76.9" cy="640.5" r="2.44" fill-opacity="0.26"/><circle cx="118.8" cy="708.7" r="2.62" fill-opacity="0.66"/><circle cx="86.8" cy="733.9" r="2.53" fill-opacity="0.31"/><circle cx="81.5" cy="710.0" r="2.02" fill-opacity="0.32"/><circle cx="108.3" cy="762.1" r="2.58" fill-opacity="0.97"/><circle cx="46.7" cy="614.1" r="2.57" fill-opacity="0.31"/><circle cx="145.4" cy="622.6" r="1.98" fill-opacity="0.27"/><circle cx="91.1" cy="733.6" r="2.64" fill-opacity="0.81"/><circle cx="147.7" cy="648.2" r="2.40" fill-opacity="0.97"/><circle cx="79.3" cy="658.1" r="2.57" fill-opacity="0.51"/><circle cx="44.1" cy="760.7" r="2.88" fill-opacity="0.55"/><circle cx="76.0" cy="640.0" r="2.06" fill-opacity="0.95"/><circle cx="45.1" cy="629.0" r="2.31" fill-opacity="0.90"/><circle cx="107.2" cy="690.7" r="2.22" fill-opacity="0.83"/><circle cx="28.6" cy="751.5" r="1.92" fill-opacity="0.75"/><circle cx="84.9" cy="754.8" r="2.83" fill-opacity="0.49"/><circle cx="108.1" cy="703.5" r="2.40" fill-opacity="0.26"/><circle cx="140.4" cy="623.0" r="2.19" fill-opacity="0.74"/><circle cx="64.5" cy="646.6" r="1.96" fill-opacity="0.32"/><circle cx="138.6" cy="688.7" r="2.00" fill-opacity="0.51"/><circle cx="25.1" cy="671.1" r="2.75" fill-opacity="0.71"/><circle cx="90.0" cy="645.3" r="2.68" fill-opacity="0.28"/><circle cx="102.5" cy="726.5" r="2.17" fill-opacity="0.70"/><circle cx="108.1" cy="756.0" r="2.86" fill-opacity="0.52"/><circle cx="102.2" cy="737.5" r="2.30" fill-opacity="0.38"/><circle cx="176.2" cy="663.2" r="2.50" fill-opacity="0.25"/><circle cx="36.5" cy="628.2" r="2.16" fill-opacity="0.60"/><circle cx="74.9" cy="654.1" r="2.35" fill-opacity="0.83"/><circle cx="153.1" cy="724.3" r="2.71" fill-opacity="0.36"/><circle cx="85.3" cy="681.3" r="1.94" fill-opacity="0.46"/><circle cx="71.8" cy="762.7" r="2.39" fill-opacity="0.38"/><circle cx="91.3" cy="613.4" r="2.36" fill-opacity="0.52"/><circle cx="59.2" cy="683.0" r="2.12" fill-opacity="0.58"/><circle cx="156.1" cy="714.5" r="2.87" fill-opacity="0.88"/><circle cx="79.3" cy="742.4" r="2.75" fill-opacity="0.91"/><circle cx="102.6" cy="748.2" r="2.39" fill-opacity="0.81"/><circle cx="136.9" cy="748.6" r="2.70" fill-opacity="0.43"/><circle cx="151.2" cy="720.0" r="2.87" fill-opacity="0.28"/><circle cx="27.2" cy="677.4" r="2.53" fill-opacity="0.61"/><circle cx="108.1" cy="704.7" r="2.90" fill-opacity="0.63"/><circle cx="96.3" cy="629.5" r="2.10" fill-opacity="0.73"/><circle cx="170.6" cy="634.5" r="2.03" fill-opacity="0.58"/><circle cx="150.2" cy="677.3" r="2.70" fill-opacity="0.27"/><circle cx="64.3" cy="685.0" r="2.41" fill-opacity="0.37"/><circle cx="85.5" cy="725.4" r="2.22" fill-opacity="0.94"/><circle cx="81.1" cy="737.0" r="2.82" fill-opacity="1.00"/><circle cx="159.1" cy="718.5" r="2.20" fill-opacity="0.32"/><circle cx="82.7" cy="727.9" r="1.95" fill-opacity="0.35"/><circle cx="31.4" cy="644.4" r="2.89" fill-opacity="0.90"/><circle cx="171.1" cy="728.4" r="2.25" fill-opacity="0.40"/><circle cx="158.6" cy="710.9" r="2.53" fill-opacity="0.49"/><circle cx="85.0" cy="699.8" r="2.01" fill-opacity="0.35"/><circle cx="36.0" cy="679.6" r="2.49" fill-opacity="0.79"/><circle cx="112.9" cy="760.3" r="2.62" fill-opacity="0.99"/><circle cx="101.6" cy="620.6" r="1.94" fill-opacity="0.26"/><circle cx="91.0" cy="747.9" r="2.33" fill-opacity="0.58"/><circle cx="57.0" cy="696.7" r="2.04" fill-opacity="0.81"/><circle cx="37.0" cy="752.5" r="2.24" fill-opacity="0.86"/><circle cx="59.1" cy="648.3" r="2.32" fill-opacity="0.45"/><circle cx="93.5" cy="760.6" r="2.01" fill-opacity="0.36"/><circle cx="113.3" cy="662.1" r="1.98" fill-opacity="0.65"/><circle cx="60.5" cy="635.3" r="2.59" fill-opacity="0.27"/><circle cx="57.8" cy="755.5" r="2.16" fill-opacity="0.47"/><circle cx="148.6" cy="752.2" r="2.84" fill-opacity="0.52"/><circle cx="86.2" cy="634.9" r="2.54" fill-opacity="0.76"/><circle cx="46.6" cy="748.2" r="2.43" fill-opacity="0.87"/><circle cx="159.9" cy="678.2" r="2.12" fill-opacity="0.75"/><circle cx="94.4" cy="614.4" r="2.75" fill-opacity="0.55"/><circle cx="76.1" cy="654.3" r="2.55" fill-opacity="0.89"/><circle cx="117.8" cy="660.3" r="2.08" fill-opacity="0.65"/><circle cx="48.5" cy="729.8" r="2.57" fill-opacity="0.73"/><circle cx="73.6" cy="696.5" r="2.89" fill-opacity="0.63"/><circle cx="166.1" cy="753.3" r="2.75" fill-opacity="0.36"/><circle cx="154.6" cy="685.5" r="2.59" fill-opacity="0.30"/><circle cx="86.7" cy="753.0" r="2.46" fill-opacity="0.33"/><circle cx="108.5" cy="718.6" r="2.61" fill-opacity="0.82"/><circle cx="49.8" cy="728.9" r="2.76" fill-opacity="0.99"/><circle cx="93.6" cy="752.8" r="2.14" fill-opacity="0.61"/><circle cx="49.9" cy="641.1" r="2.52" fill-opacity="0.36"/><circle cx="97.7" cy="750.4" r="2.10" fill-opacity="0.33"/><circle cx="93.8" cy="744.2" r="2.28" fill-opacity="0.29"/><circle cx="146.8" cy="657.0" r="2.83" fill-opacity="0.60"/><circle cx="115.1" cy="753.3" r="2.67" fill-opacity="0.67"/><circle cx="150.0" cy="644.0" r="2.16" fill-opacity="0.26"/><circle cx="118.4" cy="702.1" r="2.82" fill-opacity="0.50"/><circle cx="171.0" cy="659.3" r="2.50" fill-opacity="0.68"/><circle cx="125.1" cy="735.8" r="2.07" fill-opacity="0.87"/><circle cx="59.7" cy="701.9" r="2.47" fill-opacity="0.54"/><circle cx="83.9" cy="734.0" r="1.99" fill-opacity="0.34"/><circle cx="41.0" cy="676.1" r="1.92" fill-opacity="0.72"/><circle cx="26.6" cy="688.0" r="2.03" fill-opacity="0.33"/><circle cx="171.6" cy="762.3" r="1.94" fill-opacity="0.51"/><circle cx="155.2" cy="671.8" r="2.19" fill-opacity="0.57"/><circle cx="157.1" cy="646.0" r="2.74" fill-opacity="0.25"/><circle cx="138.4" cy="636.4" r="2.17" fill-opacity="0.60"/><circle cx="139.4" cy="676.4" r="2.82" fill-opacity="0.53"/><circle cx="49.9" cy="732.0" r="2.85" fill-opacity="0.90"/><circle cx="175.4" cy="689.2" r="1.95" fill-opacity="0.89"/><circle cx="114.5" cy="669.1" r="2.62" fill-opacity="0.31"/><circle cx="44.0" cy="621.2" r="2.85" fill-opacity="0.56"/><circle cx="31.7" cy="614.8" r="2.81" fill-opacity="0.26"/><circle cx="136.7" cy="665.1" r="2.54" fill-opacity="0.44"/><circle cx="28.0" cy="674.9" r="2.34" fill-opacity="0.67"/><circle cx="142.5" cy="752.9" r="2.41" fill-opacity="0.30"/><circle cx="27.1" cy="626.5" r="2.55" fill-opacity="0.41"/><circle cx="160.4" cy="640.4" r="2.49" fill-opacity="0.54"/><circle cx="114.7" cy="677.8" r="2.03" fill-opacity="0.94"/><circle cx="129.9" cy="629.6" r="2.25" fill-opacity="0.26"/><circle cx="132.9" cy="622.8" r="2.53" fill-opacity="0.48"/><circle cx="79.4" cy="663.4" r="2.04" fill-opacity="0.32"/><circle cx="134.8" cy="670.8" r="2.74" fill-opacity="0.41"/><circle cx="41.0" cy="745.1" r="2.55" fill-opacity="0.35"/><circle cx="139.3" cy="734.9" r="1.94" fill-opacity="0.52"/><circle cx="173.2" cy="668.6" r="2.52" fill-opacity="0.40"/><circle cx="33.5" cy="679.8" r="2.63" fill-opacity="0.53"/><circle cx="26.5" cy="661.9" r="2.21" fill-opacity="0.36"/><circle cx="113.8" cy="756.3" r="2.44" fill-opacity="0.74"/><circle cx="68.1" cy="757.0" r="2.25" fill-opacity="0.36"/><circle cx="74.3" cy="717.3" r="2.55" fill-opacity="0.82"/><circle cx="78.7" cy="625.2" r="2.71" fill-opacity="0.73"/><circle cx="121.8" cy="618.1" r="2.83" fill-opacity="0.38"/><circle cx="99.9" cy="717.3" r="1.94" fill-opacity="0.56"/><circle cx="152.6" cy="731.7" r="2.35" fill-opacity="0.26"/><circle cx="133.1" cy="646.2" r="2.74" fill-opacity="0.64"/><circle cx="33.7" cy="666.9" r="2.37" fill-opacity="0.55"/><circle cx="82.8" cy="678.2" r="2.80" fill-opacity="0.42"/><circle cx="146.4" cy="715.8" r="2.74" fill-opacity="0.58"/><circle cx="47.6" cy="633.2" r="2.84" fill-opacity="0.38"/><circle cx="153.5" cy="628.9" r="2.43" fill-opacity="0.36"/><circle cx="116.4" cy="744.6" r="2.71" fill-opacity="0.35"/><circle cx="51.2" cy="689.7" r="2.54" fill-opacity="0.27"/><circle cx="163.6" cy="676.2" r="2.31" fill-opacity="0.61"/><circle cx="63.8" cy="762.5" r="2.14" fill-opacity="0.38"/><circle cx="74.2" cy="681.5" r="2.51" fill-opacity="0.79"/><circle cx="77.7" cy="713.7" r="2.59" fill-opacity="0.91"/><circle cx="146.7" cy="662.3" r="1.90" fill-opacity="0.39"/><circle cx="62.8" cy="680.7" r="2.58" fill-opacity="0.26"/><circle cx="152.8" cy="647.3" r="2.74" fill-opacity="0.66"/><circle cx="82.1" cy="685.9" r="2.39" fill-opacity="0.30"/><circle cx="24.9" cy="739.1" r="2.26" fill-opacity="0.44"/><circle cx="100.0" cy="623.9" r="2.27" fill-opacity="0.26"/><circle cx="137.1" cy="720.0" r="2.28" fill-opacity="0.81"/><circle cx="53.9" cy="721.1" r="2.50" fill-opacity="0.87"/><circle cx="132.5" cy="648.9" r="2.89" fill-opacity="0.73"/><circle cx="149.9" cy="648.0" r="2.66" fill-opacity="0.79"/><circle cx="69.0" cy="708.3" r="2.41" fill-opacity="0.41"/><circle cx="168.2" cy="711.1" r="2.28" fill-opacity="0.70"/><circle cx="57.7" cy="613.9" r="2.24" fill-opacity="0.53"/><circle cx="135.4" cy="632.7" r="2.33" fill-opacity="0.30"/><circle cx="140.1" cy="636.9" r="2.61" fill-opacity="0.54"/><circle cx="155.6" cy="717.2" r="2.42" fill-opacity="0.48"/><circle cx="48.1" cy="620.5" r="2.37" fill-opacity="0.81"/><circle cx="29.2" cy="745.5" r="2.70" fill-opacity="0.67"/><circle cx="105.4" cy="667.1" r="2.54" fill-opacity="0.41"/><circle cx="112.0" cy="682.9" r="2.64" fill-opacity="0.54"/><circle cx="46.5" cy="689.7" r="2.73" fill-opacity="0.53"/><circle cx="34.6" cy="666.6" r="2.89" fill-opacity="0.44"/><circle cx="25.9" cy="706.8" r="2.68" fill-opacity="0.29"/><circle cx="52.5" cy="638.4" r="2.89" fill-opacity="0.30"/><circle cx="143.0" cy="722.8" r="1.91" fill-opacity="0.77"/><circle cx="69.3" cy="733.9" r="2.89" fill-opacity="0.95"/><circle cx="34.9" cy="702.1" r="2.62" fill-opacity="0.88"/><circle cx="90.9" cy="666.6" r="2.33" fill-opacity="0.66"/><circle cx="58.0" cy="639.9" r="2.26" fill-opacity="0.25"/><circle cx="42.9" cy="718.7" r="2.58" fill-opacity="0.80"/><circle cx="142.3" cy="626.2" r="2.41" fill-opacity="0.26"/><circle cx="120.4" cy="657.8" r="2.23" fill-opacity="0.97"/><circle cx="50.5" cy="728.5" r="2.56" fill-opacity="0.95"/><circle cx="137.0" cy="737.6" r="2.17" fill-opacity="0.95"/><circle cx="134.8" cy="682.3" r="1.91" fill-opacity="0.33"/><circle cx="115.4" cy="636.6" r="2.80" fill-opacity="0.35"/><circle cx="161.3" cy="751.1" r="2.33" fill-opacity="0.89"/><circle cx="104.3" cy="722.8" r="2.35" fill-opacity="0.78"/><circle cx="174.7" cy="642.0" r="2.11" fill-opacity="0.71"/><circle cx="160.9" cy="721.3" r="2.47" fill-opacity="0.47"/><circle cx="173.1" cy="738.8" r="2.00" fill-opacity="0.36"/><circle cx="160.9" cy="613.5" r="2.28" fill-opacity="0.75"/><circle cx="128.0" cy="645.9" r="2.73" fill-opacity="0.43"/><circle cx="114.9" cy="629.1" r="2.55" fill-opacity="0.93"/><circle cx="122.7" cy="751.2" r="2.16" fill-opacity="0.45"/><circle cx="121.0" cy="707.6" r="2.03" fill-opacity="0.37"/><circle cx="37.0" cy="741.5" r="2.08" fill-opacity="0.52"/><circle cx="139.9" cy="639.2" r="2.65" fill-opacity="0.30"/><circle cx="139.5" cy="664.8" r="2.88" fill-opacity="0.37"/><circle cx="37.0" cy="637.1" r="2.57" fill-opacity="0.73"/><circle cx="121.9" cy="726.6" r="1.98" fill-opacity="0.79"/><circle cx="93.5" cy="628.3" r="2.50" fill-opacity="0.34"/><circle cx="128.9" cy="693.8" r="2.19" fill-opacity="0.61"/><circle cx="152.3" cy="755.7" r="2.74" fill-opacity="0.57"/><circle cx="63.5" cy="658.3" r="2.34" fill-opacity="0.64"/><circle cx="151.6" cy="659.3" r="2.76" fill-opacity="0.33"/><circle cx="126.5" cy="704.3" r="2.12" fill-opacity="0.30"/><circle cx="114.5" cy="733.6" r="2.15" fill-opacity="0.36"/><circle cx="70.5" cy="627.9" r="2.60" fill-opacity="0.51"/><circle cx="163.9" cy="636.3" r="2.72" fill-opacity="0.58"/><circle cx="46.1" cy="762.6" r="2.76" fill-opacity="0.84"/><circle cx="148.8" cy="755.1" r="2.80" fill-opacity="0.83"/><circle cx="85.2" cy="711.8" r="2.16" fill-opacity="0.80"/><circle cx="158.6" cy="753.4" r="2.88" fill-opacity="0.63"/><circle cx="101.8" cy="612.1" r="2.58" fill-opacity="0.38"/><circle cx="168.8" cy="639.9" r="2.72" fill-opacity="0.72"/><circle cx="171.8" cy="701.8" r="2.84" fill-opacity="0.52"/><circle cx="28.0" cy="666.2" r="2.38" fill-opacity="0.61"/><circle cx="119.2" cy="637.3" r="2.08" fill-opacity="0.35"/><circle cx="89.6" cy="629.5" r="2.43" fill-opacity="0.35"/><circle cx="121.8" cy="706.0" r="2.34" fill-opacity="0.85"/><circle cx="124.4" cy="653.9" r="2.03" fill-opacity="0.74"/><circle cx="53.7" cy="615.3" r="2.57" fill-opacity="0.27"/><circle cx="84.0" cy="614.6" r="2.23" fill-opacity="0.58"/><circle cx="142.4" cy="631.4" r="2.85" fill-opacity="0.51"/><circle cx="161.9" cy="617.7" r="2.10" fill-opacity="0.91"/><circle cx="124.1" cy="663.0" r="2.76" fill-opacity="0.85"/><circle cx="86.1" cy="725.5" r="2.04" fill-opacity="0.84"/><circle cx="142.5" cy="709.7" r="2.44" fill-opacity="0.53"/><circle cx="154.6" cy="678.1" r="2.41" fill-opacity="0.54"/><circle cx="65.7" cy="682.2" r="2.81" fill-opacity="0.32"/><circle cx="74.2" cy="679.9" r="2.57" fill-opacity="0.29"/><circle cx="50.0" cy="676.4" r="2.22" fill-opacity="0.75"/><circle cx="102.1" cy="754.4" r="2.34" fill-opacity="0.26"/><circle cx="50.4" cy="649.7" r="2.47" fill-opacity="0.84"/><circle cx="54.7" cy="632.1" r="2.44" fill-opacity="0.31"/><circle cx="165.5" cy="619.6" r="2.11" fill-opacity="0.53"/><circle cx="85.4" cy="642.4" r="2.51" fill-opacity="0.34"/><circle cx="147.0" cy="692.0" r="2.56" fill-opacity="0.25"/><circle cx="109.5" cy="689.0" r="2.24" fill-opacity="0.72"/><circle cx="172.6" cy="685.9" r="2.71" fill-opacity="0.89"/><circle cx="135.6" cy="624.9" r="2.30" fill-opacity="0.60"/><circle cx="145.6" cy="689.7" r="2.54" fill-opacity="0.90"/><circle cx="99.8" cy="628.7" r="2.59" fill-opacity="0.30"/><circle cx="85.0" cy="632.5" r="2.11" fill-opacity="0.60"/><circle cx="99.9" cy="711.1" r="2.30" fill-opacity="0.26"/><circle cx="133.7" cy="728.8" r="2.28" fill-opacity="0.26"/><circle cx="77.1" cy="629.5" r="2.19" fill-opacity="0.53"/><circle cx="150.6" cy="692.5" r="2.51" fill-opacity="0.36"/><circle cx="140.3" cy="664.8" r="2.58" fill-opacity="0.64"/><circle cx="28.7" cy="636.9" r="1.99" fill-opacity="0.25"/><circle cx="159.3" cy="615.7" r="2.23" fill-opacity="0.68"/><circle cx="159.4" cy="624.6" r="2.12" fill-opacity="0.80"/><circle cx="155.1" cy="684.3" r="2.81" fill-opacity="0.43"/><circle cx="131.7" cy="762.4" r="2.89" fill-opacity="0.86"/><circle cx="94.0" cy="718.5" r="2.05" fill-opacity="0.26"/><circle cx="28.7" cy="742.1" r="2.11" fill-opacity="0.73"/><circle cx="24.4" cy="735.8" r="2.30" fill-opacity="0.91"/><circle cx="106.1" cy="735.4" r="2.56" fill-opacity="1.00"/><circle cx="68.0" cy="740.2" r="2.32" fill-opacity="0.87"/><circle cx="32.3" cy="737.4" r="2.52" fill-opacity="0.92"/><circle cx="134.0" cy="665.2" r="1.99" fill-opacity="0.95"/><circle cx="58.4" cy="637.5" r="2.25" fill-opacity="0.61"/><circle cx="139.9" cy="696.5" r="2.52" fill-opacity="0.42"/><circle cx="78.6" cy="754.7" r="2.68" fill-opacity="0.36"/><circle cx="61.2" cy="758.9" r="2.50" fill-opacity="0.29"/><circle cx="71.2" cy="706.1" r="2.10" fill-opacity="0.83"/><circle cx="81.2" cy="716.9" r="2.06" fill-opacity="0.47"/><circle cx="144.5" cy="698.7" r="1.96" fill-opacity="0.36"/><circle cx="104.6" cy="707.4" r="1.94" fill-opacity="0.29"/><circle cx="93.1" cy="718.6" r="2.75" fill-opacity="0.67"/><circle cx="123.1" cy="702.5" r="2.33" fill-opacity="0.33"/><circle cx="162.9" cy="637.0" r="2.59" fill-opacity="0.64"/><circle cx="91.0" cy="698.3" r="2.56" fill-opacity="0.59"/><circle cx="65.4" cy="755.2" r="2.08" fill-opacity="0.39"/><circle cx="110.1" cy="718.4" r="2.13" fill-opacity="0.32"/><circle cx="102.1" cy="723.9" r="2.28" fill-opacity="0.80"/><circle cx="47.2" cy="705.6" r="1.92" fill-opacity="0.85"/><circle cx="151.5" cy="630.3" r="2.80" fill-opacity="0.27"/><circle cx="134.8" cy="666.1" r="2.32" fill-opacity="0.42"/><circle cx="147.2" cy="689.2" r="2.48" fill-opacity="0.34"/><circle cx="28.6" cy="626.1" r="2.83" fill-opacity="0.86"/><circle cx="115.5" cy="662.2" r="2.10" fill-opacity="0.66"/><circle cx="39.8" cy="713.8" r="1.94" fill-opacity="0.26"/><circle cx="150.2" cy="680.1" r="2.77" fill-opacity="0.26"/><circle cx="159.4" cy="634.8" r="2.74" fill-opacity="0.88"/><circle cx="134.7" cy="743.5" r="2.75" fill-opacity="0.86"/><circle cx="151.8" cy="649.9" r="2.82" fill-opacity="0.31"/><circle cx="161.2" cy="736.3" r="2.65" fill-opacity="0.94"/><circle cx="24.9" cy="633.6" r="2.06" fill-opacity="0.78"/><circle cx="61.0" cy="722.2" r="2.12" fill-opacity="0.42"/><circle cx="83.5" cy="739.4" r="2.08" fill-opacity="0.66"/><circle cx="175.3" cy="685.8" r="2.03" fill-opacity="0.88"/><circle cx="86.4" cy="730.6" r="2.33" fill-opacity="0.30"/><circle cx="125.0" cy="696.9" r="1.99" fill-opacity="0.62"/><circle cx="169.9" cy="762.1" r="2.20" fill-opacity="0.53"/><circle cx="92.4" cy="645.5" r="2.15" fill-opacity="0.88"/><circle cx="107.7" cy="612.1" r="2.41" fill-opacity="0.63"/><circle cx="28.1" cy="705.4" r="1.97" fill-opacity="0.69"/><circle cx="110.4" cy="744.1" r="2.62" fill-opacity="0.27"/><circle cx="89.8" cy="645.0" r="2.40" fill-opacity="0.44"/><circle cx="171.5" cy="685.5" r="1.92" fill-opacity="0.40"/><circle cx="74.6" cy="741.0" r="2.58" fill-opacity="0.99"/><circle cx="64.5" cy="612.4" r="2.74" fill-opacity="0.45"/><circle cx="77.9" cy="681.7" r="2.29" fill-opacity="0.31"/><circle cx="98.8" cy="759.8" r="2.45" fill-opacity="0.66"/><circle cx="171.0" cy="716.4" r="2.22" fill-opacity="0.39"/><circle cx="173.6" cy="752.7" r="2.24" fill-opacity="0.31"/><circle cx="102.0" cy="687.8" r="2.19" fill-opacity="0.53"/><circle cx="58.6" cy="659.4" r="2.28" fill-opacity="0.78"/><circle cx="169.8" cy="756.2" r="2.88" fill-opacity="0.64"/><circle cx="61.6" cy="635.9" r="2.38" fill-opacity="0.41"/><circle cx="110.7" cy="632.1" r="2.76" fill-opacity="0.28"/><circle cx="114.8" cy="662.5" r="2.53" fill-opacity="0.74"/><circle cx="77.7" cy="661.4" r="2.60" fill-opacity="0.63"/><circle cx="38.7" cy="712.4" r="2.31" fill-opacity="0.59"/><circle cx="55.2" cy="674.3" r="2.34" fill-opacity="0.55"/><circle cx="98.2" cy="636.9" r="2.60" fill-opacity="0.88"/><circle cx="72.4" cy="671.3" r="2.04" fill-opacity="0.57"/><circle cx="65.1" cy="701.2" r="2.33" fill-opacity="0.63"/><circle cx="96.3" cy="730.9" r="2.78" fill-opacity="0.87"/><circle cx="168.8" cy="730.4" r="1.93" fill-opacity="0.43"/><circle cx="70.3" cy="754.9" r="2.85" fill-opacity="0.27"/><circle cx="135.7" cy="628.8" r="2.71" fill-opacity="0.80"/><circle cx="67.7" cy="689.7" r="1.97" fill-opacity="0.33"/><circle cx="84.4" cy="682.3" r="2.69" fill-opacity="0.43"/><circle cx="111.2" cy="719.3" r="2.87" fill-opacity="0.52"/><circle cx="143.0" cy="726.4" r="2.72" fill-opacity="0.43"/><circle cx="64.2" cy="760.1" r="2.38" fill-opacity="0.93"/><circle cx="151.6" cy="621.9" r="1.92" fill-opacity="0.81"/><circle cx="29.6" cy="618.0" r="2.01" fill-opacity="0.97"/><circle cx="160.3" cy="680.4" r="2.64" fill-opacity="0.46"/><circle cx="77.6" cy="644.2" r="2.25" fill-opacity="0.42"/><circle cx="121.6" cy="696.4" r="1.94" fill-opacity="0.29"/><circle cx="49.8" cy="706.3" r="2.87" fill-opacity="0.26"/><circle cx="122.4" cy="730.5" r="2.31" fill-opacity="0.27"/><circle cx="27.9" cy="617.1" r="1.92" fill-opacity="0.66"/><circle cx="96.3" cy="655.5" r="2.67" fill-opacity="0.89"/><circle cx="141.2" cy="634.2" r="2.55" fill-opacity="0.56"/><circle cx="84.8" cy="745.9" r="2.61" fill-opacity="0.26"/><circle cx="165.2" cy="758.2" r="2.43" fill-opacity="0.56"/><circle cx="134.4" cy="626.5" r="2.00" fill-opacity="0.28"/><circle cx="165.6" cy="699.7" r="2.09" fill-opacity="0.97"/><circle cx="79.5" cy="661.5" r="2.37" fill-opacity="0.97"/><circle cx="90.9" cy="660.2" r="1.92" fill-opacity="0.56"/><circle cx="43.9" cy="688.5" r="2.02" fill-opacity="0.51"/><circle cx="36.3" cy="737.8" r="2.48" fill-opacity="0.82"/><circle cx="96.1" cy="709.6" r="2.29" fill-opacity="0.74"/><circle cx="166.9" cy="751.8" r="1.96" fill-opacity="0.91"/><circle cx="78.9" cy="696.7" r="2.30" fill-opacity="0.35"/><circle cx="142.9" cy="688.3" r="2.66" fill-opacity="0.35"/><circle cx="30.4" cy="699.7" r="2.06" fill-opacity="0.95"/><circle cx="75.5" cy="671.6" r="2.26" fill-opacity="0.81"/><circle cx="67.6" cy="647.9" r="2.52" fill-opacity="0.58"/><circle cx="145.8" cy="632.4" r="2.73" fill-opacity="0.45"/><circle cx="155.3" cy="689.7" r="2.64" fill-opacity="0.80"/><circle cx="27.9" cy="761.2" r="2.16" fill-opacity="0.86"/><circle cx="164.5" cy="712.0" r="2.47" fill-opacity="0.40"/><circle cx="42.6" cy="634.9" r="2.76" fill-opacity="0.47"/><circle cx="158.1" cy="740.4" r="2.53" fill-opacity="0.33"/><circle cx="150.6" cy="697.1" r="2.70" fill-opacity="0.41"/><circle cx="44.5" cy="624.0" r="2.62" fill-opacity="1.00"/><circle cx="63.6" cy="698.8" r="2.79" fill-opacity="0.72"/><circle cx="160.4" cy="716.6" r="2.76" fill-opacity="0.34"/><circle cx="35.8" cy="755.2" r="2.09" fill-opacity="0.79"/><circle cx="36.3" cy="627.4" r="2.61" fill-opacity="0.48"/><circle cx="132.0" cy="697.7" r="1.92" fill-opacity="0.71"/><circle cx="93.0" cy="694.0" r="2.89" fill-opacity="0.97"/><circle cx="69.5" cy="677.7" r="2.35" fill-opacity="0.30"/><circle cx="71.0" cy="693.2" r="2.34" fill-opacity="0.65"/><circle cx="176.2" cy="711.2" r="2.15" fill-opacity="0.93"/><circle cx="134.0" cy="707.8" r="1.91" fill-opacity="0.88"/><circle cx="93.7" cy="711.3" r="2.11" fill-opacity="0.65"/><circle cx="163.0" cy="747.3" r="2.46" fill-opacity="0.36"/><circle cx="71.9" cy="613.4" r="2.71" fill-opacity="0.82"/><circle cx="123.8" cy="672.1" r="2.64" fill-opacity="0.92"/><circle cx="53.9" cy="688.0" r="2.83" fill-opacity="0.60"/><circle cx="63.5" cy="664.3" r="2.34" fill-opacity="0.69"/><circle cx="132.4" cy="623.7" r="2.51" fill-opacity="0.58"/><circle cx="42.9" cy="721.0" r="2.04" fill-opacity="0.67"/><circle cx="164.4" cy="718.9" r="2.13" fill-opacity="0.25"/><circle cx="40.7" cy="710.9" r="2.50" fill-opacity="0.51"/><circle cx="92.2" cy="743.4" r="2.55" fill-opacity="0.27"/><circle cx="98.4" cy="639.5" r="1.99" fill-opacity="0.52"/><circle cx="104.3" cy="707.2" r="2.35" fill-opacity="0.48"/><circle cx="165.2" cy="736.5" r="2.82" fill-opacity="0.85"/><circle cx="143.4" cy="662.3" r="1.91" fill-opacity="0.30"/><circle cx="156.3" cy="721.0" r="2.48" fill-opacity="0.86"/><circle cx="165.5" cy="625.6" r="2.62" fill-opacity="0.78"/><circle cx="166.5" cy="741.9" r="2.38" fill-opacity="0.34"/><circle cx="124.3" cy="741.4" r="2.86" fill-opacity="0.93"/><circle cx="130.0" cy="659.1" r="2.09" fill-opacity="0.87"/><circle cx="34.8" cy="647.8" r="1.90" fill-opacity="0.37"/><circle cx="72.1" cy="668.5" r="2.42" fill-opacity="0.35"/><circle cx="68.8" cy="730.2" r="2.46" fill-opacity="0.37"/><circle cx="125.9" cy="739.2" r="2.87" fill-opacity="0.31"/><circle cx="99.1" cy="695.4" r="2.64" fill-opacity="0.71"/><circle cx="74.6" cy="647.5" r="2.25" fill-opacity="0.49"/><circle cx="142.5" cy="698.4" r="2.48" fill-opacity="0.40"/><circle cx="62.8" cy="633.5" r="2.37" fill-opacity="0.65"/><circle cx="153.3" cy="694.8" r="2.51" fill-opacity="0.84"/><circle cx="111.0" cy="737.8" r="2.27" fill-opacity="0.34"/></g></g>
<text x="31.6" y="476.7" font-size="18.5" font-weight="bold" fill="#fff">c</text>
<text x="185.9" y="476.7" font-size="18.5" font-weight="bold" fill="#fff">e</text>
<text x="32.0" y="631.7" font-size="18.5" font-weight="bold" fill="#fff">d</text>
<text x="185.9" y="631.7" font-size="18.5" font-weight="bold" fill="#fff">f</text>
<rect x="33.3" y="753.2" width="55.7" height="2.2" fill="#fff"/>
<line x1="151" y1="761.9" x2="173.7" y2="761.9" stroke="#888" stroke-width="0.8"/>
<rect x="2.2" y="458.5" width="19.3" height="146.3" fill="#fff" stroke="#333" stroke-width="1.5"/>
<rect x="0.8" y="614" width="19.4" height="146" fill="#fff" stroke="#333" stroke-width="1.6"/>
<text transform="translate(13.8 529.6) rotate(-90)" font-size="15.9" text-anchor="middle">young</text>
<text transform="translate(14.6 685) rotate(-90)" font-size="15.5" text-anchor="middle">aged</text>
<text x="67" y="450" font-size="15" font-weight="bold"><tspan font-style="italic">gfp</tspan> RNA</text>
<text x="212.6" y="450" font-size="15.4" font-weight="bold">GFP protein</text>
<defs><linearGradient id="cbar" x1="0" x2="1" y1="0" y2="0"><stop offset="0.00" stop-color="rgb(5,5,15)"/><stop offset="0.10" stop-color="rgb(0,0,70)"/><stop offset="0.21" stop-color="rgb(0,20,255)"/><stop offset="0.30" stop-color="rgb(10,110,140)"/><stop offset="0.39" stop-color="rgb(0,255,30)"/><stop offset="0.52" stop-color="rgb(70,170,25)"/><stop offset="0.63" stop-color="rgb(150,110,20)"/><stop offset="0.74" stop-color="rgb(215,45,15)"/><stop offset="0.82" stop-color="rgb(255,15,30)"/><stop offset="0.92" stop-color="rgb(195,20,85)"/><stop offset="1.00" stop-color="rgb(180,140,140)"/></linearGradient></defs>
<rect x="198.8" y="772.3" width="112.2" height="14.2" fill="url(#cbar)"/>
<text x="168.5" y="783.4" font-size="13.6">low</text>
<text x="320.2" y="783.4" font-size="14.1">high</text>
</svg></body></html>
